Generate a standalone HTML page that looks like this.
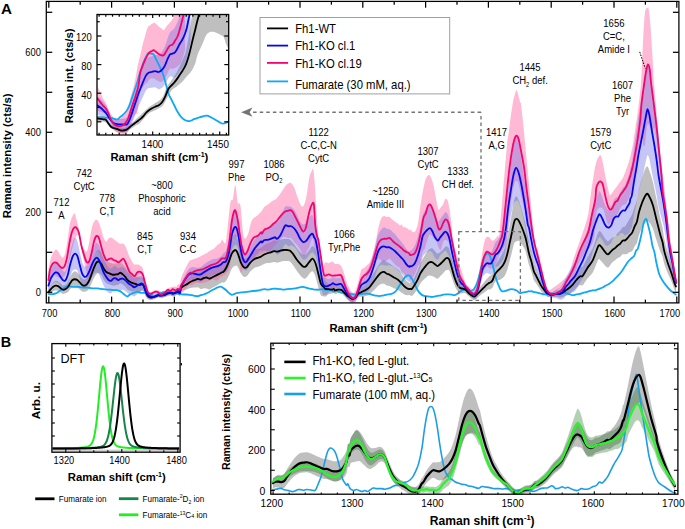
<!DOCTYPE html>
<html><head><meta charset="utf-8"><style>
html,body{margin:0;padding:0;background:#fff;}
svg{display:block;font-family:"Liberation Sans", sans-serif;}
</style></head><body>
<svg width="685" height="529" viewBox="0 0 685 529">
<rect width="685" height="529" fill="#fff"/>
<defs>
<clipPath id="cA"><rect x="46.3" y="1.4" width="632.6" height="301.5"/></clipPath>
<clipPath id="cI"><rect x="97.0" y="14.5" width="131.7" height="120.5"/></clipPath>
<clipPath id="cB"><rect x="270.8" y="343.2" width="407.09999999999997" height="151.0"/></clipPath>
<clipPath id="cD"><rect x="52.4" y="343.6" width="127.19999999999999" height="107.39999999999998"/></clipPath>
</defs>
<path d="M48.41,289.01 C48.81,288.42 50.02,286.60 50.82,285.51 C51.62,284.43 52.43,283.29 53.23,282.50 C54.03,281.71 54.84,280.96 55.64,280.77 C56.44,280.59 57.24,280.92 58.05,281.39 C58.85,281.86 59.65,282.91 60.46,283.59 C61.26,284.27 62.06,285.21 62.87,285.46 C63.67,285.71 64.47,285.65 65.28,285.11 C66.08,284.56 66.88,283.53 67.69,282.21 C68.49,280.90 69.29,278.76 70.10,277.23 C70.90,275.71 71.70,274.05 72.51,273.06 C73.31,272.07 74.11,271.38 74.92,271.29 C75.72,271.20 76.52,271.84 77.33,272.53 C78.13,273.21 78.93,274.45 79.73,275.42 C80.54,276.38 81.34,277.61 82.14,278.31 C82.95,279.00 83.75,279.79 84.55,279.59 C85.36,279.40 86.16,278.41 86.96,277.14 C87.77,275.88 88.57,274.10 89.37,271.98 C90.18,269.86 90.98,266.94 91.78,264.41 C92.59,261.89 93.39,259.10 94.19,256.84 C95.00,254.59 95.80,252.01 96.60,250.88 C97.41,249.75 98.21,249.76 99.01,250.06 C99.82,250.36 100.62,251.41 101.42,252.68 C102.22,253.96 103.03,256.32 103.83,257.71 C104.63,259.10 105.44,260.29 106.24,261.03 C107.04,261.77 107.85,261.80 108.65,262.15 C109.45,262.50 110.26,262.85 111.06,263.12 C111.86,263.38 112.67,263.68 113.47,263.76 C114.27,263.84 115.08,263.65 115.88,263.61 C116.68,263.57 117.54,263.72 118.29,263.51 C119.03,263.29 119.60,262.22 120.35,262.34 C121.10,262.45 121.97,263.42 122.78,264.19 C123.60,264.96 124.45,265.91 125.22,266.94 C125.98,267.96 126.61,269.40 127.38,270.35 C128.15,271.31 129.02,272.01 129.84,272.69 C130.66,273.37 131.48,273.94 132.30,274.41 C133.12,274.88 133.83,275.03 134.75,275.52 C135.68,276.01 136.91,276.96 137.83,277.36 C138.75,277.76 139.47,277.76 140.29,277.91 C141.11,278.07 142.03,277.48 142.75,278.28 C143.46,279.08 143.98,280.86 144.59,282.71 C145.21,284.55 145.82,287.56 146.44,289.36 C147.05,291.16 147.56,292.56 148.28,293.52 C149.00,294.47 149.92,294.88 150.74,295.10 C151.56,295.32 152.38,294.94 153.20,294.84 C154.02,294.73 154.84,294.74 155.66,294.45 C156.48,294.17 157.30,293.40 158.12,293.12 C158.94,292.85 159.76,292.81 160.58,292.78 C161.40,292.75 162.21,293.02 163.03,292.93 C163.85,292.83 164.67,292.55 165.49,292.21 C166.31,291.87 167.13,291.23 167.95,290.89 C168.77,290.55 169.59,290.21 170.41,290.17 C171.23,290.14 172.05,290.72 172.87,290.69 C173.69,290.66 174.49,290.26 175.33,289.98 C176.17,289.69 177.12,288.99 177.89,288.96 C178.67,288.93 179.51,290.47 180.00,289.79 C180.49,289.11 180.22,286.19 180.84,284.87 C181.45,283.55 182.73,282.77 183.67,281.89 C184.62,281.02 185.57,280.50 186.51,279.62 C187.46,278.75 188.40,277.52 189.35,276.64 C190.29,275.76 191.24,275.04 192.18,274.35 C193.13,273.65 194.08,273.12 195.02,272.47 C195.97,271.82 196.91,270.81 197.86,270.45 C198.80,270.08 199.75,270.68 200.70,270.27 C201.64,269.85 202.59,268.59 203.53,267.96 C204.48,267.34 205.42,266.53 206.37,266.51 C207.31,266.48 208.26,267.76 209.21,267.82 C210.15,267.88 211.10,267.23 212.04,266.86 C212.99,266.49 213.93,266.03 214.88,265.62 C215.83,265.21 216.77,264.79 217.72,264.38 C218.66,263.96 219.84,263.49 220.55,263.14 C221.27,262.78 221.53,262.60 222.00,262.23 C222.47,261.85 222.73,261.98 223.39,260.88 C224.05,259.78 225.04,257.93 225.96,255.63 C226.88,253.33 227.94,249.96 228.93,247.07 C229.92,244.18 230.91,240.47 231.90,238.30 C232.89,236.14 234.05,234.30 234.87,234.09 C235.70,233.87 236.19,235.43 236.85,237.02 C237.51,238.62 238.17,241.29 238.83,243.67 C239.49,246.05 239.99,248.97 240.81,251.31 C241.64,253.65 242.79,256.56 243.78,257.72 C244.77,258.88 245.76,258.84 246.75,258.28 C247.74,257.71 248.73,255.47 249.72,254.32 C250.71,253.16 251.70,252.17 252.69,251.35 C253.68,250.52 254.73,249.81 255.66,249.37 C256.60,248.93 257.33,249.08 258.32,248.71 C259.31,248.35 260.59,247.80 261.61,247.17 C262.62,246.55 263.42,245.62 264.43,244.98 C265.43,244.35 266.57,243.88 267.64,243.37 C268.71,242.85 269.78,242.42 270.85,241.91 C271.92,241.39 272.99,240.50 274.06,240.29 C275.14,240.08 276.21,240.73 277.28,240.63 C278.35,240.52 279.42,239.93 280.49,239.66 C281.56,239.39 282.63,239.13 283.70,239.02 C284.77,238.91 285.84,238.91 286.92,239.02 C287.99,239.13 289.06,238.96 290.13,239.66 C291.20,240.35 292.27,241.82 293.34,243.19 C294.41,244.56 295.48,246.43 296.55,247.85 C297.63,249.27 298.70,250.55 299.77,251.70 C300.84,252.86 302.04,254.21 302.98,254.76 C303.92,255.30 304.59,255.40 305.39,254.96 C306.19,254.52 307.00,253.14 307.80,252.11 C308.60,251.07 309.41,249.74 310.21,248.73 C311.01,247.72 311.82,246.04 312.62,246.04 C313.42,246.04 314.27,247.32 315.00,248.75 C315.73,250.18 316.28,251.96 317.00,254.65 C317.72,257.34 318.60,261.81 319.30,264.88 C320.00,267.95 320.40,270.82 321.20,273.07 C322.00,275.32 323.39,277.04 324.10,278.38 C324.81,279.73 324.71,280.16 325.47,281.12 C326.23,282.08 327.61,283.34 328.68,284.12 C329.75,284.90 331.05,285.63 331.90,285.78 C332.75,285.94 333.25,284.90 333.78,285.06 C334.32,285.22 334.44,286.57 335.11,286.73 C335.78,286.90 336.74,286.11 337.78,286.05 C338.82,285.99 340.28,285.80 341.35,286.35 C342.41,286.90 343.24,288.35 344.18,289.35 C345.13,290.35 346.08,291.50 347.02,292.34 C347.97,293.18 348.91,293.64 349.86,294.39 C350.80,295.14 351.75,296.70 352.70,296.83 C353.64,296.96 354.59,296.28 355.53,295.19 C356.48,294.09 357.42,291.50 358.37,290.27 C359.31,289.04 360.26,288.66 361.21,287.81 C362.15,286.96 363.10,286.02 364.04,285.16 C364.99,284.31 365.93,283.62 366.88,282.67 C367.83,281.73 368.77,280.82 369.72,279.51 C370.66,278.20 371.61,276.39 372.55,274.83 C373.50,273.27 374.44,271.71 375.39,270.15 C376.34,268.59 377.28,266.88 378.23,265.47 C379.17,264.07 380.12,262.67 381.06,261.74 C382.01,260.81 382.96,259.84 383.90,259.90 C384.85,259.96 385.79,261.52 386.74,262.10 C387.68,262.68 388.63,262.81 389.57,263.40 C390.52,263.99 391.49,264.97 392.41,265.65 C393.34,266.32 394.20,266.83 395.12,267.47 C396.05,268.11 397.01,268.59 397.96,269.48 C398.90,270.37 399.85,271.53 400.80,272.80 C401.74,274.08 402.69,275.79 403.63,277.13 C404.58,278.48 405.54,279.90 406.47,280.87 C407.39,281.85 408.58,282.71 409.17,282.99 C409.76,283.26 409.53,282.74 410.00,282.53 C410.47,282.31 411.20,282.70 412.00,281.67 C412.81,280.65 413.89,278.27 414.84,276.39 C415.78,274.51 416.73,272.63 417.67,270.40 C418.62,268.17 419.56,265.11 420.51,263.01 C421.45,260.91 422.40,259.43 423.34,257.81 C424.29,256.20 425.23,254.70 426.17,253.33 C427.12,251.95 428.06,250.41 429.01,249.55 C429.95,248.69 430.90,248.00 431.84,248.18 C432.79,248.36 433.73,249.76 434.68,250.64 C435.62,251.52 436.57,253.25 437.51,253.47 C438.46,253.69 439.40,252.69 440.35,251.97 C441.29,251.25 442.23,250.08 443.18,249.13 C444.12,248.19 445.19,246.67 446.01,246.30 C446.84,245.93 447.55,246.33 448.14,246.92 C448.73,247.51 448.97,247.96 449.56,249.82 C450.15,251.68 450.85,254.78 451.68,258.06 C452.51,261.35 453.57,266.18 454.52,269.53 C455.46,272.88 456.40,275.96 457.35,278.16 C458.29,280.36 459.25,281.72 460.18,282.71 C461.11,283.70 462.07,283.61 462.93,284.10 C463.78,284.60 464.41,284.70 465.33,285.68 C466.26,286.65 467.50,288.94 468.50,289.98 C469.50,291.01 470.39,291.35 471.34,291.87 C472.28,292.38 473.34,293.11 474.17,293.05 C475.00,292.98 475.59,292.10 476.30,291.45 C477.00,290.80 477.59,290.08 478.42,289.15 C479.25,288.22 480.31,287.00 481.26,285.85 C482.20,284.70 483.26,283.31 484.09,282.26 C484.92,281.21 485.51,280.42 486.22,279.57 C486.92,278.72 487.63,277.82 488.34,277.16 C489.05,276.50 489.76,276.31 490.47,275.60 C491.17,274.89 491.88,274.39 492.59,272.91 C493.30,271.42 494.01,268.38 494.72,266.67 C495.43,264.96 496.13,263.89 496.84,262.66 C497.55,261.42 498.26,260.39 498.97,259.26 C499.68,258.12 500.39,257.11 501.09,255.85 C501.80,254.60 502.51,253.36 503.22,251.75 C503.93,250.13 504.64,248.55 505.35,246.14 C506.05,243.74 506.76,240.73 507.47,237.32 C508.18,233.91 508.89,229.55 509.60,225.66 C510.30,221.77 511.13,217.32 511.72,214.00 C512.31,210.69 512.66,208.30 513.14,205.76 C513.62,203.22 514.04,200.31 514.60,198.75 C515.16,197.19 515.83,196.19 516.50,196.40 C517.17,196.61 517.77,197.90 518.60,200.00 C519.43,202.10 520.43,205.35 521.50,209.00 C522.57,212.65 524.15,218.49 525.00,221.87 C525.85,225.25 525.94,225.91 526.61,229.25 C527.27,232.60 528.21,238.25 529.01,241.94 C529.82,245.63 530.62,247.98 531.42,251.41 C532.22,254.83 533.03,259.64 533.83,262.49 C534.63,265.34 535.44,266.53 536.24,268.50 C537.04,270.47 537.84,272.35 538.65,274.28 C539.45,276.21 540.25,278.40 541.05,280.06 C541.86,281.72 542.66,282.85 543.46,284.23 C544.26,285.61 545.07,287.21 545.87,288.35 C546.67,289.49 547.48,290.41 548.28,291.08 C549.08,291.75 549.75,292.23 550.69,292.36 C551.62,292.49 552.83,292.18 553.90,291.85 C554.97,291.51 556.04,290.72 557.11,290.36 C558.18,289.99 559.25,290.16 560.32,289.67 C561.39,289.17 562.46,288.28 563.53,287.37 C564.60,286.47 565.67,285.28 566.74,284.22 C567.81,283.15 568.88,282.21 569.95,281.00 C571.02,279.80 572.09,278.46 573.16,276.99 C574.23,275.52 575.27,273.72 576.37,272.18 C577.48,270.63 578.74,268.68 579.79,267.71 C580.85,266.74 581.45,268.07 582.70,266.38 C583.95,264.68 585.65,260.55 587.30,257.57 C588.95,254.59 591.22,251.42 592.60,248.51 C593.98,245.60 594.60,242.88 595.60,240.08 C596.60,237.29 597.72,233.12 598.60,231.76 C599.48,230.40 600.09,231.32 600.87,231.94 C601.65,232.57 602.48,234.31 603.28,235.51 C604.08,236.70 604.88,238.19 605.69,239.13 C606.49,240.07 607.29,241.14 608.09,241.15 C608.90,241.15 609.70,239.82 610.50,239.15 C611.31,238.49 612.11,237.71 612.91,237.16 C613.71,236.61 614.52,236.55 615.32,235.85 C616.12,235.15 616.92,233.79 617.73,232.96 C618.53,232.13 619.33,231.83 620.13,230.87 C620.94,229.91 621.74,227.93 622.54,227.18 C623.35,226.43 624.15,227.09 624.95,226.38 C625.75,225.66 626.54,224.22 627.36,222.86 C628.18,221.51 629.08,219.67 629.88,218.25 C630.69,216.84 631.40,216.24 632.18,214.35 C632.95,212.47 633.74,209.34 634.54,206.95 C635.34,204.55 636.23,202.99 636.99,199.97 C637.75,196.95 638.18,192.79 639.10,188.82 C640.02,184.85 641.22,179.88 642.50,176.15 C643.78,172.41 645.58,167.12 646.80,166.43 C648.02,165.75 648.78,169.46 649.80,172.03 C650.82,174.61 651.75,177.21 652.90,181.90 C654.05,186.59 655.43,194.00 656.70,200.20 C657.97,206.40 659.53,214.55 660.50,219.10 C661.47,223.65 661.87,224.23 662.50,227.50 C663.13,230.77 663.43,234.56 664.30,238.70 C665.17,242.84 666.47,247.77 667.70,252.32 C668.93,256.87 670.57,261.92 671.70,266.02 C672.83,270.12 673.78,274.49 674.50,276.90 C675.22,279.31 675.75,279.90 676.00,280.50 L676.00,292.50 C675.75,292.00 675.22,291.25 674.50,289.50 C673.78,287.75 672.83,284.72 671.70,281.98 C670.57,279.24 668.93,276.06 667.70,273.08 C666.47,270.10 665.17,266.86 664.30,264.10 C663.43,261.34 663.13,258.50 662.50,256.50 C661.87,254.50 661.47,254.72 660.50,252.10 C659.53,249.48 657.97,244.70 656.70,240.80 C655.43,236.90 654.05,231.67 652.90,228.70 C651.75,225.73 650.82,224.19 649.80,222.97 C648.78,221.74 648.02,220.69 646.80,221.37 C645.58,222.05 643.78,224.82 642.50,227.05 C641.22,229.29 640.02,232.15 639.10,234.78 C638.18,237.42 637.75,240.93 636.99,242.87 C636.23,244.81 635.34,245.05 634.54,246.40 C633.74,247.75 632.95,250.01 632.18,250.96 C631.40,251.92 630.69,251.66 629.88,252.12 C629.08,252.57 628.18,253.32 627.36,253.69 C626.54,254.07 625.75,254.27 624.95,254.36 C624.15,254.44 623.35,253.77 622.54,254.19 C621.74,254.62 620.94,256.28 620.13,256.92 C619.33,257.57 618.53,257.54 617.73,258.05 C616.92,258.56 616.12,259.34 615.32,259.97 C614.52,260.61 613.71,261.09 612.91,261.87 C612.11,262.66 611.31,263.75 610.50,264.70 C609.70,265.64 608.90,267.24 608.09,267.52 C607.29,267.79 606.49,266.99 605.69,266.32 C604.88,265.66 604.08,264.47 603.28,263.53 C602.48,262.58 601.65,261.38 600.87,260.67 C600.09,259.96 599.48,258.37 598.60,259.24 C597.72,260.11 596.60,263.67 595.60,265.92 C594.60,268.16 593.98,270.54 592.60,272.69 C591.22,274.84 588.95,276.74 587.30,278.83 C585.65,280.92 583.95,284.18 582.70,285.23 C581.45,286.27 580.85,284.66 579.79,285.10 C578.74,285.54 577.48,286.87 576.37,287.86 C575.27,288.86 574.23,290.14 573.16,291.07 C572.09,292.01 571.02,292.81 569.95,293.48 C568.88,294.15 567.81,294.54 566.74,295.09 C565.67,295.63 564.60,296.31 563.53,296.74 C562.46,297.17 561.39,297.62 560.32,297.66 C559.25,297.70 558.18,297.07 557.11,296.97 C556.04,296.88 554.97,297.15 553.90,297.09 C552.83,297.02 551.62,296.60 550.69,296.57 C549.75,296.54 549.08,297.03 548.28,296.89 C547.48,296.76 546.67,296.34 545.87,295.77 C545.07,295.20 544.26,294.22 543.46,293.46 C542.66,292.70 541.86,292.23 541.05,291.22 C540.25,290.20 539.45,288.65 538.65,287.36 C537.84,286.08 537.04,284.76 536.24,283.51 C535.44,282.26 534.63,281.86 533.83,279.89 C533.03,277.92 532.22,274.17 531.42,271.70 C530.62,269.24 529.82,267.85 529.01,265.12 C528.21,262.39 527.27,257.87 526.61,255.33 C525.94,252.79 525.85,251.76 525.00,249.87 C524.15,247.98 522.57,245.51 521.50,244.00 C520.43,242.49 519.43,241.23 518.60,240.80 C517.77,240.37 517.17,241.12 516.50,241.40 C515.83,241.68 515.16,241.51 514.60,242.45 C514.04,243.40 513.62,245.32 513.14,247.08 C512.66,248.83 512.31,250.65 511.72,253.00 C511.13,255.35 510.30,258.46 509.60,261.18 C508.89,263.91 508.18,267.11 507.47,269.36 C506.76,271.62 506.05,273.33 505.35,274.71 C504.64,276.08 503.93,276.87 503.22,277.61 C502.51,278.35 501.80,278.77 501.09,279.17 C500.39,279.57 499.68,279.73 498.97,280.02 C498.26,280.30 497.55,280.45 496.84,280.87 C496.13,281.28 495.43,281.40 494.72,282.52 C494.01,283.65 493.30,286.51 492.59,287.62 C491.88,288.73 491.17,288.85 490.47,289.18 C489.76,289.51 489.05,289.32 488.34,289.61 C487.63,289.89 486.92,290.41 486.22,290.88 C485.51,291.35 484.92,291.83 484.09,292.44 C483.26,293.05 482.20,293.78 481.26,294.52 C480.31,295.26 479.25,296.17 478.42,296.89 C477.59,297.61 477.00,298.30 476.30,298.83 C475.59,299.37 475.00,300.14 474.17,300.07 C473.34,300.01 472.28,299.09 471.34,298.42 C470.39,297.75 469.50,296.92 468.50,296.06 C467.50,295.20 466.26,293.76 465.33,293.27 C464.41,292.79 463.78,293.13 462.93,293.15 C462.07,293.17 461.11,293.78 460.18,293.40 C459.25,293.02 458.29,292.22 457.35,290.87 C456.40,289.52 455.46,287.65 454.52,285.33 C453.57,283.01 452.51,279.34 451.68,276.96 C450.85,274.57 450.15,272.24 449.56,271.03 C448.97,269.82 448.73,269.80 448.14,269.68 C447.55,269.56 446.84,269.72 446.01,270.30 C445.19,270.88 444.12,272.19 443.18,273.13 C442.23,274.08 441.29,275.04 440.35,275.97 C439.40,276.90 438.46,278.49 437.51,278.72 C436.57,278.94 435.62,277.74 434.68,277.30 C433.73,276.86 432.79,276.36 431.84,276.07 C430.90,275.78 429.95,275.33 429.01,275.55 C428.06,275.78 427.12,276.70 426.17,277.44 C425.23,278.19 424.29,279.06 423.34,280.04 C422.40,281.03 421.45,281.90 420.51,283.35 C419.56,284.79 418.62,287.16 417.67,288.71 C416.73,290.26 415.78,291.45 414.84,292.64 C413.89,293.83 412.81,295.42 412.00,295.86 C411.20,296.29 410.47,295.38 410.00,295.25 C409.53,295.13 409.76,295.13 409.17,295.11 C408.58,295.09 407.39,295.33 406.47,295.13 C405.54,294.93 404.58,294.41 403.63,293.91 C402.69,293.40 401.74,292.75 400.80,292.09 C399.85,291.44 398.90,290.55 397.96,289.99 C397.01,289.42 396.05,289.09 395.12,288.69 C394.20,288.28 393.34,287.99 392.41,287.54 C391.49,287.10 390.52,286.36 389.57,286.01 C388.63,285.65 387.68,285.78 386.74,285.42 C385.79,285.05 384.85,284.09 383.90,283.84 C382.96,283.58 382.01,283.55 381.06,283.89 C380.12,284.22 379.17,285.02 378.23,285.83 C377.28,286.63 376.34,287.75 375.39,288.71 C374.44,289.68 373.50,290.64 372.55,291.60 C371.61,292.56 370.66,293.78 369.72,294.49 C368.77,295.20 367.83,295.54 366.88,295.86 C365.93,296.18 364.99,296.24 364.04,296.40 C363.10,296.55 362.15,296.68 361.21,296.78 C360.26,296.87 359.31,296.49 358.37,296.96 C357.42,297.44 356.48,298.81 355.53,299.61 C354.59,300.41 353.64,301.62 352.70,301.75 C351.75,301.88 350.80,300.92 349.86,300.41 C348.91,299.89 347.97,299.41 347.02,298.67 C346.08,297.94 345.13,296.89 344.18,295.99 C343.24,295.10 342.41,293.76 341.35,293.32 C340.28,292.87 338.82,293.18 337.78,293.34 C336.74,293.50 335.78,294.37 335.11,294.27 C334.44,294.17 334.32,292.83 333.78,292.72 C333.25,292.61 332.75,293.35 331.90,293.61 C331.05,293.88 329.75,293.80 328.68,294.31 C327.61,294.82 326.23,296.35 325.47,296.67 C324.71,296.99 324.81,296.37 324.10,296.22 C323.39,296.06 322.00,296.65 321.20,295.73 C320.40,294.82 320.00,292.98 319.30,290.72 C318.60,288.45 317.72,284.73 317.00,282.15 C316.28,279.57 315.73,277.05 315.00,275.25 C314.27,273.45 313.42,271.75 312.62,271.35 C311.82,270.95 311.01,272.08 310.21,272.84 C309.41,273.59 308.60,274.94 307.80,275.89 C307.00,276.83 306.19,278.13 305.39,278.50 C304.59,278.86 303.92,278.69 302.98,278.05 C302.04,277.42 300.84,275.94 299.77,274.68 C298.70,273.42 297.63,272.03 296.55,270.50 C295.48,268.98 294.41,267.00 293.34,265.52 C292.27,264.05 291.20,262.42 290.13,261.67 C289.06,260.92 287.99,261.13 286.92,261.02 C285.84,260.91 284.77,260.91 283.70,261.02 C282.63,261.13 281.56,261.39 280.49,261.66 C279.42,261.93 278.35,262.57 277.28,262.63 C276.21,262.68 275.14,262.00 274.06,262.00 C272.99,262.00 271.92,262.45 270.85,262.63 C269.78,262.81 268.71,262.92 267.64,263.10 C266.57,263.28 265.43,263.38 264.43,263.73 C263.42,264.08 262.62,264.68 261.61,265.17 C260.59,265.67 259.31,266.35 258.32,266.71 C257.33,267.08 256.60,266.93 255.66,267.37 C254.73,267.81 253.68,268.52 252.69,269.35 C251.70,270.17 250.71,271.16 249.72,272.32 C248.73,273.47 247.74,275.52 246.75,276.28 C245.76,277.03 244.77,277.32 243.78,276.83 C242.79,276.34 241.64,274.63 240.81,273.35 C239.99,272.06 239.49,270.35 238.83,269.10 C238.17,267.85 237.51,266.36 236.85,265.85 C236.19,265.33 235.70,265.57 234.87,266.01 C234.05,266.46 232.89,266.93 231.90,268.53 C230.91,270.13 229.92,273.54 228.93,275.60 C227.94,277.67 226.88,279.72 225.96,280.91 C225.04,282.10 224.05,282.52 223.39,282.74 C222.73,282.96 222.47,282.13 222.00,282.23 C221.53,282.32 221.27,282.87 220.55,283.32 C219.84,283.76 218.66,284.38 217.72,284.91 C216.77,285.45 215.83,285.98 214.88,286.51 C213.93,287.04 212.99,287.62 212.04,288.10 C211.10,288.59 210.15,289.36 209.21,289.42 C208.26,289.48 207.31,288.63 206.37,288.46 C205.42,288.29 204.48,288.34 203.53,288.42 C202.59,288.50 201.64,289.13 200.70,288.95 C199.75,288.77 198.80,287.58 197.86,287.36 C196.91,287.13 195.97,287.55 195.02,287.60 C194.08,287.66 193.13,287.60 192.18,287.71 C191.24,287.82 190.29,287.95 189.35,288.25 C188.40,288.55 187.46,289.22 186.51,289.53 C185.57,289.83 184.62,289.79 183.67,290.10 C182.73,290.40 181.45,290.42 180.84,291.37 C180.22,292.32 180.49,295.22 180.00,295.79 C179.51,296.36 178.67,294.82 177.89,294.79 C177.12,294.76 176.17,295.38 175.33,295.60 C174.49,295.82 173.69,296.15 172.87,296.12 C172.05,296.09 171.23,295.44 170.41,295.41 C169.59,295.37 168.77,295.65 167.95,295.92 C167.13,296.20 166.31,296.78 165.49,297.05 C164.67,297.33 163.85,297.54 163.03,297.57 C162.21,297.60 161.40,297.26 160.58,297.23 C159.76,297.19 158.94,297.16 158.12,297.37 C157.30,297.59 156.48,298.17 155.66,298.50 C154.84,298.83 154.02,299.05 153.20,299.35 C152.38,299.65 151.56,300.30 150.74,300.32 C149.92,300.33 149.00,299.92 148.28,299.44 C147.56,298.96 147.05,298.51 146.44,297.45 C145.82,296.38 145.21,294.26 144.59,293.03 C143.98,291.81 143.46,290.31 142.75,290.08 C142.03,289.86 141.11,291.32 140.29,291.68 C139.47,292.04 138.75,292.24 137.83,292.23 C136.91,292.22 135.68,291.74 134.75,291.62 C133.83,291.49 133.12,291.64 132.30,291.49 C131.48,291.35 130.66,291.10 129.84,290.76 C129.02,290.41 128.15,290.05 127.38,289.40 C126.61,288.75 125.98,287.65 125.22,286.85 C124.45,286.05 123.60,285.20 122.78,284.59 C121.97,283.98 121.10,283.16 120.35,283.18 C119.60,283.21 119.03,284.38 118.29,284.73 C117.54,285.07 116.68,285.09 115.88,285.27 C115.08,285.44 114.27,285.78 113.47,285.76 C112.67,285.73 111.86,285.38 111.06,285.12 C110.26,284.85 109.45,284.50 108.65,284.15 C107.85,283.80 107.04,283.73 106.24,283.03 C105.44,282.32 104.63,281.20 103.83,279.92 C103.03,278.63 102.22,276.44 101.42,275.31 C100.62,274.17 99.82,273.35 99.01,273.11 C98.21,272.88 97.41,273.16 96.60,273.90 C95.80,274.64 95.00,276.08 94.19,277.58 C93.39,279.07 92.59,281.10 91.78,282.86 C90.98,284.62 90.18,286.78 89.37,288.14 C88.57,289.50 87.77,290.40 86.96,291.01 C86.16,291.61 85.36,291.70 84.55,291.77 C83.75,291.85 82.95,291.83 82.14,291.45 C81.34,291.08 80.54,290.17 79.73,289.52 C78.93,288.88 78.13,287.98 77.33,287.60 C76.52,287.21 75.72,287.31 74.92,287.22 C74.11,287.13 73.31,286.71 72.51,287.06 C71.70,287.41 70.90,288.43 70.10,289.31 C69.29,290.20 68.49,291.69 67.69,292.36 C66.88,293.03 66.08,293.07 65.28,293.33 C64.47,293.59 63.67,294.06 62.87,293.94 C62.06,293.81 61.26,293.10 60.46,292.60 C59.65,292.10 58.85,291.27 58.05,290.94 C57.24,290.60 56.44,290.56 55.64,290.59 C54.84,290.62 54.03,290.73 53.23,291.11 C52.43,291.50 51.62,292.24 50.82,292.92 C50.02,293.60 48.81,294.83 48.41,295.21 Z" fill="#808080" fill-opacity="0.5" stroke="none" clip-path="url(#cA)"/>
<path d="M48.41,269.62 C48.81,267.74 50.02,261.18 50.82,258.37 C51.62,255.56 52.43,254.22 53.23,252.75 C54.03,251.28 54.84,249.81 55.64,249.54 C56.44,249.27 57.24,250.21 58.05,251.14 C58.85,252.08 59.65,254.09 60.46,255.16 C61.26,256.23 62.06,257.97 62.87,257.57 C63.67,257.17 64.47,255.83 65.28,252.75 C66.08,249.67 66.88,244.05 67.69,239.10 C68.49,234.14 69.03,227.32 70.10,223.03 C71.17,218.75 73.04,213.93 74.11,213.39 C75.18,212.86 75.72,217.14 76.52,219.82 C77.33,222.50 78.13,225.44 78.93,229.46 C79.73,233.47 80.40,240.57 81.34,243.92 C82.28,247.26 83.62,248.33 84.55,249.54 C85.49,250.74 86.16,252.48 86.96,251.14 C87.77,249.81 88.57,245.39 89.37,241.51 C90.18,237.62 90.98,231.20 91.78,227.85 C92.59,224.50 93.39,222.76 94.19,221.43 C95.00,220.09 95.80,219.55 96.60,219.82 C97.41,220.09 98.21,221.29 99.01,223.03 C99.82,224.77 100.62,227.72 101.42,230.26 C102.22,232.80 103.03,236.42 103.83,238.29 C104.63,240.17 105.44,241.51 106.24,241.51 C107.04,241.51 107.85,238.96 108.65,238.29 C109.45,237.62 110.26,237.36 111.06,237.49 C111.86,237.62 112.53,238.43 113.47,239.10 C114.41,239.77 115.60,240.74 116.68,241.51 C117.76,242.27 118.88,243.33 119.95,243.67 C121.02,244.01 122.11,242.99 123.09,243.55 C124.07,244.11 124.91,245.17 125.83,247.02 C126.75,248.88 127.73,252.58 128.61,254.67 C129.48,256.77 130.25,258.05 131.07,259.59 C131.89,261.13 132.71,263.07 133.53,263.89 C134.34,264.71 135.16,264.41 135.98,264.51 C136.80,264.61 137.62,264.20 138.44,264.51 C139.26,264.82 140.19,265.74 140.90,266.35 C141.62,266.97 142.23,266.66 142.75,268.20 C143.26,269.74 143.46,272.71 143.98,275.58 C144.49,278.44 145.21,282.85 145.82,285.41 C146.44,287.97 146.85,289.82 147.67,290.94 C148.48,292.07 149.61,292.28 150.74,292.17 C151.87,292.07 153.20,290.64 154.43,290.33 C155.66,290.02 156.89,290.13 158.12,290.33 C159.35,290.54 160.58,291.56 161.80,291.56 C163.03,291.56 164.26,290.94 165.49,290.33 C166.72,289.72 167.95,288.49 169.18,287.87 C170.41,287.26 171.64,286.85 172.87,286.64 C174.10,286.44 175.70,286.99 176.56,286.64 C177.41,286.30 177.43,284.98 178.00,284.57 C178.57,284.16 179.53,285.13 180.00,284.18 C180.48,283.24 180.22,280.96 180.84,278.90 C181.45,276.84 182.73,273.94 183.67,271.81 C184.62,269.68 185.57,267.91 186.51,266.13 C187.46,264.36 188.40,262.23 189.35,261.17 C190.29,260.11 191.00,260.22 192.18,259.75 C193.37,259.28 195.02,258.92 196.44,258.33 C197.86,257.74 199.28,256.91 200.70,256.21 C202.11,255.50 203.53,254.91 204.95,254.08 C206.37,253.25 208.02,251.95 209.21,251.24 C210.39,250.53 211.10,250.41 212.04,249.82 C212.99,249.23 213.93,248.52 214.88,247.70 C215.83,246.87 216.77,245.69 217.72,244.86 C218.66,244.03 219.84,243.61 220.55,242.73 C221.27,241.85 221.53,239.79 222.00,239.55 C222.47,239.32 222.71,241.14 223.39,241.31 C224.07,241.48 224.96,246.83 226.09,240.57 C227.23,234.32 229.06,210.72 230.19,203.78 C231.32,196.85 232.04,202.06 232.89,198.96 C233.74,195.87 234.46,184.55 235.28,185.21 C236.11,185.87 236.98,199.50 237.84,202.92 C238.70,206.35 239.47,200.15 240.46,205.76 C241.45,211.37 242.57,231.78 243.78,236.58 C245.00,241.39 246.42,237.24 247.74,234.60 C249.06,231.96 250.38,223.71 251.70,220.74 C253.02,217.77 254.61,217.76 255.66,216.78 C256.71,215.81 257.06,215.77 258.00,214.91 C258.94,214.04 260.31,212.86 261.31,211.60 C262.32,210.33 263.09,208.43 264.05,207.34 C265.01,206.26 266.07,205.83 267.07,205.08 C268.08,204.32 269.09,203.56 270.10,202.81 C271.11,202.05 272.11,201.17 273.12,200.54 C274.13,199.91 275.14,199.91 276.15,199.03 C277.16,198.14 278.16,196.63 279.17,195.25 C280.18,193.86 281.19,192.22 282.20,190.71 C283.20,189.20 284.21,187.38 285.22,186.17 C286.23,184.96 287.24,183.95 288.25,183.45 C289.25,182.95 290.26,182.44 291.27,183.15 C292.28,183.85 293.29,185.42 294.29,187.68 C295.30,189.95 296.31,193.99 297.32,196.76 C298.33,199.53 299.46,202.68 300.34,204.32 C301.23,205.96 301.86,206.84 302.61,206.59 C303.37,206.34 304.12,205.20 304.88,202.81 C305.64,200.41 306.39,196.51 307.15,192.22 C307.91,187.94 308.66,180.63 309.42,177.10 C310.17,173.57 311.06,172.31 311.69,171.05 C312.32,169.79 312.69,167.52 313.20,169.54 C313.70,171.55 314.21,176.85 314.71,183.15 C315.21,189.45 315.72,199.78 316.22,207.34 C316.73,214.91 316.86,218.94 317.74,228.52 C318.61,238.09 320.16,259.15 321.45,264.80 C322.74,270.44 324.27,262.66 325.47,262.39 C326.67,262.12 327.61,263.33 328.68,263.19 C329.75,263.06 331.05,261.72 331.90,261.59 C332.75,261.46 333.25,262.01 333.78,262.41 C334.32,262.81 334.44,263.77 335.11,264.00 C335.78,264.22 336.90,263.54 337.78,263.75 C338.66,263.96 339.65,264.53 340.40,265.25 C341.15,265.97 341.66,266.67 342.29,268.09 C342.92,269.50 343.40,271.24 344.18,273.76 C344.97,276.28 346.08,280.69 347.02,283.22 C347.97,285.74 348.91,287.31 349.86,288.89 C350.80,290.46 351.75,292.36 352.70,292.67 C353.64,292.99 354.59,292.67 355.53,290.78 C356.48,288.89 357.42,284.79 358.37,281.32 C359.31,277.86 360.26,272.18 361.21,269.98 C362.15,267.77 363.10,268.87 364.04,268.09 C364.99,267.30 365.93,266.19 366.88,265.25 C367.83,264.30 368.77,264.14 369.72,262.41 C370.66,260.68 371.61,258.00 372.55,254.85 C373.50,251.69 374.44,247.91 375.39,243.50 C376.34,239.09 377.28,232.47 378.23,228.37 C379.17,224.27 380.12,220.96 381.06,218.91 C382.01,216.86 382.96,216.39 383.90,216.08 C384.85,215.76 385.79,216.86 386.74,217.02 C387.68,217.18 388.63,216.55 389.57,217.02 C390.52,217.49 391.47,219.07 392.41,219.86 C393.36,220.65 394.30,221.12 395.25,221.75 C396.19,222.38 397.29,223.02 398.09,223.64 C398.88,224.26 399.37,225.32 400.00,225.48 C400.63,225.64 401.36,224.33 401.87,224.59 C402.37,224.84 402.36,226.51 403.02,226.99 C403.69,227.47 404.84,226.99 405.85,227.49 C406.86,227.99 408.38,229.71 409.07,230.01 C409.76,230.32 409.50,229.06 410.00,229.31 C410.50,229.57 411.24,231.16 412.10,231.53 C412.95,231.89 414.11,233.04 415.12,231.53 C416.13,230.01 417.26,226.74 418.14,222.45 C419.03,218.17 419.66,210.86 420.41,205.82 C421.17,200.78 421.92,196.25 422.68,192.21 C423.44,188.18 424.19,184.28 424.95,181.63 C425.70,178.99 426.46,177.40 427.21,176.34 C427.97,175.28 428.73,174.78 429.48,175.28 C430.24,175.79 430.99,177.30 431.75,179.36 C432.51,181.43 433.26,184.28 434.02,187.68 C434.77,191.08 435.53,196.12 436.29,199.77 C437.04,203.43 437.80,208.34 438.55,209.60 C439.31,210.86 440.07,208.22 440.82,207.33 C441.58,206.45 442.33,205.70 443.09,204.31 C443.85,202.92 444.60,199.65 445.36,199.02 C446.11,198.39 447.00,199.14 447.63,200.53 C448.26,201.92 448.51,203.68 449.14,207.33 C449.77,210.99 450.65,216.41 451.41,222.45 C452.16,228.50 451.77,234.93 453.67,243.62 C455.58,252.31 460.84,268.02 462.83,274.60 C464.83,281.18 464.72,280.97 465.67,283.10 C466.61,285.22 467.56,285.93 468.50,287.35 C469.45,288.77 470.39,290.89 471.34,291.60 C472.28,292.31 473.23,292.78 474.17,291.60 C475.12,290.42 476.06,288.53 477.00,284.52 C477.95,280.50 478.89,273.18 479.84,267.51 C480.78,261.84 481.85,254.99 482.67,250.51 C483.50,246.02 484.09,242.83 484.80,240.59 C485.51,238.34 486.10,237.52 486.92,237.04 C487.75,236.57 488.93,237.16 489.76,237.75 C490.58,238.34 491.17,240.23 491.88,240.59 C492.59,240.94 493.30,240.35 494.01,239.88 C494.72,239.41 495.43,238.58 496.13,237.75 C496.84,236.93 497.67,236.10 498.26,234.92 C498.85,233.74 498.30,244.82 499.68,230.67 C501.05,216.51 505.03,166.11 506.50,150.00 C507.97,133.89 507.80,139.50 508.50,134.00 C509.20,128.50 509.95,122.33 510.70,117.00 C511.45,111.67 512.28,105.83 513.00,102.00 C513.72,98.17 514.42,95.95 515.00,94.00 C515.58,92.05 516.00,90.30 516.50,90.30 C517.00,90.30 517.42,92.05 518.00,94.00 C518.58,95.95 519.25,98.17 520.00,102.00 C520.75,105.83 520.06,93.89 522.50,117.00 C524.94,140.11 532.21,219.00 534.63,240.69 C537.06,262.37 536.24,244.43 537.04,247.11 C537.84,249.78 538.65,253.26 539.45,256.74 C540.25,260.22 541.05,264.23 541.86,267.98 C542.66,271.72 543.46,276.00 544.26,279.22 C545.07,282.43 545.87,285.37 546.67,287.24 C547.48,289.12 545.59,292.36 549.08,290.45 C552.57,288.55 563.63,280.78 567.60,275.80 C571.57,270.82 571.13,265.65 572.90,260.60 C574.67,255.55 576.43,250.55 578.20,245.50 C579.97,240.45 581.87,235.35 583.50,230.30 C585.13,225.25 586.80,221.02 588.00,215.20 C589.20,209.38 589.66,202.49 590.67,195.40 C591.68,188.31 593.12,178.22 594.07,172.67 C595.01,167.12 595.58,164.73 596.33,162.09 C597.09,159.45 597.97,157.93 598.60,156.80 C599.23,155.67 599.61,155.16 600.11,155.29 C600.62,155.42 600.99,155.42 601.62,157.56 C602.25,159.70 603.14,164.36 603.89,168.14 C604.65,171.91 605.40,176.57 606.16,180.23 C606.91,183.88 607.78,187.57 608.42,190.05 C609.06,192.53 609.15,194.94 610.00,195.10 C610.85,195.26 612.37,192.42 613.50,191.00 C614.63,189.58 615.72,188.10 616.80,186.60 C617.88,185.10 619.00,183.42 620.00,182.00 C621.00,180.58 621.80,180.10 622.80,178.10 C623.80,176.10 624.95,172.83 626.00,170.00 C627.05,167.17 628.23,164.02 629.10,161.10 C629.97,158.18 630.55,155.35 631.20,152.50 C631.85,149.65 632.28,148.25 633.00,144.00 C633.72,139.75 634.65,132.67 635.50,127.00 C636.35,121.33 637.18,117.33 638.10,110.00 C639.02,102.67 640.30,91.88 641.00,83.00 C641.70,74.12 641.90,64.87 642.30,56.70 C642.70,48.53 643.07,40.12 643.40,34.00 C643.73,27.88 644.02,23.78 644.30,20.00 C644.58,16.22 644.78,13.23 645.10,11.30 C645.42,9.37 645.82,8.97 646.20,8.40 C646.58,7.83 647.00,7.90 647.40,7.90 C647.80,7.90 648.10,5.58 648.60,8.40 C649.10,11.22 649.75,16.77 650.40,24.82 C651.05,32.88 651.90,47.00 652.50,56.70 C653.10,66.40 653.37,74.15 654.00,83.00 C654.63,91.85 655.47,100.30 656.30,109.80 C657.13,119.30 658.13,130.80 659.00,140.00 C659.87,149.20 660.67,156.67 661.50,165.00 C662.33,173.33 663.08,181.67 664.00,190.00 C664.92,198.33 666.00,206.67 667.00,215.00 C668.00,223.33 669.00,232.17 670.00,240.00 C671.00,247.83 672.00,255.33 673.00,262.00 C674.00,268.67 675.50,277.00 676.00,280.00 L676.00,281.18 C675.50,278.63 674.00,270.49 673.00,265.91 C672.00,261.33 671.00,260.33 670.00,253.68 C669.00,247.03 668.00,233.05 667.00,226.00 C666.00,218.95 664.92,217.98 664.00,211.41 C663.08,204.84 662.33,194.99 661.50,186.60 C660.67,178.21 659.87,168.99 659.00,161.07 C658.13,153.14 657.13,144.53 656.30,139.06 C655.47,133.58 654.63,129.55 654.00,128.20 C653.37,126.85 653.10,131.11 652.50,130.94 C651.90,130.77 651.05,128.31 650.40,127.17 C649.75,126.04 649.10,124.52 648.60,124.13 C648.10,123.75 647.80,123.39 647.40,124.85 C647.00,126.31 646.58,129.66 646.20,132.90 C645.82,136.14 645.42,142.12 645.10,144.30 C644.78,146.48 644.58,145.84 644.30,146.00 C644.02,146.16 643.73,146.46 643.40,145.25 C643.07,144.03 642.70,139.83 642.30,138.73 C641.90,137.63 641.70,134.71 641.00,138.64 C640.30,142.57 639.02,155.94 638.10,162.31 C637.18,168.68 636.35,173.03 635.50,176.87 C634.65,180.70 633.72,182.81 633.00,185.32 C632.28,187.83 631.85,189.87 631.20,191.92 C630.55,193.96 629.97,195.62 629.10,197.60 C628.23,199.58 627.05,202.52 626.00,203.80 C624.95,205.08 623.80,204.43 622.80,205.30 C621.80,206.17 621.00,207.30 620.00,209.02 C619.00,210.73 617.88,213.72 616.80,215.58 C615.72,217.44 614.63,218.96 613.50,220.18 C612.37,221.40 610.85,222.14 610.00,222.91 C609.15,223.68 609.06,225.37 608.42,224.81 C607.78,224.24 606.91,221.91 606.16,219.52 C605.40,217.13 604.65,212.41 603.89,210.45 C603.14,208.49 602.25,208.21 601.62,207.73 C600.99,207.25 600.62,207.50 600.11,207.58 C599.61,207.65 599.23,207.20 598.60,208.18 C597.97,209.17 597.09,208.59 596.33,213.47 C595.58,218.35 595.01,231.98 594.07,237.46 C593.12,242.94 591.68,244.35 590.67,246.35 C589.66,248.35 589.20,248.06 588.00,249.45 C586.80,250.85 585.13,252.15 583.50,254.70 C581.87,257.25 579.97,260.77 578.20,264.76 C576.43,268.74 574.67,275.50 572.90,278.60 C571.13,281.70 571.57,280.57 567.60,283.35 C563.63,286.13 552.57,293.82 549.08,295.27 C545.59,296.72 547.48,293.66 546.67,292.06 C545.87,290.45 545.07,288.05 544.26,285.64 C543.46,283.23 542.66,280.29 541.86,277.61 C541.05,274.93 540.25,272.53 539.45,269.58 C538.65,266.64 537.84,263.70 537.04,259.95 C536.24,256.21 537.06,256.88 534.63,247.11 C532.21,237.34 524.94,210.86 522.50,201.32 C520.06,191.78 520.75,193.06 520.00,189.86 C519.25,186.66 518.58,183.57 518.00,182.11 C517.42,180.65 517.00,181.06 516.50,181.10 C516.00,181.14 515.58,180.95 515.00,182.35 C514.42,183.75 513.72,186.16 513.00,189.50 C512.28,192.84 511.45,197.37 510.70,202.40 C509.95,207.43 509.20,213.18 508.50,219.70 C507.80,226.21 507.97,235.74 506.50,241.51 C505.03,247.27 501.05,251.60 499.68,254.29 C498.30,256.97 498.85,256.10 498.26,257.59 C497.67,259.09 496.84,261.72 496.13,263.26 C495.43,264.80 494.72,265.95 494.01,266.80 C493.30,267.65 492.59,268.09 491.88,268.36 C491.17,268.63 490.58,268.79 489.76,268.43 C488.93,268.08 487.75,266.15 486.92,266.24 C486.10,266.32 485.51,267.77 484.80,268.93 C484.09,270.09 483.50,270.27 482.67,273.18 C481.85,276.09 480.78,282.94 479.84,286.40 C478.89,289.87 477.95,292.39 477.00,293.96 C476.06,295.54 475.12,295.87 474.17,295.85 C473.23,295.84 472.28,294.58 471.34,293.87 C470.39,293.16 469.45,292.33 468.50,291.60 C467.56,290.87 466.61,290.03 465.67,289.51 C464.72,288.99 464.83,294.29 462.83,288.48 C460.84,282.67 455.58,260.62 453.67,254.65 C451.77,248.67 452.16,254.45 451.41,252.61 C450.65,250.78 449.77,245.50 449.14,243.62 C448.51,241.74 448.26,241.98 447.63,241.35 C447.00,240.72 446.11,239.72 445.36,239.84 C444.60,239.97 443.85,240.47 443.09,242.11 C442.33,243.75 441.58,248.79 440.82,249.67 C440.07,250.55 439.31,248.79 438.55,247.40 C437.80,246.02 437.04,242.74 436.29,241.35 C435.53,239.97 434.77,240.06 434.02,239.09 C433.26,238.11 432.51,236.23 431.75,235.51 C430.99,234.78 430.24,233.94 429.48,234.75 C428.73,235.56 427.97,238.11 427.21,240.35 C426.46,242.58 425.70,246.20 424.95,248.16 C424.19,250.11 423.44,249.63 422.68,252.06 C421.92,254.49 421.17,260.42 420.41,262.74 C419.66,265.05 419.03,264.10 418.14,265.94 C417.26,267.78 416.13,271.76 415.12,273.75 C414.11,275.74 412.95,276.79 412.10,277.90 C411.24,279.00 410.50,280.60 410.00,280.38 C409.50,280.16 409.76,277.34 409.07,276.57 C408.38,275.79 406.86,276.41 405.85,275.72 C404.84,275.03 403.69,272.96 403.02,272.42 C402.36,271.89 402.37,273.22 401.87,272.51 C401.36,271.80 400.63,269.10 400.00,268.15 C399.37,267.20 398.88,267.38 398.09,266.80 C397.29,266.21 396.19,265.53 395.25,264.64 C394.30,263.75 393.36,262.47 392.41,261.47 C391.47,260.46 390.52,258.79 389.57,258.63 C388.63,258.47 387.68,260.05 386.74,260.52 C385.79,260.99 384.85,261.47 383.90,261.47 C382.96,261.47 382.01,260.99 381.06,260.52 C380.12,260.05 379.17,258.31 378.23,258.63 C377.28,258.94 376.34,260.52 375.39,262.41 C374.44,264.30 373.50,267.45 372.55,269.98 C371.61,272.50 370.66,275.49 369.72,277.54 C368.77,279.59 367.83,281.32 366.88,282.27 C365.93,283.22 364.99,282.11 364.04,283.22 C363.10,284.32 362.15,286.68 361.21,288.89 C360.26,291.10 359.31,294.25 358.37,296.45 C357.42,298.66 356.48,300.87 355.53,302.13 C354.59,303.39 353.64,304.02 352.70,304.02 C351.75,304.02 350.80,303.07 349.86,302.13 C348.91,301.18 347.97,299.92 347.02,298.35 C346.08,296.77 344.97,294.35 344.18,292.67 C343.40,290.99 342.92,289.41 342.29,288.26 C341.66,287.11 341.15,286.03 340.40,285.79 C339.65,285.54 338.66,286.57 337.78,286.78 C336.90,286.99 335.78,286.73 335.11,287.07 C334.44,287.40 334.32,288.32 333.78,288.79 C333.25,289.26 332.75,290.38 331.90,289.86 C331.05,289.34 329.75,285.94 328.68,285.68 C327.61,285.43 326.67,293.20 325.47,288.33 C324.27,283.46 322.74,263.22 321.45,256.45 C320.16,249.67 318.61,247.90 317.74,247.69 C316.86,247.47 316.73,254.75 316.22,255.15 C315.72,255.55 315.21,252.75 314.71,250.07 C314.21,247.40 313.70,240.85 313.20,239.10 C312.69,237.36 312.32,238.35 311.69,239.61 C311.06,240.87 310.17,244.82 309.42,246.66 C308.66,248.51 307.91,249.10 307.15,250.70 C306.39,252.29 305.64,255.53 304.88,256.24 C304.12,256.96 303.37,256.07 302.61,254.98 C301.86,253.89 301.23,251.33 300.34,249.69 C299.46,248.05 298.33,246.41 297.32,245.15 C296.31,243.89 295.30,243.29 294.29,242.13 C293.29,240.97 292.28,238.90 291.27,238.19 C290.26,237.49 289.25,238.09 288.25,237.89 C287.24,237.69 286.23,237.04 285.22,236.98 C284.21,236.93 283.20,236.98 282.20,237.59 C281.19,238.19 280.18,239.48 279.17,240.61 C278.16,241.75 277.16,243.26 276.15,244.40 C275.14,245.53 274.13,246.29 273.12,247.42 C272.11,248.55 271.11,250.44 270.10,251.20 C269.09,251.96 268.08,251.70 267.07,251.96 C266.07,252.21 265.01,252.41 264.05,252.71 C263.09,253.02 262.32,253.17 261.31,253.78 C260.31,254.39 258.94,255.89 258.00,256.37 C257.06,256.86 256.71,255.93 255.66,256.70 C254.61,257.48 253.02,259.41 251.70,261.01 C250.38,262.60 249.06,265.30 247.74,266.29 C246.42,267.28 245.00,266.15 243.78,266.95 C242.57,267.75 241.45,275.82 240.46,271.09 C239.47,266.36 238.70,244.13 237.84,238.56 C236.98,233.00 236.11,238.44 235.28,237.73 C234.46,237.01 233.74,229.71 232.89,234.27 C232.04,238.84 231.32,258.54 230.19,265.11 C229.06,271.69 227.23,272.01 226.09,273.72 C224.96,275.42 224.07,274.78 223.39,275.35 C222.71,275.93 222.47,276.94 222.00,277.18 C221.53,277.41 221.27,276.25 220.55,276.77 C219.84,277.30 218.66,279.73 217.72,280.32 C216.77,280.91 215.83,280.44 214.88,280.32 C213.93,280.20 212.99,279.49 212.04,279.61 C211.10,279.73 210.39,280.56 209.21,281.03 C208.02,281.50 206.37,282.09 204.95,282.45 C203.53,282.80 202.11,283.09 200.70,283.16 C199.28,283.23 197.86,282.52 196.44,282.87 C195.02,283.23 193.37,284.88 192.18,285.28 C191.00,285.69 190.29,284.93 189.35,285.28 C188.40,285.64 187.46,286.35 186.51,287.41 C185.57,288.48 184.62,290.72 183.67,291.67 C182.73,292.61 181.45,292.49 180.84,293.09 C180.22,293.68 180.48,295.19 180.00,295.25 C179.53,295.31 178.57,293.85 178.00,293.43 C177.43,293.01 177.41,293.02 176.56,292.71 C175.70,292.40 174.10,291.55 172.87,291.56 C171.64,291.57 170.41,292.38 169.18,292.79 C167.95,293.20 166.72,293.34 165.49,294.02 C164.26,294.70 163.03,296.85 161.80,296.85 C160.58,296.85 159.35,294.49 158.12,294.02 C156.89,293.55 155.66,293.79 154.43,294.02 C153.20,294.24 151.87,295.82 150.74,295.37 C149.61,294.93 148.48,292.95 147.67,291.35 C146.85,289.76 146.44,287.36 145.82,285.82 C145.21,284.28 144.49,283.02 143.98,282.13 C143.46,281.25 143.26,281.07 142.75,280.49 C142.23,279.91 141.62,278.73 140.90,278.65 C140.19,278.57 139.26,279.08 138.44,280.00 C137.62,280.92 136.80,283.08 135.98,284.18 C135.16,285.29 134.34,286.23 133.53,286.64 C132.71,287.05 131.89,286.93 131.07,286.64 C130.25,286.35 129.48,286.15 128.61,284.89 C127.73,283.63 126.75,280.81 125.83,279.07 C124.91,277.33 124.07,274.47 123.09,274.46 C122.11,274.46 121.02,277.94 119.95,279.05 C118.88,280.16 117.76,280.83 116.68,281.13 C115.60,281.43 114.41,281.18 113.47,280.86 C112.53,280.55 111.86,279.39 111.06,279.26 C110.26,279.12 109.45,280.19 108.65,280.06 C107.85,279.93 107.04,279.79 106.24,278.45 C105.44,277.12 104.63,274.44 103.83,272.03 C103.03,269.62 102.22,267.07 101.42,264.00 C100.62,260.92 99.82,255.56 99.01,253.55 C98.21,251.55 97.41,250.88 96.60,251.95 C95.80,253.02 95.00,255.96 94.19,259.98 C93.39,264.00 92.59,272.70 91.78,276.04 C90.98,279.39 90.18,280.46 89.37,280.06 C88.57,279.66 87.77,276.31 86.96,273.63 C86.16,270.96 85.49,268.41 84.55,264.00 C83.62,259.58 82.28,251.81 81.34,247.13 C80.40,242.44 79.73,237.76 78.93,235.88 C78.13,234.01 77.33,234.92 76.52,235.88 C75.72,236.85 75.18,238.10 74.11,241.67 C73.04,245.24 71.17,252.91 70.10,257.30 C69.03,261.69 68.49,265.11 67.69,268.01 C66.88,270.91 66.08,273.14 65.28,274.71 C64.47,276.27 63.67,276.78 62.87,277.38 C62.06,277.98 61.26,278.33 60.46,278.29 C59.65,278.26 58.85,277.59 58.05,277.17 C57.24,276.75 56.44,276.28 55.64,275.78 C54.84,275.28 54.03,273.95 53.23,274.17 C52.43,274.39 51.62,274.39 50.82,277.12 C50.02,279.84 48.81,288.27 48.41,290.50 Z" fill="#ff5c9e" fill-opacity="0.43" stroke="none" clip-path="url(#cA)"/>
<path d="M48.41,278.53 C48.81,277.17 50.02,272.57 50.82,270.40 C51.62,268.22 52.43,266.80 53.23,265.48 C54.03,264.16 54.84,262.83 55.64,262.48 C56.44,262.14 57.24,262.57 58.05,263.38 C58.85,264.19 59.65,266.10 60.46,267.34 C61.26,268.58 62.06,270.16 62.87,270.82 C63.67,271.49 64.47,272.43 65.28,271.35 C66.08,270.27 66.88,267.55 67.69,264.36 C68.49,261.17 69.29,255.87 70.10,252.23 C70.90,248.59 71.70,244.95 72.51,242.51 C73.31,240.08 74.11,237.81 74.92,237.61 C75.72,237.42 76.52,239.02 77.33,241.36 C78.13,243.70 78.93,248.21 79.73,251.64 C80.54,255.07 81.34,259.43 82.14,261.92 C82.95,264.41 83.75,266.08 84.55,266.58 C85.36,267.08 86.16,266.10 86.96,264.90 C87.77,263.71 88.57,261.56 89.37,259.40 C90.18,257.25 90.98,254.18 91.78,251.97 C92.59,249.76 93.39,247.69 94.19,246.15 C95.00,244.61 95.80,242.85 96.60,242.74 C97.41,242.62 98.21,243.85 99.01,245.48 C99.82,247.11 100.62,250.17 101.42,252.51 C102.22,254.85 103.03,257.63 103.83,259.54 C104.63,261.45 105.44,262.66 106.24,263.99 C107.04,265.31 107.85,266.71 108.65,267.47 C109.45,268.22 110.26,268.72 111.06,268.54 C111.86,268.36 112.67,266.71 113.47,266.39 C114.27,266.08 115.08,266.28 115.88,266.62 C116.68,266.97 117.54,268.30 118.29,268.45 C119.03,268.60 119.60,267.71 120.35,267.53 C121.10,267.35 121.92,267.03 122.78,267.35 C123.65,267.67 124.56,268.46 125.53,269.45 C126.50,270.44 127.58,272.24 128.61,273.29 C129.63,274.34 130.76,274.95 131.68,275.75 C132.60,276.55 133.32,277.82 134.14,278.08 C134.96,278.35 135.68,277.67 136.60,277.35 C137.52,277.02 138.75,276.27 139.67,276.12 C140.60,275.96 141.41,275.73 142.13,276.42 C142.85,277.11 143.36,278.57 143.98,280.23 C144.59,281.89 145.10,284.37 145.82,286.38 C146.54,288.39 147.46,291.04 148.28,292.29 C149.10,293.54 149.92,293.44 150.74,293.87 C151.56,294.29 152.38,294.84 153.20,294.84 C154.02,294.83 154.84,294.12 155.66,293.84 C156.48,293.55 157.30,293.16 158.12,293.12 C158.94,293.09 159.76,293.67 160.58,293.64 C161.40,293.61 162.21,293.27 163.03,292.93 C163.85,292.59 164.67,292.04 165.49,291.60 C166.31,291.16 167.13,290.55 167.95,290.27 C168.77,289.99 169.59,289.80 170.41,289.93 C171.23,290.06 172.05,291.05 172.87,291.06 C173.69,291.07 174.49,290.50 175.33,289.98 C176.17,289.46 177.12,288.01 177.89,287.94 C178.67,287.87 179.51,290.17 180.00,289.54 C180.49,288.91 180.22,286.14 180.84,284.16 C181.45,282.18 182.73,279.57 183.67,277.64 C184.62,275.70 185.57,274.04 186.51,272.53 C187.46,271.02 188.40,269.49 189.35,268.56 C190.29,267.63 191.24,267.16 192.18,266.95 C193.13,266.75 194.08,267.19 195.02,267.31 C195.97,267.43 196.91,267.71 197.86,267.66 C198.80,267.62 199.75,267.50 200.70,267.02 C201.64,266.55 202.59,265.55 203.53,264.83 C204.48,264.10 205.42,263.32 206.37,262.67 C207.31,262.03 208.26,261.49 209.21,260.97 C210.15,260.45 211.10,259.91 212.04,259.55 C212.99,259.20 213.93,259.08 214.88,258.84 C215.83,258.61 216.77,258.49 217.72,258.13 C218.66,257.78 219.84,257.19 220.55,256.72 C221.27,256.25 221.53,255.90 222.00,255.32 C222.47,254.74 222.73,254.01 223.39,253.24 C224.05,252.47 225.04,252.99 225.96,250.70 C226.88,248.41 227.94,244.83 228.93,239.50 C229.92,234.16 231.01,223.72 231.90,218.70 C232.79,213.69 233.55,210.77 234.28,209.40 C235.00,208.02 235.60,208.66 236.26,210.47 C236.92,212.28 237.58,216.15 238.24,220.23 C238.90,224.31 239.46,230.07 240.22,234.94 C240.98,239.81 241.87,246.32 242.79,249.47 C243.72,252.61 244.77,253.74 245.76,253.80 C246.75,253.85 247.74,251.29 248.73,249.78 C249.72,248.27 250.71,246.42 251.70,244.74 C252.69,243.06 253.65,241.20 254.67,239.69 C255.69,238.19 256.76,236.91 257.82,235.70 C258.88,234.48 260.33,232.76 261.02,232.40 C261.72,232.04 261.50,233.86 262.00,233.52 C262.50,233.19 263.20,231.20 264.05,230.37 C264.89,229.53 266.07,229.18 267.07,228.52 C268.08,227.85 269.09,227.16 270.10,226.36 C271.11,225.57 272.24,224.46 273.12,223.76 C274.01,223.05 274.76,222.25 275.39,222.14 C276.02,222.02 276.15,223.56 276.90,223.07 C277.66,222.58 279.05,220.73 279.93,219.18 C280.81,217.63 281.31,215.88 282.20,213.77 C283.08,211.67 284.21,207.80 285.22,206.56 C286.23,205.32 287.24,206.22 288.25,206.31 C289.25,206.39 290.26,206.44 291.27,207.07 C292.28,207.70 293.29,208.70 294.29,210.09 C295.30,211.48 296.31,213.39 297.32,215.38 C298.33,217.38 299.34,220.51 300.34,222.04 C301.35,223.58 302.36,224.48 303.37,224.57 C304.38,224.65 305.39,223.73 306.39,222.55 C307.40,221.37 308.54,218.79 309.42,217.51 C310.30,216.23 311.10,215.10 311.69,214.86 C312.27,214.62 312.49,215.14 312.91,216.06 C313.33,216.99 313.78,219.09 314.22,220.44 C314.67,221.78 315.05,221.67 315.60,224.15 C316.15,226.63 316.95,231.68 317.50,235.31 C318.05,238.94 318.43,242.39 318.90,245.94 C319.37,249.48 319.83,253.10 320.30,256.58 C320.77,260.06 321.23,263.87 321.70,266.82 C322.17,269.77 322.55,272.56 323.10,274.26 C323.65,275.96 324.37,276.30 325.00,277.00 C325.63,277.70 326.29,278.12 326.90,278.44 C327.51,278.76 327.85,278.97 328.68,278.89 C329.52,278.82 331.20,278.29 331.90,277.99 C332.59,277.69 332.25,277.04 332.84,277.09 C333.42,277.13 334.49,278.11 335.39,278.28 C336.29,278.44 337.26,278.17 338.26,278.07 C339.25,277.98 340.36,276.91 341.35,277.72 C342.34,278.53 343.24,281.19 344.18,282.92 C345.13,284.65 346.08,286.70 347.02,288.12 C347.97,289.54 348.91,290.38 349.86,291.43 C350.80,292.48 351.75,293.99 352.70,294.42 C353.64,294.86 354.59,295.53 355.53,294.03 C356.48,292.53 357.42,288.13 358.37,285.42 C359.31,282.71 360.26,279.69 361.21,277.76 C362.15,275.84 363.10,275.11 364.04,273.89 C364.99,272.66 365.93,271.86 366.88,270.43 C367.83,269.00 368.77,267.65 369.72,265.31 C370.66,262.97 371.61,259.68 372.55,256.40 C373.50,253.11 374.44,249.20 375.39,245.60 C376.34,242.00 377.28,237.45 378.23,234.80 C379.17,232.14 380.12,230.91 381.06,229.67 C382.01,228.44 382.96,227.53 383.90,227.38 C384.85,227.24 385.79,228.47 386.74,228.79 C387.68,229.12 388.63,228.83 389.57,229.33 C390.52,229.82 391.49,230.91 392.41,231.75 C393.34,232.59 394.20,233.35 395.12,234.34 C396.05,235.34 397.01,236.56 397.96,237.71 C398.90,238.86 399.85,240.10 400.80,241.25 C401.74,242.41 402.69,243.33 403.63,244.64 C404.58,245.95 405.54,247.91 406.47,249.09 C407.39,250.27 408.58,251.45 409.17,251.73 C409.76,252.00 409.53,251.07 410.00,250.74 C410.47,250.41 411.20,250.58 412.00,249.73 C412.81,248.87 413.89,247.69 414.84,245.61 C415.78,243.52 416.73,240.48 417.67,237.23 C418.62,233.98 419.67,229.77 420.51,226.10 C421.34,222.44 421.81,217.97 422.68,215.26 C423.55,212.54 424.82,211.21 425.70,209.81 C426.59,208.42 427.21,207.62 427.97,206.87 C428.73,206.12 429.48,204.83 430.24,205.32 C430.99,205.80 431.75,207.96 432.51,209.78 C433.26,211.59 433.89,214.25 434.77,216.20 C435.66,218.16 436.92,220.94 437.80,221.50 C438.68,222.06 439.18,220.64 440.07,219.56 C440.95,218.48 442.21,216.25 443.09,215.02 C443.97,213.79 444.60,212.37 445.36,212.19 C446.11,212.00 446.90,212.32 447.63,213.89 C448.35,215.46 449.05,218.23 449.72,221.61 C450.40,224.99 450.88,229.49 451.68,234.19 C452.48,238.88 453.57,244.82 454.52,249.78 C455.46,254.73 456.40,259.93 457.35,263.95 C458.29,267.96 459.25,271.28 460.18,273.86 C461.11,276.45 462.07,277.70 462.93,279.44 C463.78,281.18 464.41,283.11 465.33,284.28 C466.26,285.46 467.50,285.74 468.50,286.48 C469.50,287.23 470.39,288.28 471.34,288.75 C472.28,289.22 473.34,289.52 474.17,289.32 C475.00,289.11 475.59,288.90 476.30,287.52 C477.00,286.14 477.71,283.90 478.42,281.03 C479.13,278.16 479.84,273.64 480.55,270.30 C481.26,266.95 481.96,263.26 482.67,260.98 C483.38,258.70 484.09,257.83 484.80,256.62 C485.51,255.40 486.22,254.24 486.92,253.67 C487.63,253.10 488.34,253.44 489.05,253.19 C489.76,252.95 490.47,253.08 491.17,252.20 C491.88,251.33 492.59,249.60 493.30,247.95 C494.01,246.30 494.72,243.58 495.43,242.28 C496.13,240.98 496.84,241.10 497.55,240.16 C498.26,239.21 498.97,238.23 499.68,236.61 C500.39,235.00 501.21,232.42 501.80,230.45 C502.39,228.48 502.75,226.91 503.22,224.78 C503.69,222.66 504.16,220.69 504.64,217.70 C505.11,214.71 505.43,212.63 506.08,206.85 C506.72,201.07 507.61,190.80 508.50,183.01 C509.39,175.23 510.53,166.60 511.40,160.13 C512.27,153.65 512.92,148.36 513.70,144.16 C514.48,139.96 515.27,135.01 516.10,134.94 C516.93,134.86 517.75,139.24 518.70,143.71 C519.65,148.19 520.75,154.90 521.80,161.77 C522.85,168.65 524.00,177.35 525.00,184.95 C526.00,192.55 527.13,202.82 527.80,207.35 C528.47,211.88 528.41,208.67 529.01,212.11 C529.62,215.55 530.62,223.16 531.42,227.96 C532.22,232.76 533.03,237.20 533.83,240.91 C534.63,244.62 535.44,247.39 536.24,250.23 C537.04,253.07 537.84,254.84 538.65,257.95 C539.45,261.06 540.25,265.50 541.05,268.88 C541.86,272.26 542.66,275.37 543.46,278.20 C544.26,281.04 545.07,283.87 545.87,285.89 C546.67,287.91 547.48,289.10 548.28,290.30 C549.08,291.51 549.75,292.97 550.69,293.11 C551.62,293.26 552.83,291.87 553.90,291.18 C554.97,290.49 556.04,289.57 557.11,288.95 C558.18,288.33 559.25,288.58 560.32,287.47 C561.39,286.37 562.59,284.10 563.53,282.34 C564.47,280.57 565.13,278.43 565.94,276.88 C566.74,275.33 567.54,274.44 568.35,273.02 C569.15,271.61 569.61,270.42 570.75,268.37 C571.90,266.32 573.84,263.48 575.20,260.73 C576.56,257.99 577.65,254.85 578.90,251.90 C580.15,248.95 581.55,245.95 582.70,243.03 C583.85,240.12 584.78,237.26 585.80,234.40 C586.82,231.54 587.92,228.71 588.80,225.90 C589.68,223.09 590.40,220.32 591.10,217.57 C591.80,214.82 592.25,212.16 593.00,209.40 C593.75,206.64 594.67,203.82 595.60,201.02 C596.53,198.22 597.85,194.17 598.60,192.62 C599.35,191.07 599.48,190.99 600.11,191.75 C600.74,192.51 601.62,195.17 602.38,197.19 C603.14,199.20 603.89,202.00 604.65,203.84 C605.40,205.68 606.16,207.21 606.91,208.22 C607.67,209.23 608.42,210.03 609.18,209.88 C609.94,209.74 610.69,208.91 611.45,207.37 C612.20,205.83 612.96,202.26 613.71,200.65 C614.47,199.04 615.23,198.31 615.98,197.70 C616.74,197.10 617.49,197.94 618.25,197.02 C619.00,196.10 619.76,193.76 620.51,192.20 C621.27,190.64 622.03,188.80 622.78,187.67 C623.54,186.54 624.29,186.79 625.05,185.40 C625.80,184.02 626.56,181.37 627.32,179.36 C628.07,177.34 629.07,175.14 629.58,173.31 C630.10,171.49 630.02,170.04 630.40,168.40 C630.78,166.76 631.22,167.14 631.85,163.49 C632.48,159.83 633.40,151.76 634.16,146.47 C634.91,141.18 635.70,136.56 636.38,131.75 C637.07,126.95 637.62,122.06 638.27,117.64 C638.93,113.23 639.46,110.25 640.30,105.26 C641.14,100.27 642.33,93.51 643.30,87.69 C644.27,81.88 645.38,74.48 646.10,70.38 C646.82,66.29 647.05,62.97 647.60,63.10 C648.15,63.23 648.70,66.86 649.40,71.15 C650.10,75.44 650.97,82.89 651.80,88.84 C652.63,94.79 653.58,100.71 654.40,106.85 C655.22,112.99 656.02,119.59 656.70,125.66 C657.38,131.73 657.75,137.02 658.50,143.30 C659.25,149.58 660.30,156.69 661.20,163.36 C662.10,170.03 663.08,176.91 663.90,183.32 C664.72,189.73 665.43,195.86 666.10,201.82 C666.77,207.78 667.25,213.15 667.90,219.08 C668.55,225.01 669.27,232.00 670.00,237.40 C670.73,242.80 671.58,246.83 672.30,251.46 C673.02,256.09 673.68,261.20 674.30,265.16 C674.92,269.12 675.72,273.53 676.00,275.20 L676.00,291.20 C675.72,289.81 674.92,285.72 674.30,282.84 C673.68,279.96 673.02,276.85 672.30,273.94 C671.58,271.03 670.73,269.04 670.00,265.40 C669.27,261.76 668.55,256.49 667.90,252.12 C667.25,247.75 666.77,243.32 666.10,239.18 C665.43,235.04 664.72,230.97 663.90,227.28 C663.08,223.59 662.10,220.47 661.20,217.04 C660.30,213.61 659.25,210.28 658.50,206.70 C657.75,203.12 657.38,199.30 656.70,195.54 C656.02,191.78 655.22,188.11 654.40,184.15 C653.58,180.19 652.63,175.91 651.80,171.76 C650.97,167.61 650.10,162.03 649.40,159.25 C648.70,156.48 648.15,154.97 647.60,155.10 C647.05,155.23 646.82,157.05 646.10,160.02 C645.38,162.98 644.27,168.62 643.30,172.91 C642.33,177.19 641.14,182.19 640.30,185.74 C639.46,189.28 638.93,191.06 638.27,194.19 C637.62,197.32 637.07,201.09 636.38,204.52 C635.70,207.95 634.91,211.00 634.16,214.78 C633.40,218.56 632.48,224.78 631.85,227.19 C631.22,229.59 630.78,228.32 630.40,229.20 C630.02,230.08 630.10,231.68 629.58,232.48 C629.07,233.27 628.07,233.48 627.32,233.99 C626.56,234.49 625.80,235.62 625.05,235.50 C624.29,235.37 623.54,233.61 622.78,233.23 C622.03,232.85 621.27,232.78 620.51,233.23 C619.76,233.69 619.00,235.63 618.25,235.97 C617.49,236.31 616.74,235.14 615.98,235.29 C615.23,235.44 614.47,235.72 613.71,236.88 C612.96,238.04 612.20,240.91 611.45,242.24 C610.69,243.57 609.94,244.25 609.18,244.87 C608.42,245.48 607.67,246.03 606.91,245.93 C606.16,245.83 605.40,245.20 604.65,244.26 C603.89,243.33 603.14,241.44 602.38,240.33 C601.62,239.23 600.74,238.04 600.11,237.61 C599.48,237.19 599.35,236.65 598.60,237.78 C597.85,238.91 596.53,242.14 595.60,244.38 C594.67,246.62 593.75,248.89 593.00,251.20 C592.25,253.51 591.80,255.91 591.10,258.23 C590.40,260.55 589.68,262.87 588.80,265.10 C587.92,267.33 586.82,269.42 585.80,271.60 C584.78,273.78 583.85,276.02 582.70,278.17 C581.55,280.32 580.15,282.38 578.90,284.50 C577.65,286.62 576.56,289.40 575.20,290.87 C573.84,292.33 571.90,292.58 570.75,293.27 C569.61,293.97 569.15,294.58 568.35,295.04 C567.54,295.49 566.74,295.41 565.94,296.00 C565.13,296.59 564.47,297.93 563.53,298.57 C562.59,299.21 561.39,299.89 560.32,299.86 C559.25,299.82 558.18,298.73 557.11,298.38 C556.04,298.03 554.97,297.91 553.90,297.75 C552.83,297.60 551.62,297.55 550.69,297.43 C549.75,297.30 549.08,297.43 548.28,297.03 C547.48,296.62 546.67,296.21 545.87,295.02 C545.07,293.82 544.26,291.84 543.46,289.86 C542.66,287.88 541.86,285.64 541.05,283.13 C540.25,280.62 539.45,277.04 538.65,274.79 C537.84,272.55 537.04,271.65 536.24,269.67 C535.44,267.69 534.63,265.65 533.83,262.94 C533.03,260.23 532.22,256.64 531.42,253.41 C530.62,250.18 529.62,245.50 529.01,243.58 C528.41,241.65 528.47,244.70 527.80,241.85 C527.13,239.00 526.00,231.45 525.00,226.45 C524.00,221.45 522.85,215.85 521.80,211.83 C520.75,207.80 519.65,204.15 518.70,202.29 C517.75,200.43 516.93,200.40 516.10,200.66 C515.27,200.92 514.48,201.70 513.70,203.84 C512.92,205.97 512.27,209.38 511.40,213.47 C510.53,217.57 509.39,222.80 508.50,228.39 C507.61,233.98 506.72,242.57 506.08,247.00 C505.43,251.43 505.11,252.94 504.64,254.97 C504.16,257.01 503.69,258.04 503.22,259.22 C502.75,260.40 502.39,261.20 501.80,262.06 C501.21,262.92 500.39,263.65 499.68,264.40 C498.97,265.14 498.26,266.05 497.55,266.52 C496.84,267.00 496.13,266.41 495.43,267.23 C494.72,268.06 494.01,270.30 493.30,271.48 C492.59,272.66 491.88,273.92 491.17,274.32 C490.47,274.72 489.76,274.14 489.05,273.89 C488.34,273.65 487.63,272.80 486.92,272.85 C486.22,272.89 485.51,273.48 484.80,274.15 C484.09,274.83 483.38,275.14 482.67,276.88 C481.96,278.61 481.26,281.77 480.55,284.56 C479.84,287.36 479.13,291.34 478.42,293.67 C477.71,295.99 477.00,297.63 476.30,298.52 C475.59,299.40 475.00,299.19 474.17,298.99 C473.34,298.78 472.28,298.14 471.34,297.28 C470.39,296.43 469.50,295.03 468.50,293.88 C467.50,292.74 466.26,291.13 465.33,290.42 C464.41,289.70 463.78,289.74 462.93,289.59 C462.07,289.44 461.11,290.22 460.18,289.50 C459.25,288.77 458.29,287.37 457.35,285.25 C456.40,283.12 455.46,279.81 454.52,276.74 C453.57,273.67 452.48,269.92 451.68,266.83 C450.88,263.73 450.40,260.35 449.72,258.16 C449.05,255.97 448.35,254.92 447.63,253.70 C446.90,252.48 446.11,251.05 445.36,250.87 C444.60,250.68 443.97,251.78 443.09,252.57 C442.21,253.35 440.95,254.40 440.07,255.59 C439.18,256.78 438.68,259.39 437.80,259.70 C436.92,260.00 435.66,258.50 434.77,257.43 C433.89,256.36 433.26,254.33 432.51,253.27 C431.75,252.21 430.99,251.35 430.24,251.08 C429.48,250.81 428.73,251.29 427.97,251.65 C427.21,252.01 426.59,252.37 425.70,253.24 C424.82,254.11 423.55,254.67 422.68,256.87 C421.81,259.06 421.34,263.37 420.51,266.41 C419.67,269.45 418.62,272.70 417.67,275.12 C416.73,277.53 415.78,279.69 414.84,280.91 C413.89,282.14 412.81,282.34 412.00,282.46 C411.20,282.58 410.47,281.75 410.00,281.65 C409.53,281.55 409.76,282.21 409.17,281.88 C408.58,281.55 407.39,280.66 406.47,279.65 C405.54,278.64 404.58,276.93 403.63,275.83 C402.69,274.74 401.74,273.97 400.80,273.08 C399.85,272.18 398.90,271.29 397.96,270.48 C397.01,269.66 396.05,268.82 395.12,268.17 C394.20,267.53 393.34,267.08 392.41,266.60 C391.49,266.11 390.52,265.37 389.57,265.24 C388.63,265.10 387.68,265.76 386.74,265.77 C385.79,265.78 384.85,265.43 383.90,265.29 C382.96,265.14 382.01,264.55 381.06,264.89 C380.12,265.23 379.17,265.57 378.23,267.33 C377.28,269.09 376.34,272.74 375.39,275.44 C374.44,278.15 373.50,281.17 372.55,283.55 C371.61,285.94 370.66,288.33 369.72,289.78 C368.77,291.22 367.83,291.75 366.88,292.21 C365.93,292.68 364.99,292.51 364.04,292.54 C363.10,292.58 362.15,291.85 361.21,292.45 C360.26,293.05 359.31,294.75 358.37,296.14 C357.42,297.53 356.48,299.75 355.53,300.77 C354.59,301.79 353.64,302.15 352.70,302.27 C351.75,302.38 350.80,302.00 349.86,301.48 C348.91,300.95 347.97,300.22 347.02,299.11 C346.08,298.01 345.13,296.28 344.18,294.86 C343.24,293.44 342.34,291.28 341.35,290.60 C340.36,289.93 339.25,290.80 338.26,290.82 C337.26,290.85 336.29,291.01 335.39,290.77 C334.49,290.52 333.42,289.44 332.84,289.34 C332.25,289.24 332.59,289.64 331.90,290.16 C331.20,290.68 329.52,291.81 328.68,292.47 C327.85,293.14 327.51,293.74 326.90,294.16 C326.29,294.58 325.63,294.94 325.00,295.00 C324.37,295.06 323.65,295.58 323.10,294.54 C322.55,293.50 322.17,291.17 321.70,288.78 C321.23,286.39 320.77,283.04 320.30,280.22 C319.83,277.40 319.37,274.62 318.90,271.86 C318.43,269.11 318.05,266.36 317.50,263.69 C316.95,261.02 316.15,257.37 315.60,255.85 C315.05,254.33 314.67,255.11 314.22,254.54 C313.78,253.98 313.33,252.77 312.91,252.48 C312.49,252.18 312.27,252.39 311.69,252.76 C311.10,253.12 310.30,253.66 309.42,254.65 C308.54,255.63 307.40,257.84 306.39,258.68 C305.39,259.52 304.38,260.11 303.37,259.69 C302.36,259.27 301.35,257.65 300.34,256.16 C299.34,254.67 298.33,252.26 297.32,250.72 C296.31,249.19 295.30,247.82 294.29,246.94 C293.29,246.06 292.28,245.56 291.27,245.43 C290.26,245.30 289.25,246.35 288.25,246.19 C287.24,246.02 286.23,243.90 285.22,244.42 C284.21,244.94 283.08,247.88 282.20,249.31 C281.31,250.73 280.81,252.10 279.93,252.97 C279.05,253.84 277.66,254.62 276.90,254.53 C276.15,254.44 276.02,252.86 275.39,252.44 C274.76,252.02 274.01,252.13 273.12,252.03 C272.24,251.93 271.11,251.98 270.10,251.84 C269.09,251.70 268.08,251.46 267.07,251.20 C266.07,250.94 264.89,250.20 264.05,250.26 C263.20,250.31 262.50,251.51 262.00,251.52 C261.50,251.54 261.72,250.02 261.02,250.34 C260.33,250.66 258.88,252.29 257.82,253.44 C256.76,254.59 255.69,255.79 254.67,257.24 C253.65,258.68 252.69,260.47 251.70,262.09 C250.71,263.71 249.72,265.49 248.73,266.95 C247.74,268.41 246.75,270.80 245.76,270.86 C244.77,270.91 243.72,269.40 242.79,267.27 C241.87,265.13 240.98,261.08 240.22,258.03 C239.46,254.98 238.90,251.17 238.24,248.98 C237.58,246.79 236.92,245.38 236.26,244.88 C235.60,244.37 235.00,245.01 234.28,245.95 C233.55,246.89 232.79,247.27 231.90,250.50 C231.01,253.74 229.92,261.78 228.93,265.36 C227.94,268.94 226.88,271.02 225.96,271.98 C225.04,272.93 224.05,271.20 223.39,271.09 C222.73,270.98 222.47,271.05 222.00,271.32 C221.53,271.59 221.27,272.25 220.55,272.72 C219.84,273.19 218.66,273.78 217.72,274.13 C216.77,274.49 215.83,274.61 214.88,274.84 C213.93,275.08 212.99,275.20 212.04,275.55 C211.10,275.91 210.15,276.45 209.21,276.97 C208.26,277.49 207.31,278.13 206.37,278.67 C205.42,279.21 204.48,279.71 203.53,280.21 C202.59,280.71 201.64,281.46 200.70,281.70 C199.75,281.93 198.80,281.82 197.86,281.63 C196.91,281.44 195.97,280.92 195.02,280.56 C194.08,280.21 193.13,279.57 192.18,279.50 C191.24,279.43 190.29,279.68 189.35,280.17 C188.40,280.66 187.46,281.49 186.51,282.44 C185.57,283.38 184.62,284.47 183.67,285.84 C182.73,287.21 181.45,289.05 180.84,290.66 C180.22,292.28 180.49,295.03 180.00,295.54 C179.51,296.06 178.67,293.76 177.89,293.77 C177.12,293.78 176.17,295.15 175.33,295.60 C174.49,296.05 173.69,296.56 172.87,296.49 C172.05,296.41 171.23,295.36 170.41,295.16 C169.59,294.96 168.77,295.09 167.95,295.31 C167.13,295.52 166.31,296.06 165.49,296.44 C164.67,296.82 163.85,297.30 163.03,297.57 C162.21,297.84 161.40,298.12 160.58,298.09 C159.76,298.05 158.94,297.41 158.12,297.37 C157.30,297.34 156.48,297.56 155.66,297.89 C154.84,298.22 154.02,299.15 153.20,299.35 C152.38,299.55 151.56,299.28 150.74,299.09 C149.92,298.90 149.10,298.60 148.28,298.21 C147.46,297.82 146.54,297.60 145.82,296.74 C145.10,295.88 144.59,294.05 143.98,293.05 C143.36,292.05 142.85,290.85 142.13,290.71 C141.41,290.58 140.60,291.58 139.67,292.25 C138.75,292.91 137.52,294.01 136.60,294.71 C135.68,295.40 134.96,296.37 134.14,296.43 C133.32,296.49 132.60,295.51 131.68,295.08 C130.76,294.65 129.63,294.49 128.61,293.85 C127.58,293.21 126.50,291.92 125.53,291.24 C124.56,290.56 123.65,289.90 122.78,289.75 C121.92,289.61 121.10,290.06 120.35,290.38 C119.60,290.70 119.03,291.69 118.29,291.67 C117.54,291.65 116.68,290.48 115.88,290.28 C115.08,290.09 114.27,290.03 113.47,290.51 C112.67,291.00 111.86,292.83 111.06,293.19 C110.26,293.55 109.45,293.23 108.65,292.65 C107.85,292.07 107.04,290.80 106.24,289.71 C105.44,288.62 104.63,287.69 103.83,286.12 C103.03,284.56 102.22,282.24 101.42,280.30 C100.62,278.36 99.82,275.79 99.01,274.48 C98.21,273.16 97.41,272.52 96.60,272.40 C95.80,272.29 95.00,272.94 94.19,273.81 C93.39,274.68 92.59,276.09 91.78,277.63 C90.98,279.16 90.18,281.56 89.37,283.05 C88.57,284.53 87.77,285.86 86.96,286.54 C86.16,287.22 85.36,287.31 84.55,287.11 C83.75,286.92 82.95,286.87 82.14,285.35 C81.34,283.82 80.54,280.42 79.73,277.96 C78.93,275.50 78.13,271.98 77.33,270.57 C76.52,269.16 75.72,269.42 74.92,269.50 C74.11,269.57 73.31,269.71 72.51,271.02 C71.70,272.33 70.90,274.85 70.10,277.37 C69.29,279.88 68.49,284.06 67.69,286.12 C66.88,288.18 66.08,289.21 65.28,289.74 C64.47,290.27 63.67,289.86 62.87,289.30 C62.06,288.73 61.26,287.41 60.46,286.35 C59.65,285.29 58.85,283.61 58.05,282.93 C57.24,282.24 56.44,282.13 55.64,282.21 C54.84,282.29 54.03,282.68 53.23,283.40 C52.43,284.11 51.62,284.94 50.82,286.51 C50.02,288.08 48.81,291.78 48.41,292.84 Z" fill="#6464e6" fill-opacity="0.37" stroke="none" clip-path="url(#cA)"/>
<path d="M48.41,293.71 C48.81,293.80 50.02,294.14 50.82,294.20 C51.62,294.25 52.43,294.17 53.23,294.04 C54.03,293.90 54.84,293.71 55.64,293.39 C56.44,293.07 57.24,292.59 58.05,292.11 C58.85,291.63 59.65,290.98 60.46,290.50 C61.26,290.02 62.06,289.75 62.87,289.22 C63.67,288.68 64.47,287.80 65.28,287.29 C66.08,286.78 66.88,286.30 67.69,286.16 C68.49,286.03 69.29,286.38 70.10,286.49 C70.90,286.59 71.70,286.73 72.51,286.81 C73.31,286.89 73.98,286.94 74.92,286.97 C75.85,286.99 77.06,286.91 78.13,286.97 C79.20,287.02 80.27,287.18 81.34,287.29 C82.41,287.40 83.48,287.56 84.55,287.61 C85.63,287.66 86.70,287.53 87.77,287.61 C88.84,287.69 89.91,287.96 90.98,288.09 C92.05,288.23 93.12,288.36 94.19,288.41 C95.26,288.47 96.33,288.33 97.41,288.41 C98.48,288.49 99.55,288.76 100.62,288.90 C101.69,289.03 102.76,289.08 103.83,289.22 C104.90,289.35 105.97,289.62 107.04,289.70 C108.12,289.78 109.19,289.62 110.26,289.70 C111.33,289.78 112.40,290.10 113.47,290.18 C114.54,290.26 115.60,290.02 116.68,290.18 C117.76,290.34 119.00,290.68 119.95,291.13 C120.90,291.57 121.57,292.22 122.38,292.85 C123.19,293.48 123.98,294.28 124.82,294.88 C125.65,295.49 126.54,296.52 127.38,296.48 C128.21,296.44 129.02,295.15 129.84,294.63 C130.66,294.12 131.48,293.75 132.30,293.40 C133.12,293.06 133.93,292.81 134.75,292.54 C135.57,292.28 136.39,291.81 137.21,291.81 C138.03,291.81 138.85,292.38 139.67,292.54 C140.49,292.71 141.31,292.75 142.13,292.79 C142.95,292.83 143.77,292.75 144.59,292.79 C145.41,292.83 146.23,292.87 147.05,293.04 C147.87,293.20 148.69,293.45 149.51,293.77 C150.33,294.10 151.15,294.65 151.97,295.00 C152.79,295.35 153.61,295.82 154.43,295.86 C155.25,295.90 156.07,295.60 156.89,295.25 C157.71,294.90 158.53,294.18 159.35,293.77 C160.17,293.36 160.99,293.06 161.80,292.79 C162.62,292.52 163.44,292.34 164.26,292.17 C165.08,292.01 165.90,291.87 166.72,291.81 C167.54,291.74 168.36,291.74 169.18,291.81 C170.00,291.87 170.82,292.05 171.64,292.17 C172.46,292.30 173.28,292.40 174.10,292.54 C174.92,292.69 175.91,292.83 176.56,293.04 C177.21,293.24 177.43,293.73 178.00,293.79 C178.57,293.86 179.53,293.33 180.00,293.40 C180.48,293.47 180.22,294.04 180.84,294.22 C181.45,294.40 182.73,294.46 183.67,294.50 C184.62,294.55 185.57,294.46 186.51,294.50 C187.46,294.55 188.40,294.67 189.35,294.79 C190.29,294.91 191.24,295.02 192.18,295.21 C193.13,295.40 194.08,295.76 195.02,295.92 C195.97,296.09 196.91,296.32 197.86,296.21 C198.80,296.09 199.75,295.50 200.70,295.21 C201.64,294.93 202.59,294.81 203.53,294.50 C204.48,294.20 205.42,293.79 206.37,293.37 C207.31,292.94 208.26,292.47 209.21,291.95 C210.15,291.43 211.10,290.77 212.04,290.25 C212.99,289.73 213.93,289.30 214.88,288.83 C215.83,288.36 216.77,287.77 217.72,287.41 C218.66,287.06 219.61,286.58 220.55,286.70 C221.50,286.82 222.44,287.53 223.39,288.12 C224.34,288.71 225.28,289.42 226.23,290.25 C227.17,291.08 228.12,292.33 229.06,293.09 C230.01,293.84 230.96,294.67 231.90,294.79 C232.85,294.91 233.72,294.13 234.74,293.79 C235.75,293.46 234.12,293.35 238.00,292.80 C241.88,292.25 254.13,291.02 258.00,290.50 C261.87,289.98 260.14,289.91 261.21,289.70 C262.28,289.48 263.35,289.22 264.43,289.22 C265.50,289.22 266.57,289.70 267.64,289.70 C268.71,289.70 269.78,289.40 270.85,289.22 C271.92,289.03 272.99,288.63 274.06,288.57 C275.14,288.52 276.21,288.79 277.28,288.90 C278.35,289.00 279.42,289.08 280.49,289.22 C281.56,289.35 282.63,289.70 283.70,289.70 C284.77,289.70 285.84,289.35 286.92,289.22 C287.99,289.08 289.06,289.00 290.13,288.90 C291.20,288.79 292.27,288.71 293.34,288.57 C294.41,288.44 295.48,288.31 296.55,288.09 C297.63,287.88 298.70,287.50 299.77,287.29 C300.84,287.07 301.91,286.75 302.98,286.81 C304.05,286.86 305.12,287.32 306.19,287.61 C307.26,287.90 308.33,288.31 309.41,288.57 C310.48,288.84 311.55,289.03 312.62,289.22 C313.69,289.40 314.76,289.62 315.83,289.70 C316.90,289.78 317.97,289.78 319.04,289.70 C320.12,289.62 321.19,289.22 322.26,289.22 C323.33,289.22 324.40,289.54 325.47,289.70 C326.54,289.86 327.61,290.05 328.68,290.18 C329.75,290.31 331.05,290.24 331.90,290.50 C332.75,290.76 333.25,291.78 333.78,291.73 C334.32,291.67 334.44,290.24 335.11,290.18 C335.78,290.13 336.74,290.98 337.78,291.40 C338.82,291.81 340.12,292.40 341.35,292.67 C342.57,292.95 343.87,292.89 345.13,293.05 C346.39,293.21 347.65,293.43 348.91,293.62 C350.17,293.81 351.43,294.03 352.70,294.18 C353.96,294.34 355.22,294.56 356.48,294.56 C357.74,294.56 359.00,294.34 360.26,294.18 C361.52,294.03 362.78,293.71 364.04,293.62 C365.30,293.52 366.56,293.46 367.83,293.62 C369.09,293.77 370.35,294.25 371.61,294.56 C372.87,294.88 374.13,295.26 375.39,295.51 C376.65,295.76 377.91,296.08 379.17,296.08 C380.43,296.08 381.69,295.76 382.96,295.51 C384.22,295.26 385.48,294.78 386.74,294.56 C388.00,294.34 389.20,294.59 390.52,294.18 C391.84,293.78 393.55,292.91 394.65,292.14 C395.75,291.36 396.31,290.68 397.13,289.54 C397.96,288.39 398.73,286.74 399.61,285.28 C400.50,283.83 401.50,282.19 402.45,280.79 C403.39,279.39 404.42,277.78 405.28,276.89 C406.15,276.01 406.88,275.65 407.65,275.50 C408.41,275.35 409.15,275.46 409.88,276.01 C410.61,276.57 411.18,277.43 412.00,278.85 C412.83,280.26 413.89,282.63 414.84,284.52 C415.78,286.40 416.73,288.65 417.67,290.18 C418.62,291.72 419.56,292.83 420.51,293.73 C421.45,294.62 422.40,295.17 423.34,295.57 C424.29,295.97 425.23,295.97 426.17,296.14 C427.12,296.30 428.06,296.42 429.01,296.56 C429.95,296.70 430.90,296.99 431.84,296.99 C432.79,296.99 433.73,296.75 434.68,296.56 C435.62,296.37 436.57,296.02 437.51,295.85 C438.46,295.69 439.40,295.76 440.35,295.57 C441.29,295.38 442.23,294.91 443.18,294.72 C444.12,294.53 445.07,294.48 446.01,294.43 C446.96,294.39 447.90,294.39 448.85,294.43 C449.79,294.48 450.74,294.60 451.68,294.72 C452.63,294.84 453.57,295.31 454.52,295.14 C455.46,294.98 456.40,294.32 457.35,293.73 C458.29,293.14 459.25,292.19 460.18,291.60 C461.11,291.01 462.07,290.50 462.93,290.18 C463.78,289.86 464.41,289.64 465.33,289.69 C466.26,289.73 467.50,290.27 468.50,290.47 C469.50,290.67 470.39,291.18 471.34,290.89 C472.28,290.61 473.23,290.07 474.17,288.77 C475.12,287.47 476.06,285.70 477.00,283.10 C477.95,280.50 479.01,276.25 479.84,273.18 C480.67,270.11 481.26,267.27 481.96,264.68 C482.67,262.08 483.38,259.36 484.09,257.59 C484.80,255.82 485.58,254.76 486.22,254.05 C486.85,253.34 487.33,253.10 487.92,253.34 C488.51,253.58 489.10,254.05 489.76,255.47 C490.42,256.88 491.17,259.36 491.88,261.84 C492.59,264.32 493.30,267.51 494.01,270.35 C494.72,273.18 495.43,276.49 496.13,278.85 C496.84,281.21 497.55,282.74 498.26,284.52 C498.97,286.29 499.68,288.34 500.39,289.47 C501.09,290.61 501.68,291.08 502.51,291.32 C503.34,291.55 504.40,291.13 505.35,290.89 C506.29,290.66 507.23,290.21 508.18,289.90 C509.12,289.59 510.07,289.12 511.01,289.05 C511.96,288.98 512.90,289.24 513.85,289.47 C514.79,289.71 515.74,289.88 516.68,290.47 C517.63,291.06 518.57,292.64 519.52,293.02 C520.46,293.40 521.42,292.87 522.35,292.73 C523.28,292.60 524.13,292.47 525.09,292.23 C526.05,291.99 527.30,291.47 528.11,291.31 C528.93,291.16 529.45,291.33 530.00,291.32 C530.55,291.31 530.65,291.13 531.42,291.26 C532.19,291.38 533.56,291.79 534.63,292.06 C535.70,292.33 536.77,292.59 537.84,292.86 C538.91,293.13 539.98,293.40 541.05,293.66 C542.12,293.93 543.19,294.41 544.26,294.47 C545.33,294.52 546.41,294.17 547.48,293.99 C548.55,293.80 549.62,293.40 550.69,293.34 C551.76,293.29 552.83,293.48 553.90,293.66 C554.97,293.85 556.04,294.41 557.11,294.47 C558.18,294.52 559.25,294.25 560.32,293.99 C561.39,293.72 562.46,292.97 563.53,292.86 C564.60,292.75 565.67,293.08 566.74,293.34 C567.81,293.61 568.88,294.15 569.95,294.47 C571.02,294.79 572.09,295.27 573.16,295.27 C574.23,295.27 575.27,294.69 576.37,294.47 C577.48,294.24 578.69,294.17 579.79,293.91 C580.90,293.64 581.93,293.17 583.00,292.86 C584.07,292.55 585.14,292.35 586.21,292.06 C587.28,291.76 588.35,291.39 589.42,291.10 C590.49,290.80 591.71,290.40 592.63,290.29 C593.56,290.19 594.43,290.48 595.00,290.45 C595.57,290.43 595.34,290.40 596.05,290.13 C596.77,289.86 598.19,289.28 599.26,288.85 C600.33,288.42 601.41,288.10 602.48,287.56 C603.55,287.03 604.62,286.23 605.69,285.64 C606.76,285.05 607.83,284.70 608.90,284.03 C609.97,283.36 611.04,282.56 612.11,281.62 C613.18,280.69 614.25,279.48 615.32,278.41 C616.39,277.34 617.46,276.41 618.53,275.20 C619.60,274.00 620.67,272.66 621.74,271.19 C622.81,269.72 623.88,267.98 624.95,266.37 C626.02,264.77 627.09,262.89 628.16,261.56 C629.23,260.22 630.38,259.29 631.37,258.35 C632.37,257.40 633.34,257.21 634.14,255.87 C634.94,254.53 635.55,251.60 636.19,250.32 C636.83,249.04 637.13,250.84 638.00,248.20 C638.87,245.56 640.47,238.67 641.40,234.50 C642.33,230.33 642.82,225.80 643.60,223.20 C644.38,220.60 645.33,218.52 646.10,218.90 C646.87,219.28 647.45,222.72 648.20,225.50 C648.95,228.28 649.88,232.18 650.60,235.60 C651.32,239.02 651.87,243.27 652.50,246.00 C653.13,248.73 653.75,249.22 654.40,252.00 C655.05,254.78 655.60,259.03 656.40,262.70 C657.20,266.37 658.27,271.17 659.20,274.00 C660.13,276.83 660.87,277.80 662.00,279.70 C663.13,281.60 664.67,283.68 666.00,285.40 C667.33,287.12 668.38,288.48 670.00,290.00 C671.62,291.52 674.75,293.75 675.70,294.50" fill="none" stroke="#0ea8f6" stroke-width="1.8" stroke-linejoin="round" stroke-linecap="round" clip-path="url(#cA)"/>
<path d="M48.41,292.11 C48.81,291.63 50.02,290.10 50.82,289.22 C51.62,288.33 52.43,287.40 53.23,286.81 C54.03,286.22 54.84,285.79 55.64,285.68 C56.44,285.58 57.24,285.76 58.05,286.16 C58.85,286.57 59.65,287.50 60.46,288.09 C61.26,288.68 62.06,289.51 62.87,289.70 C63.67,289.89 64.47,289.62 65.28,289.22 C66.08,288.82 66.88,288.28 67.69,287.29 C68.49,286.30 69.29,284.48 70.10,283.27 C70.90,282.07 71.70,280.73 72.51,280.06 C73.31,279.39 74.11,279.26 74.92,279.26 C75.72,279.26 76.52,279.52 77.33,280.06 C78.13,280.60 78.93,281.67 79.73,282.47 C80.54,283.27 81.34,284.34 82.14,284.88 C82.95,285.41 83.75,285.82 84.55,285.68 C85.36,285.55 86.16,285.01 86.96,284.08 C87.77,283.14 88.57,281.80 89.37,280.06 C90.18,278.32 90.98,275.78 91.78,273.63 C92.59,271.49 93.39,269.08 94.19,267.21 C95.00,265.33 95.80,263.33 96.60,262.39 C97.41,261.45 98.21,261.32 99.01,261.59 C99.82,261.85 100.62,262.79 101.42,264.00 C102.22,265.20 103.03,267.48 103.83,268.82 C104.63,270.15 105.44,271.31 106.24,272.03 C107.04,272.75 107.85,272.80 108.65,273.15 C109.45,273.50 110.26,273.85 111.06,274.12 C111.86,274.38 112.67,274.71 113.47,274.76 C114.27,274.81 115.08,274.54 115.88,274.44 C116.68,274.33 117.54,274.40 118.29,274.12 C119.03,273.84 119.60,272.71 120.35,272.76 C121.10,272.81 121.97,273.70 122.78,274.39 C123.60,275.08 124.45,275.98 125.22,276.89 C125.98,277.81 126.61,279.07 127.38,279.88 C128.15,280.68 129.02,281.21 129.84,281.72 C130.66,282.24 131.48,282.65 132.30,282.95 C133.12,283.26 133.83,283.26 134.75,283.57 C135.68,283.87 136.91,284.59 137.83,284.80 C138.75,285.00 139.47,284.90 140.29,284.80 C141.11,284.69 142.03,283.67 142.75,284.18 C143.46,284.69 143.98,286.33 144.59,287.87 C145.21,289.41 145.82,291.97 146.44,293.40 C147.05,294.84 147.56,295.76 148.28,296.48 C149.00,297.20 149.92,297.61 150.74,297.71 C151.56,297.81 152.38,297.30 153.20,297.09 C154.02,296.89 154.84,296.79 155.66,296.48 C156.48,296.17 157.30,295.49 158.12,295.25 C158.94,295.00 159.76,295.00 160.58,295.00 C161.40,295.00 162.21,295.31 163.03,295.25 C163.85,295.19 164.67,294.94 165.49,294.63 C166.31,294.33 167.13,293.71 167.95,293.40 C168.77,293.10 169.59,292.79 170.41,292.79 C171.23,292.79 172.05,293.40 172.87,293.40 C173.69,293.40 174.49,293.04 175.33,292.79 C176.17,292.53 177.12,291.87 177.89,291.87 C178.67,291.87 179.51,293.41 180.00,292.79 C180.49,292.16 180.22,289.25 180.84,288.12 C181.45,286.99 182.73,286.58 183.67,285.99 C184.62,285.40 185.57,285.17 186.51,284.57 C187.46,283.98 188.40,283.04 189.35,282.45 C190.29,281.86 191.24,281.43 192.18,281.03 C193.13,280.63 194.08,280.39 195.02,280.04 C195.97,279.68 196.91,278.97 197.86,278.90 C198.80,278.83 199.75,279.73 200.70,279.61 C201.64,279.49 202.59,278.55 203.53,278.19 C204.48,277.84 205.42,277.41 206.37,277.48 C207.31,277.55 208.26,278.62 209.21,278.62 C210.15,278.62 211.10,277.91 212.04,277.48 C212.99,277.06 213.93,276.54 214.88,276.06 C215.83,275.59 216.77,275.12 217.72,274.65 C218.66,274.17 219.84,273.63 220.55,273.23 C221.27,272.82 221.53,272.46 222.00,272.23 C222.47,271.99 222.73,272.47 223.39,271.81 C224.05,271.15 225.04,270.01 225.96,268.27 C226.88,266.52 227.94,263.81 228.93,261.34 C229.92,258.86 230.91,255.30 231.90,253.42 C232.89,251.53 234.05,250.38 234.87,250.05 C235.70,249.72 236.19,250.38 236.85,251.44 C237.51,252.49 238.17,254.57 238.83,256.39 C239.49,258.20 239.99,260.51 240.81,262.33 C241.64,264.14 242.79,266.45 243.78,267.28 C244.77,268.10 245.76,267.94 246.75,267.28 C247.74,266.62 248.73,264.47 249.72,263.32 C250.71,262.16 251.70,261.17 252.69,260.35 C253.68,259.52 254.73,258.81 255.66,258.37 C256.60,257.93 257.33,258.08 258.32,257.71 C259.31,257.35 260.59,256.73 261.61,256.17 C262.62,255.62 263.42,254.85 264.43,254.36 C265.43,253.87 266.57,253.58 267.64,253.23 C268.71,252.88 269.78,252.62 270.85,252.27 C271.92,251.92 272.99,251.25 274.06,251.14 C275.14,251.04 276.21,251.71 277.28,251.63 C278.35,251.55 279.42,250.93 280.49,250.66 C281.56,250.39 282.63,250.13 283.70,250.02 C284.77,249.91 285.84,249.91 286.92,250.02 C287.99,250.13 289.06,249.94 290.13,250.66 C291.20,251.39 292.27,252.94 293.34,254.36 C294.41,255.78 295.48,257.70 296.55,259.18 C297.63,260.65 298.70,261.99 299.77,263.19 C300.84,264.40 302.04,265.82 302.98,266.41 C303.92,266.99 304.59,267.13 305.39,266.73 C306.19,266.33 307.00,264.99 307.80,264.00 C308.60,263.01 309.41,261.67 310.21,260.78 C311.01,259.90 311.82,258.49 312.62,258.69 C313.42,258.90 314.27,260.38 315.00,262.00 C315.73,263.62 316.28,265.77 317.00,268.40 C317.72,271.03 318.60,275.13 319.30,277.80 C320.00,280.47 320.40,282.82 321.20,284.40 C322.00,285.98 323.39,286.55 324.10,287.30 C324.81,288.05 324.71,288.58 325.47,288.90 C326.23,289.22 327.61,289.08 328.68,289.22 C329.75,289.35 331.05,289.75 331.90,289.70 C332.75,289.64 333.25,288.76 333.78,288.89 C334.32,289.02 334.44,290.37 335.11,290.50 C335.78,290.64 336.74,289.81 337.78,289.70 C338.82,289.58 340.28,289.34 341.35,289.83 C342.41,290.33 343.24,291.73 344.18,292.67 C345.13,293.62 346.08,294.72 347.02,295.51 C347.97,296.30 348.91,296.77 349.86,297.40 C350.80,298.03 351.75,299.29 352.70,299.29 C353.64,299.29 354.59,298.35 355.53,297.40 C356.48,296.45 357.42,294.47 358.37,293.62 C359.31,292.77 360.26,292.77 361.21,292.29 C362.15,291.82 363.10,291.28 364.04,290.78 C364.99,290.28 365.93,289.90 366.88,289.27 C367.83,288.64 368.77,288.01 369.72,287.00 C370.66,285.99 371.61,284.48 372.55,283.22 C373.50,281.95 374.44,280.69 375.39,279.43 C376.34,278.17 377.28,276.75 378.23,275.65 C379.17,274.55 380.12,273.44 381.06,272.81 C382.01,272.18 382.96,271.71 383.90,271.87 C384.85,272.03 385.79,273.29 386.74,273.76 C387.68,274.23 388.63,274.23 389.57,274.70 C390.52,275.18 391.49,276.03 392.41,276.60 C393.34,277.16 394.20,277.55 395.12,278.08 C396.05,278.60 397.01,279.00 397.96,279.73 C398.90,280.46 399.85,281.48 400.80,282.45 C401.74,283.41 402.69,284.59 403.63,285.52 C404.58,286.44 405.54,287.41 406.47,288.00 C407.39,288.59 408.58,288.90 409.17,289.05 C409.76,289.20 409.53,288.94 410.00,288.89 C410.47,288.84 411.20,289.50 412.00,288.77 C412.81,288.04 413.89,286.05 414.84,284.52 C415.78,282.98 416.73,281.45 417.67,279.56 C418.62,277.67 419.56,274.95 420.51,273.18 C421.45,271.41 422.40,270.23 423.34,268.93 C424.29,267.63 425.23,266.45 426.17,265.39 C427.12,264.32 428.06,263.09 429.01,262.55 C429.95,262.01 430.90,261.89 431.84,262.13 C432.79,262.36 433.73,263.31 434.68,263.97 C435.62,264.63 436.57,266.09 437.51,266.09 C438.46,266.09 439.40,264.80 440.35,263.97 C441.29,263.14 442.23,262.08 443.18,261.13 C444.12,260.19 445.19,258.77 446.01,258.30 C446.84,257.83 447.55,257.95 448.14,258.30 C448.73,258.65 448.97,258.89 449.56,260.43 C450.15,261.96 450.85,264.68 451.68,267.51 C452.51,270.35 453.57,274.60 454.52,277.43 C455.46,280.26 456.40,282.74 457.35,284.52 C458.29,286.29 459.25,287.37 460.18,288.06 C461.11,288.74 462.07,288.39 462.93,288.62 C463.78,288.86 464.41,288.74 465.33,289.47 C466.26,290.21 467.50,292.07 468.50,293.02 C469.50,293.96 470.39,294.55 471.34,295.14 C472.28,295.73 473.34,296.56 474.17,296.56 C475.00,296.56 475.59,295.73 476.30,295.14 C477.00,294.55 477.59,293.84 478.42,293.02 C479.25,292.19 480.31,291.13 481.26,290.18 C482.20,289.24 483.26,288.18 484.09,287.35 C484.92,286.52 485.51,285.89 486.22,285.22 C486.92,284.56 487.63,283.85 488.34,283.38 C489.05,282.91 489.76,282.91 490.47,282.39 C491.17,281.87 491.88,281.56 492.59,280.26 C493.30,278.97 494.01,276.01 494.72,274.60 C495.43,273.18 496.13,272.59 496.84,271.76 C497.55,270.94 498.26,270.35 498.97,269.64 C499.68,268.93 500.39,268.34 501.09,267.51 C501.80,266.68 502.51,265.86 503.22,264.68 C503.93,263.50 504.64,262.32 505.35,260.43 C506.05,258.54 506.76,256.17 507.47,253.34 C508.18,250.51 508.89,246.73 509.60,243.42 C510.30,240.12 511.13,236.34 511.72,233.50 C512.31,230.67 512.66,228.57 513.14,226.42 C513.62,224.27 514.04,221.85 514.60,220.60 C515.16,219.35 515.83,218.93 516.50,218.90 C517.17,218.87 517.77,219.13 518.60,220.40 C519.43,221.67 520.43,223.92 521.50,226.50 C522.57,229.08 524.15,233.24 525.00,235.87 C525.85,238.50 525.94,239.35 526.61,242.29 C527.27,245.23 528.21,250.32 529.01,253.53 C529.82,256.74 530.62,258.61 531.42,261.56 C532.22,264.50 533.03,268.78 533.83,271.19 C534.63,273.60 535.44,274.40 536.24,276.00 C537.04,277.61 537.84,279.22 538.65,280.82 C539.45,282.43 540.25,284.30 541.05,285.64 C541.86,286.98 542.66,287.78 543.46,288.85 C544.26,289.92 545.07,291.20 545.87,292.06 C546.67,292.92 547.48,293.58 548.28,293.99 C549.08,294.39 549.75,294.39 550.69,294.47 C551.62,294.55 552.83,294.60 553.90,294.47 C554.97,294.33 556.04,293.80 557.11,293.66 C558.18,293.53 559.25,293.93 560.32,293.66 C561.39,293.40 562.46,292.73 563.53,292.06 C564.60,291.39 565.67,290.45 566.74,289.65 C567.81,288.85 568.88,288.18 569.95,287.24 C571.02,286.31 572.09,285.24 573.16,284.03 C574.23,282.83 575.27,281.29 576.37,280.02 C577.48,278.75 578.74,277.11 579.79,276.41 C580.85,275.70 581.45,277.17 582.70,275.80 C583.95,274.43 585.65,270.73 587.30,268.20 C588.95,265.67 591.22,263.13 592.60,260.60 C593.98,258.07 594.60,255.52 595.60,253.00 C596.60,250.48 597.72,246.62 598.60,245.50 C599.48,244.38 600.09,245.64 600.87,246.31 C601.65,246.97 602.48,248.45 603.28,249.52 C604.08,250.59 604.88,251.92 605.69,252.73 C606.49,253.53 607.29,254.47 608.09,254.33 C608.90,254.20 609.70,252.73 610.50,251.92 C611.31,251.12 612.11,250.18 612.91,249.52 C613.71,248.85 614.52,248.58 615.32,247.91 C616.12,247.24 616.92,246.17 617.73,245.50 C618.53,244.83 619.33,244.70 620.13,243.90 C620.94,243.09 621.74,241.27 622.54,240.69 C623.35,240.10 624.15,240.77 624.95,240.37 C625.75,239.96 626.54,239.14 627.36,238.28 C628.18,237.41 629.08,236.12 629.88,235.19 C630.69,234.25 631.40,234.08 632.18,232.66 C632.95,231.24 633.74,228.54 634.54,226.67 C635.34,224.80 636.23,223.90 636.99,221.42 C637.75,218.94 638.18,215.10 639.10,211.80 C640.02,208.50 641.22,204.58 642.50,201.60 C643.78,198.62 645.58,194.58 646.80,193.90 C648.02,193.22 648.78,195.60 649.80,197.50 C650.82,199.40 651.75,201.47 652.90,205.30 C654.05,209.13 655.43,215.45 656.70,220.50 C657.97,225.55 659.53,232.02 660.50,235.60 C661.47,239.18 661.87,239.37 662.50,242.00 C663.13,244.63 663.43,247.95 664.30,251.40 C665.17,254.85 666.47,258.93 667.70,262.70 C668.93,266.47 670.57,270.58 671.70,274.00 C672.83,277.42 673.78,281.12 674.50,283.20 C675.22,285.28 675.75,285.95 676.00,286.50" fill="none" stroke="#000" stroke-width="1.8" stroke-linejoin="round" stroke-linecap="round" clip-path="url(#cA)"/>
<path d="M48.41,285.68 C48.81,284.48 50.02,280.33 50.82,278.45 C51.62,276.58 52.43,275.46 53.23,274.44 C54.03,273.42 54.84,272.56 55.64,272.35 C56.44,272.14 57.24,272.40 58.05,273.15 C58.85,273.90 59.65,275.70 60.46,276.85 C61.26,278.00 62.06,279.44 62.87,280.06 C63.67,280.68 64.47,281.35 65.28,280.54 C66.08,279.74 66.88,277.86 67.69,275.24 C68.49,272.62 69.29,267.88 70.10,264.80 C70.90,261.72 71.70,258.64 72.51,256.77 C73.31,254.89 74.11,253.69 74.92,253.55 C75.72,253.42 76.52,254.09 77.33,255.96 C78.13,257.84 78.93,261.85 79.73,264.80 C80.54,267.74 81.34,271.63 82.14,273.63 C82.95,275.64 83.75,276.50 84.55,276.85 C85.36,277.20 86.16,276.66 86.96,275.72 C87.77,274.79 88.57,273.05 89.37,271.22 C90.18,269.40 90.98,266.67 91.78,264.80 C92.59,262.93 93.39,261.18 94.19,259.98 C95.00,258.78 95.80,257.57 96.60,257.57 C97.41,257.57 98.21,258.51 99.01,259.98 C99.82,261.45 100.62,264.26 101.42,266.41 C102.22,268.55 103.03,271.09 103.83,272.83 C104.63,274.57 105.44,275.64 106.24,276.85 C107.04,278.05 107.85,279.39 108.65,280.06 C109.45,280.73 110.26,281.13 111.06,280.86 C111.86,280.60 112.67,278.86 113.47,278.45 C114.27,278.05 115.08,278.19 115.88,278.45 C116.68,278.72 117.54,279.98 118.29,280.06 C119.03,280.14 119.60,279.20 120.35,278.95 C121.10,278.70 121.92,278.32 122.78,278.55 C123.65,278.78 124.56,279.51 125.53,280.34 C126.50,281.18 127.58,282.72 128.61,283.57 C129.63,284.41 130.76,284.80 131.68,285.41 C132.60,286.03 133.32,287.15 134.14,287.26 C134.96,287.36 135.68,286.54 136.60,286.03 C137.52,285.51 138.75,284.59 139.67,284.18 C140.60,283.77 141.41,283.16 142.13,283.57 C142.85,283.98 143.36,285.31 143.98,286.64 C144.59,287.97 145.10,290.13 145.82,291.56 C146.54,292.99 147.46,294.43 148.28,295.25 C149.10,296.07 149.92,296.17 150.74,296.48 C151.56,296.79 152.38,297.20 153.20,297.09 C154.02,296.99 154.84,296.17 155.66,295.86 C156.48,295.56 157.30,295.25 158.12,295.25 C158.94,295.25 159.76,295.86 160.58,295.86 C161.40,295.86 162.21,295.56 163.03,295.25 C163.85,294.94 164.67,294.43 165.49,294.02 C166.31,293.61 167.13,293.04 167.95,292.79 C168.77,292.54 169.59,292.38 170.41,292.54 C171.23,292.71 172.05,293.73 172.87,293.77 C173.69,293.81 174.49,293.28 175.33,292.79 C176.17,292.30 177.12,290.90 177.89,290.86 C178.67,290.82 179.51,293.12 180.00,292.54 C180.49,291.97 180.22,289.21 180.84,287.41 C181.45,285.61 182.73,283.39 183.67,281.74 C184.62,280.08 185.57,278.71 186.51,277.48 C187.46,276.25 188.40,275.07 189.35,274.36 C190.29,273.65 191.24,273.30 192.18,273.23 C193.13,273.16 194.08,273.70 195.02,273.94 C195.97,274.17 196.91,274.57 197.86,274.65 C198.80,274.72 199.75,274.72 200.70,274.36 C201.64,274.01 202.59,273.13 203.53,272.52 C204.48,271.90 205.42,271.26 206.37,270.67 C207.31,270.08 208.26,269.49 209.21,268.97 C210.15,268.45 211.10,267.91 212.04,267.55 C212.99,267.20 213.93,267.08 214.88,266.84 C215.83,266.61 216.77,266.49 217.72,266.13 C218.66,265.78 219.84,265.19 220.55,264.72 C221.27,264.25 221.53,263.74 222.00,263.32 C222.47,262.89 222.73,262.49 223.39,262.16 C224.05,261.83 225.04,262.96 225.96,261.34 C226.88,259.71 227.94,256.88 228.93,252.43 C229.92,247.97 231.01,238.73 231.90,234.60 C232.79,230.48 233.55,228.83 234.28,227.67 C235.00,226.52 235.60,226.52 236.26,227.67 C236.92,228.83 237.58,231.47 238.24,234.60 C238.90,237.74 239.46,242.52 240.22,246.49 C240.98,250.45 241.87,255.73 242.79,258.37 C243.72,261.01 244.77,262.33 245.76,262.33 C246.75,262.33 247.74,259.85 248.73,258.37 C249.72,256.88 250.71,255.07 251.70,253.42 C252.69,251.77 253.65,249.94 254.67,248.47 C255.69,246.99 256.76,245.75 257.82,244.57 C258.88,243.38 260.33,241.71 261.02,241.37 C261.72,241.03 261.50,242.70 262.00,242.52 C262.50,242.35 263.20,240.76 264.05,240.31 C264.89,239.87 266.07,240.06 267.07,239.86 C268.08,239.66 269.09,239.43 270.10,239.10 C271.11,238.77 272.24,238.19 273.12,237.89 C274.01,237.59 274.76,237.14 275.39,237.29 C276.02,237.44 276.15,239.00 276.90,238.80 C277.66,238.60 279.05,237.29 279.93,236.08 C280.81,234.87 281.31,233.30 282.20,231.54 C283.08,229.78 284.21,226.37 285.22,225.49 C286.23,224.61 287.24,226.12 288.25,226.25 C289.25,226.37 290.26,225.87 291.27,226.25 C292.28,226.63 293.29,227.38 294.29,228.52 C295.30,229.65 296.31,231.29 297.32,233.05 C298.33,234.82 299.34,237.59 300.34,239.10 C301.35,240.61 302.36,241.87 303.37,242.13 C304.38,242.38 305.39,241.62 306.39,240.61 C307.40,239.61 308.54,237.21 309.42,236.08 C310.30,234.94 311.10,234.11 311.69,233.81 C312.27,233.51 312.49,233.66 312.91,234.27 C313.33,234.88 313.78,236.53 314.22,237.49 C314.67,238.44 315.05,238.00 315.60,240.00 C316.15,242.00 316.95,246.35 317.50,249.50 C318.05,252.65 318.43,255.75 318.90,258.90 C319.37,262.05 319.83,265.25 320.30,268.40 C320.77,271.55 321.23,275.13 321.70,277.80 C322.17,280.47 322.55,283.03 323.10,284.40 C323.65,285.77 324.37,285.68 325.00,286.00 C325.63,286.32 326.29,286.35 326.90,286.30 C327.51,286.25 327.85,286.05 328.68,285.68 C329.52,285.31 331.20,284.49 331.90,284.08 C332.59,283.67 332.25,283.14 332.84,283.22 C333.42,283.29 334.49,284.31 335.39,284.52 C336.29,284.73 337.26,284.51 338.26,284.45 C339.25,284.39 340.36,283.42 341.35,284.16 C342.34,284.90 343.24,287.31 344.18,288.89 C345.13,290.46 346.08,292.36 347.02,293.62 C347.97,294.88 348.91,295.67 349.86,296.45 C350.80,297.24 351.75,298.19 352.70,298.35 C353.64,298.50 354.59,298.66 355.53,297.40 C356.48,296.14 357.42,292.83 358.37,290.78 C359.31,288.73 360.26,286.37 361.21,285.11 C362.15,283.85 363.10,283.85 364.04,283.22 C364.99,282.58 365.93,282.27 366.88,281.32 C367.83,280.38 368.77,279.43 369.72,277.54 C370.66,275.65 371.61,272.81 372.55,269.98 C373.50,267.14 374.44,263.67 375.39,260.52 C376.34,257.37 377.28,253.27 378.23,251.06 C379.17,248.86 380.12,248.07 381.06,247.28 C382.01,246.49 382.96,246.34 383.90,246.34 C384.85,246.34 385.79,247.12 386.74,247.28 C387.68,247.44 388.63,246.97 389.57,247.28 C390.52,247.60 391.49,248.51 392.41,249.17 C393.34,249.84 394.20,250.44 395.12,251.26 C396.05,252.08 397.01,253.11 397.96,254.09 C398.90,255.08 399.85,256.14 400.80,257.16 C401.74,258.19 402.69,259.03 403.63,260.24 C404.58,261.44 405.54,263.28 406.47,264.37 C407.39,265.47 408.58,266.50 409.17,266.80 C409.76,267.11 409.53,266.31 410.00,266.19 C410.47,266.08 411.20,266.58 412.00,266.09 C412.81,265.60 413.89,264.91 414.84,263.26 C415.78,261.61 416.73,259.01 417.67,256.17 C418.62,253.34 419.67,249.61 420.51,246.26 C421.34,242.90 421.81,238.52 422.68,236.06 C423.55,233.61 424.82,232.66 425.70,231.53 C426.59,230.39 427.21,229.81 427.97,229.26 C428.73,228.70 429.48,227.82 430.24,228.20 C430.99,228.58 431.75,230.09 432.51,231.53 C433.26,232.96 433.89,235.31 434.77,236.82 C435.66,238.33 436.92,240.47 437.80,240.60 C438.68,240.72 439.18,238.71 440.07,237.57 C440.95,236.44 442.21,234.80 443.09,233.79 C443.97,232.79 444.60,231.53 445.36,231.53 C446.11,231.53 446.90,232.40 447.63,233.79 C448.35,235.19 449.05,237.10 449.72,239.88 C450.40,242.67 450.88,246.61 451.68,250.51 C452.48,254.40 453.57,259.24 454.52,263.26 C455.46,267.27 456.40,271.53 457.35,274.60 C458.29,277.67 459.25,280.03 460.18,281.68 C461.11,283.33 462.07,283.57 462.93,284.52 C463.78,285.46 464.41,286.40 465.33,287.35 C466.26,288.29 467.50,289.24 468.50,290.18 C469.50,291.13 470.39,292.36 471.34,293.02 C472.28,293.68 473.34,294.15 474.17,294.15 C475.00,294.15 475.59,294.15 476.30,293.02 C477.00,291.88 477.71,289.95 478.42,287.35 C479.13,284.75 479.84,280.50 480.55,277.43 C481.26,274.36 481.96,270.94 482.67,268.93 C483.38,266.92 484.09,266.33 484.80,265.39 C485.51,264.44 486.22,263.57 486.92,263.26 C487.63,262.95 488.34,263.54 489.05,263.54 C489.76,263.54 490.47,263.90 491.17,263.26 C491.88,262.62 492.59,261.13 493.30,259.72 C494.01,258.30 494.72,255.82 495.43,254.76 C496.13,253.69 496.84,254.05 497.55,253.34 C498.26,252.63 498.97,251.69 499.68,250.51 C500.39,249.33 501.21,247.67 501.80,246.26 C502.39,244.84 502.75,243.66 503.22,242.00 C503.69,240.35 504.16,238.85 504.64,236.34 C505.11,233.82 505.43,232.03 506.08,226.93 C506.72,221.82 507.61,212.39 508.50,205.70 C509.39,199.01 510.53,192.08 511.40,186.80 C512.27,181.52 512.92,177.17 513.70,174.00 C514.48,170.83 515.27,167.97 516.10,167.80 C516.93,167.63 517.75,169.83 518.70,173.00 C519.65,176.17 520.75,181.35 521.80,186.80 C522.85,192.25 524.00,199.40 525.00,205.70 C526.00,212.00 527.13,220.91 527.80,224.60 C528.47,228.29 528.41,225.16 529.01,227.84 C529.62,230.52 530.62,236.67 531.42,240.69 C532.22,244.70 533.03,248.71 533.83,251.92 C534.63,255.13 535.44,257.54 536.24,259.95 C537.04,262.36 537.84,263.70 538.65,266.37 C539.45,269.05 540.25,273.06 541.05,276.00 C541.86,278.95 542.66,281.62 543.46,284.03 C544.26,286.44 545.07,288.85 545.87,290.45 C546.67,292.06 547.48,292.86 548.28,293.66 C549.08,294.47 549.75,295.14 550.69,295.27 C551.62,295.40 552.83,294.73 553.90,294.47 C554.97,294.20 556.04,293.80 557.11,293.66 C558.18,293.53 559.25,294.20 560.32,293.66 C561.39,293.13 562.59,291.66 563.53,290.45 C564.47,289.25 565.13,287.51 565.94,286.44 C566.74,285.37 567.54,284.97 568.35,284.03 C569.15,283.10 569.61,282.19 570.75,280.82 C571.90,279.45 573.84,277.90 575.20,275.80 C576.56,273.70 577.65,270.73 578.90,268.20 C580.15,265.67 581.55,263.13 582.70,260.60 C583.85,258.07 584.78,255.52 585.80,253.00 C586.82,250.48 587.92,248.02 588.80,245.50 C589.68,242.98 590.40,240.43 591.10,237.90 C591.80,235.37 592.25,232.83 593.00,230.30 C593.75,227.77 594.67,225.22 595.60,222.70 C596.53,220.18 597.85,216.54 598.60,215.20 C599.35,213.86 599.48,214.09 600.11,214.68 C600.74,215.28 601.62,217.20 602.38,218.76 C603.14,220.32 603.89,222.67 604.65,224.05 C605.40,225.44 606.16,226.52 606.91,227.07 C607.67,227.63 608.42,227.75 609.18,227.38 C609.94,227.00 610.69,226.24 611.45,224.81 C612.20,223.37 612.96,220.15 613.71,218.76 C614.47,217.38 615.23,216.87 615.98,216.50 C616.74,216.12 617.49,217.13 618.25,216.50 C619.00,215.87 619.76,213.72 620.51,212.72 C621.27,211.71 622.03,210.83 622.78,210.45 C623.54,210.07 624.29,211.08 625.05,210.45 C625.80,209.82 626.56,207.93 627.32,206.67 C628.07,205.41 629.07,204.21 629.58,202.89 C630.10,201.58 630.02,200.06 630.40,198.80 C630.78,197.54 631.22,198.37 631.85,195.34 C632.48,192.31 633.40,185.16 634.16,180.62 C634.91,176.09 635.70,172.25 636.38,168.14 C637.07,164.02 637.62,159.69 638.27,155.92 C638.93,152.14 639.46,149.77 640.30,145.50 C641.14,141.23 642.33,135.35 643.30,130.30 C644.27,125.25 645.38,118.73 646.10,115.20 C646.82,111.67 647.05,109.10 647.60,109.10 C648.15,109.10 648.70,111.67 649.40,115.20 C650.10,118.73 650.97,125.25 651.80,130.30 C652.63,135.35 653.58,140.45 654.40,145.50 C655.22,150.55 656.02,155.68 656.70,160.60 C657.38,165.52 657.75,170.07 658.50,175.00 C659.25,179.93 660.30,185.15 661.20,190.20 C662.10,195.25 663.08,200.25 663.90,205.30 C664.72,210.35 665.43,215.45 666.10,220.50 C666.77,225.55 667.25,230.45 667.90,235.60 C668.55,240.75 669.27,246.88 670.00,251.40 C670.73,255.92 671.58,258.93 672.30,262.70 C673.02,266.47 673.68,270.58 674.30,274.00 C674.92,277.42 675.72,281.67 676.00,283.20" fill="none" stroke="#0606ee" stroke-width="1.8" stroke-linejoin="round" stroke-linecap="round" clip-path="url(#cA)"/>
<path d="M48.41,280.06 C48.68,278.32 49.35,272.30 50.02,269.62 C50.69,266.94 51.62,265.20 52.43,264.00 C53.23,262.79 54.03,262.52 54.84,262.39 C55.64,262.26 56.44,262.58 57.24,263.19 C58.05,263.81 58.85,265.28 59.65,266.08 C60.46,266.89 61.26,267.96 62.06,268.01 C62.87,268.07 63.67,268.01 64.47,266.41 C65.28,264.80 66.08,262.12 66.88,258.37 C67.69,254.63 68.49,248.20 69.29,243.92 C70.10,239.63 70.90,235.40 71.70,232.67 C72.51,229.94 73.31,228.33 74.11,227.53 C74.92,226.73 75.72,226.99 76.52,227.85 C77.33,228.71 78.13,229.73 78.93,232.67 C79.73,235.62 80.40,241.51 81.34,245.52 C82.28,249.54 83.62,253.96 84.55,256.77 C85.49,259.58 86.16,261.72 86.96,262.39 C87.77,263.06 88.57,262.52 89.37,260.78 C90.18,259.04 90.98,255.29 91.78,251.95 C92.59,248.60 93.39,243.38 94.19,240.70 C95.00,238.03 95.80,236.29 96.60,235.88 C97.41,235.48 98.21,236.42 99.01,238.29 C99.82,240.17 100.62,244.32 101.42,247.13 C102.22,249.94 103.03,253.02 103.83,255.16 C104.63,257.30 105.44,259.31 106.24,259.98 C107.04,260.65 107.85,259.44 108.65,259.18 C109.45,258.91 110.26,258.24 111.06,258.37 C111.86,258.51 112.67,259.58 113.47,259.98 C114.27,260.38 115.08,260.38 115.88,260.78 C116.68,261.18 117.54,262.34 118.29,262.39 C119.03,262.44 119.50,261.71 120.35,261.11 C121.20,260.51 122.48,258.45 123.40,258.77 C124.31,259.09 124.86,260.96 125.83,263.05 C126.80,265.13 128.14,269.39 129.22,271.27 C130.30,273.15 131.37,273.53 132.30,274.35 C133.22,275.17 133.93,276.50 134.75,276.19 C135.57,275.88 136.29,273.22 137.21,272.50 C138.14,271.78 139.37,271.58 140.29,271.89 C141.21,272.19 142.03,272.81 142.75,274.35 C143.46,275.88 143.98,278.85 144.59,281.11 C145.21,283.36 145.82,285.92 146.44,287.87 C147.05,289.82 147.56,291.81 148.28,292.79 C149.00,293.77 149.92,293.77 150.74,293.77 C151.56,293.77 152.38,293.16 153.20,292.79 C154.02,292.42 154.84,291.66 155.66,291.56 C156.48,291.46 157.30,291.66 158.12,292.17 C158.94,292.69 159.76,294.37 160.58,294.63 C161.40,294.90 162.21,294.18 163.03,293.77 C163.85,293.36 164.67,292.85 165.49,292.17 C166.31,291.50 167.13,289.92 167.95,289.72 C168.77,289.51 169.59,291.05 170.41,290.94 C171.23,290.84 172.05,289.20 172.87,289.10 C173.69,289.00 174.49,290.35 175.33,290.33 C176.17,290.31 177.12,289.07 177.89,288.97 C178.67,288.86 179.51,290.21 180.00,289.72 C180.49,289.22 180.22,287.32 180.84,285.99 C181.45,284.66 182.73,283.27 183.67,281.74 C184.62,280.20 185.57,278.19 186.51,276.77 C187.46,275.35 188.40,273.94 189.35,273.23 C190.29,272.52 191.24,272.87 192.18,272.52 C193.13,272.16 194.08,271.50 195.02,271.10 C195.97,270.70 196.91,270.34 197.86,270.11 C198.80,269.87 199.75,269.87 200.70,269.68 C201.64,269.49 202.59,269.33 203.53,268.97 C204.48,268.62 205.42,268.03 206.37,267.55 C207.31,267.08 208.26,266.61 209.21,266.13 C210.15,265.66 211.10,265.07 212.04,264.72 C212.99,264.36 213.93,264.36 214.88,264.01 C215.83,263.65 216.77,263.30 217.72,262.59 C218.66,261.88 219.84,260.46 220.55,259.75 C221.27,259.05 221.53,258.60 222.00,258.37 C222.47,258.13 222.71,258.54 223.39,258.33 C224.07,258.13 225.17,259.45 226.09,257.15 C227.02,254.84 227.96,250.57 228.93,244.50 C229.90,238.44 231.01,226.35 231.90,220.74 C232.79,215.13 233.62,212.33 234.28,210.84 C234.94,209.36 235.27,210.18 235.86,211.83 C236.46,213.48 237.18,216.95 237.84,220.74 C238.50,224.54 239.16,230.31 239.82,234.60 C240.48,238.89 240.98,243.18 241.80,246.49 C242.63,249.79 243.78,253.75 244.77,254.41 C245.76,255.07 246.75,252.43 247.74,250.45 C248.73,248.47 249.72,244.67 250.71,242.52 C251.70,240.38 252.50,238.69 253.68,237.57 C254.87,236.46 256.60,236.72 257.82,235.84 C259.05,234.96 260.33,232.67 261.02,232.30 C261.72,231.93 261.50,233.99 262.00,233.61 C262.50,233.24 263.20,230.88 264.05,230.03 C264.89,229.18 266.07,229.02 267.07,228.52 C268.08,228.01 269.09,227.76 270.10,227.00 C271.11,226.25 272.11,224.86 273.12,223.98 C274.13,223.10 275.14,222.72 276.15,221.71 C277.16,220.70 278.16,219.19 279.17,217.93 C280.18,216.67 281.19,215.21 282.20,214.15 C283.20,213.09 284.21,212.16 285.22,211.58 C286.23,211.00 287.36,210.92 288.25,210.67 C289.13,210.42 289.76,209.86 290.51,210.07 C291.27,210.27 291.90,210.57 292.78,211.88 C293.66,213.19 294.80,215.91 295.81,217.93 C296.82,219.95 297.82,221.96 298.83,223.98 C299.84,226.00 301.10,228.77 301.86,230.03 C302.61,231.29 302.74,231.79 303.37,231.54 C304.00,231.29 304.88,230.78 305.64,228.52 C306.39,226.25 307.15,221.21 307.91,217.93 C308.66,214.65 309.42,211.25 310.17,208.86 C310.93,206.46 311.81,204.19 312.44,203.56 C313.07,202.93 313.48,201.40 313.95,205.08 C314.43,208.75 314.79,220.45 315.30,225.60 C315.81,230.75 316.48,233.60 317.00,236.00 C317.52,238.40 317.93,237.75 318.40,240.00 C318.87,242.25 319.33,246.35 319.80,249.50 C320.27,252.65 320.73,255.75 321.20,258.90 C321.67,262.05 322.12,265.72 322.60,268.40 C323.08,271.08 323.53,273.82 324.10,275.00 C324.67,276.18 325.24,275.59 326.00,275.50 C326.76,275.41 327.70,274.40 328.68,274.44 C329.67,274.47 331.20,275.52 331.90,275.72 C332.59,275.92 332.25,275.68 332.84,275.65 C333.42,275.62 334.49,275.59 335.39,275.52 C336.29,275.44 337.26,275.19 338.26,275.21 C339.25,275.24 340.36,274.32 341.35,275.65 C342.34,276.98 343.24,280.69 344.18,283.22 C345.13,285.74 346.08,288.73 347.02,290.78 C347.97,292.83 348.91,294.25 349.86,295.51 C350.80,296.77 351.75,298.19 352.70,298.35 C353.64,298.50 354.59,298.03 355.53,296.45 C356.48,294.88 357.42,291.73 358.37,288.89 C359.31,286.05 360.26,281.64 361.21,279.43 C362.15,277.23 363.10,276.60 364.04,275.65 C364.99,274.70 365.93,274.70 366.88,273.76 C367.83,272.81 368.77,271.87 369.72,269.98 C370.66,268.09 371.61,265.25 372.55,262.41 C373.50,259.57 374.44,256.11 375.39,252.96 C376.34,249.80 377.28,245.71 378.23,243.50 C379.17,241.29 380.12,240.50 381.06,239.72 C382.01,238.93 382.96,238.93 383.90,238.77 C384.85,238.61 385.79,238.93 386.74,238.77 C387.68,238.61 388.63,237.51 389.57,237.83 C390.52,238.14 391.49,239.78 392.41,240.66 C393.34,241.54 394.20,242.36 395.12,243.11 C396.05,243.85 397.01,244.39 397.96,245.11 C398.90,245.84 399.85,246.61 400.80,247.48 C401.74,248.34 402.69,249.56 403.63,250.31 C404.58,251.06 405.54,251.46 406.47,251.97 C407.39,252.47 408.58,252.86 409.17,253.34 C409.76,253.82 409.53,254.61 410.00,254.85 C410.47,255.08 411.20,255.01 412.00,254.76 C412.81,254.51 413.89,254.76 414.84,253.34 C415.78,251.92 416.67,249.74 417.67,246.26 C418.67,242.77 419.88,237.14 420.84,232.42 C421.80,227.70 422.62,221.09 423.44,217.92 C424.25,214.75 424.95,215.40 425.70,213.38 C426.46,211.37 427.21,207.28 427.97,205.82 C428.73,204.36 429.48,204.11 430.24,204.61 C430.99,205.12 431.62,206.63 432.51,208.85 C433.39,211.06 434.52,214.64 435.53,217.92 C436.54,221.19 437.67,226.74 438.55,228.50 C439.44,230.27 440.07,229.38 440.82,228.50 C441.58,227.62 442.33,224.72 443.09,223.21 C443.85,221.70 444.60,219.81 445.36,219.43 C446.11,219.05 447.00,219.93 447.63,220.94 C448.26,221.95 448.63,223.46 449.14,225.48 C449.64,227.49 450.23,230.76 450.65,233.04 C451.07,235.32 451.04,235.79 451.68,239.17 C452.33,242.55 453.57,248.62 454.52,253.34 C455.46,258.06 456.40,263.50 457.35,267.51 C458.29,271.53 459.25,275.07 460.18,277.43 C461.11,279.79 462.07,280.26 462.93,281.68 C463.78,283.10 464.41,284.63 465.33,285.93 C466.26,287.23 467.50,288.34 468.50,289.47 C469.50,290.61 470.39,292.03 471.34,292.73 C472.28,293.44 473.34,293.92 474.17,293.73 C475.00,293.54 475.59,293.14 476.30,291.60 C477.00,290.07 477.71,287.59 478.42,284.52 C479.13,281.45 479.84,276.96 480.55,273.18 C481.26,269.40 481.96,264.91 482.67,261.84 C483.38,258.77 484.09,256.46 484.80,254.76 C485.51,253.06 486.22,251.99 486.92,251.64 C487.63,251.29 488.22,252.16 489.05,252.63 C489.88,253.10 491.06,254.36 491.88,254.47 C492.71,254.59 493.30,254.00 494.01,253.34 C494.72,252.68 495.43,251.69 496.13,250.51 C496.84,249.33 497.55,247.91 498.26,246.26 C498.97,244.60 499.68,242.71 500.39,240.59 C501.09,238.46 501.66,239.32 502.51,233.50 C503.36,227.69 504.69,213.48 505.50,205.70 C506.31,197.92 506.73,193.12 507.40,186.80 C508.07,180.48 508.68,174.12 509.50,167.80 C510.32,161.48 511.47,153.70 512.30,148.90 C513.13,144.10 513.80,141.20 514.50,139.00 C515.20,136.80 515.82,135.70 516.50,135.70 C517.18,135.70 517.92,136.80 518.60,139.00 C519.28,141.20 519.68,144.10 520.60,148.90 C521.52,153.70 523.15,161.48 524.10,167.80 C525.05,174.12 525.52,180.48 526.30,186.80 C527.08,193.12 527.81,198.32 528.80,205.70 C529.79,213.08 531.25,224.69 532.22,231.05 C533.20,237.42 533.83,240.15 534.63,243.90 C535.44,247.64 536.24,250.32 537.04,253.53 C537.84,256.74 538.65,259.95 539.45,263.16 C540.25,266.37 541.05,269.58 541.86,272.79 C542.66,276.00 543.46,279.62 544.26,282.43 C545.07,285.24 545.87,287.91 546.67,289.65 C547.48,291.39 548.28,292.06 549.08,292.86 C549.88,293.66 550.69,294.20 551.49,294.47 C552.29,294.73 553.09,294.65 553.90,294.47 C554.70,294.28 555.50,293.74 556.31,293.34 C557.11,292.94 557.91,292.54 558.71,292.06 C559.52,291.58 560.32,291.26 561.12,290.45 C561.92,289.65 562.73,288.58 563.53,287.24 C564.33,285.90 564.89,284.33 565.94,282.43 C566.98,280.52 568.52,278.17 569.80,275.80 C571.08,273.43 572.50,270.73 573.60,268.20 C574.70,265.67 575.52,263.13 576.40,260.60 C577.28,258.07 577.97,255.52 578.90,253.00 C579.83,250.48 580.85,248.02 582.00,245.50 C583.15,242.98 584.67,240.43 585.80,237.90 C586.93,235.37 587.80,234.08 588.80,230.30 C589.80,226.52 590.73,220.25 591.80,215.20 C592.87,210.15 594.44,204.57 595.20,200.00 C595.96,195.43 595.77,190.70 596.33,187.78 C596.90,184.86 597.97,183.55 598.60,182.49 C599.23,181.43 599.48,181.31 600.11,181.43 C600.74,181.56 601.75,181.94 602.38,183.25 C603.01,184.56 603.26,186.52 603.89,189.29 C604.52,192.06 605.40,196.85 606.16,199.87 C606.91,202.89 607.67,205.79 608.42,207.43 C609.18,209.07 609.94,209.82 610.69,209.69 C611.45,209.57 612.20,207.93 612.96,206.67 C613.71,205.41 614.47,203.15 615.23,202.14 C615.98,201.13 616.66,201.80 617.49,200.63 C618.32,199.45 619.32,196.59 620.20,195.10 C621.08,193.61 621.80,193.12 622.80,191.70 C623.80,190.28 625.07,188.87 626.20,186.60 C627.33,184.33 628.67,180.87 629.60,178.10 C630.53,175.33 631.10,172.83 631.80,170.00 C632.50,167.17 633.20,164.02 633.80,161.10 C634.40,158.18 634.88,155.35 635.40,152.50 C635.92,149.65 636.43,146.83 636.90,144.00 C637.37,141.17 637.80,138.33 638.20,135.50 C638.60,132.67 638.93,129.83 639.30,127.00 C639.67,124.17 640.01,122.58 640.40,118.50 C640.79,114.42 641.00,108.42 641.65,102.50 C642.30,96.58 643.52,88.42 644.30,83.00 C645.07,77.58 645.68,73.10 646.30,70.00 C646.92,66.90 647.42,64.40 648.00,64.40 C648.58,64.40 649.28,66.90 649.80,70.00 C650.32,73.10 650.52,78.00 651.10,83.00 C651.68,88.00 652.62,94.63 653.30,100.00 C653.98,105.37 654.58,110.15 655.20,115.20 C655.82,120.25 656.45,125.25 657.00,130.30 C657.55,135.35 658.00,140.45 658.50,145.50 C659.00,150.55 659.50,155.55 660.00,160.60 C660.50,165.65 661.10,170.87 661.50,175.80 C661.90,180.73 661.87,185.28 662.40,190.20 C662.93,195.12 663.93,200.25 664.70,205.30 C665.47,210.35 666.32,214.72 667.00,220.50 C667.68,226.28 668.17,234.85 668.80,240.00 C669.43,245.15 670.13,247.62 670.80,251.40 C671.47,255.18 672.17,258.93 672.80,262.70 C673.43,266.47 674.02,270.78 674.60,274.00 C675.18,277.22 676.02,280.67 676.30,282.00" fill="none" stroke="#f4046c" stroke-width="1.8" stroke-linejoin="round" stroke-linecap="round" clip-path="url(#cA)"/>
<rect x="46.3" y="1.4" width="632.6" height="301.5" fill="none" stroke="#000" stroke-width="1.25"/>
<line x1="48.80" y1="302.90" x2="48.80" y2="296.60" stroke="#000" stroke-width="1.25" />
<line x1="48.80" y1="1.40" x2="48.80" y2="7.70" stroke="#000" stroke-width="1.25" />
<line x1="80.20" y1="302.90" x2="80.20" y2="299.60" stroke="#000" stroke-width="1.25" />
<line x1="80.20" y1="1.40" x2="80.20" y2="4.70" stroke="#000" stroke-width="1.25" />
<line x1="111.60" y1="302.90" x2="111.60" y2="296.60" stroke="#000" stroke-width="1.25" />
<line x1="111.60" y1="1.40" x2="111.60" y2="7.70" stroke="#000" stroke-width="1.25" />
<line x1="143.00" y1="302.90" x2="143.00" y2="299.60" stroke="#000" stroke-width="1.25" />
<line x1="143.00" y1="1.40" x2="143.00" y2="4.70" stroke="#000" stroke-width="1.25" />
<line x1="174.40" y1="302.90" x2="174.40" y2="296.60" stroke="#000" stroke-width="1.25" />
<line x1="174.40" y1="1.40" x2="174.40" y2="7.70" stroke="#000" stroke-width="1.25" />
<line x1="205.80" y1="302.90" x2="205.80" y2="299.60" stroke="#000" stroke-width="1.25" />
<line x1="205.80" y1="1.40" x2="205.80" y2="4.70" stroke="#000" stroke-width="1.25" />
<line x1="237.20" y1="302.90" x2="237.20" y2="296.60" stroke="#000" stroke-width="1.25" />
<line x1="237.20" y1="1.40" x2="237.20" y2="7.70" stroke="#000" stroke-width="1.25" />
<line x1="268.60" y1="302.90" x2="268.60" y2="299.60" stroke="#000" stroke-width="1.25" />
<line x1="268.60" y1="1.40" x2="268.60" y2="4.70" stroke="#000" stroke-width="1.25" />
<line x1="300.00" y1="302.90" x2="300.00" y2="296.60" stroke="#000" stroke-width="1.25" />
<line x1="300.00" y1="1.40" x2="300.00" y2="7.70" stroke="#000" stroke-width="1.25" />
<line x1="331.40" y1="302.90" x2="331.40" y2="299.60" stroke="#000" stroke-width="1.25" />
<line x1="331.40" y1="1.40" x2="331.40" y2="4.70" stroke="#000" stroke-width="1.25" />
<line x1="362.80" y1="302.90" x2="362.80" y2="296.60" stroke="#000" stroke-width="1.25" />
<line x1="362.80" y1="1.40" x2="362.80" y2="7.70" stroke="#000" stroke-width="1.25" />
<line x1="394.20" y1="302.90" x2="394.20" y2="299.60" stroke="#000" stroke-width="1.25" />
<line x1="394.20" y1="1.40" x2="394.20" y2="4.70" stroke="#000" stroke-width="1.25" />
<line x1="425.60" y1="302.90" x2="425.60" y2="296.60" stroke="#000" stroke-width="1.25" />
<line x1="425.60" y1="1.40" x2="425.60" y2="7.70" stroke="#000" stroke-width="1.25" />
<line x1="457.00" y1="302.90" x2="457.00" y2="299.60" stroke="#000" stroke-width="1.25" />
<line x1="457.00" y1="1.40" x2="457.00" y2="4.70" stroke="#000" stroke-width="1.25" />
<line x1="488.40" y1="302.90" x2="488.40" y2="296.60" stroke="#000" stroke-width="1.25" />
<line x1="488.40" y1="1.40" x2="488.40" y2="7.70" stroke="#000" stroke-width="1.25" />
<line x1="519.80" y1="302.90" x2="519.80" y2="299.60" stroke="#000" stroke-width="1.25" />
<line x1="519.80" y1="1.40" x2="519.80" y2="4.70" stroke="#000" stroke-width="1.25" />
<line x1="551.20" y1="302.90" x2="551.20" y2="296.60" stroke="#000" stroke-width="1.25" />
<line x1="551.20" y1="1.40" x2="551.20" y2="7.70" stroke="#000" stroke-width="1.25" />
<line x1="582.60" y1="302.90" x2="582.60" y2="299.60" stroke="#000" stroke-width="1.25" />
<line x1="582.60" y1="1.40" x2="582.60" y2="4.70" stroke="#000" stroke-width="1.25" />
<line x1="614.00" y1="302.90" x2="614.00" y2="296.60" stroke="#000" stroke-width="1.25" />
<line x1="614.00" y1="1.40" x2="614.00" y2="7.70" stroke="#000" stroke-width="1.25" />
<line x1="645.40" y1="302.90" x2="645.40" y2="299.60" stroke="#000" stroke-width="1.25" />
<line x1="645.40" y1="1.40" x2="645.40" y2="4.70" stroke="#000" stroke-width="1.25" />
<line x1="676.80" y1="302.90" x2="676.80" y2="296.60" stroke="#000" stroke-width="1.25" />
<line x1="676.80" y1="1.40" x2="676.80" y2="7.70" stroke="#000" stroke-width="1.25" />
<line x1="46.30" y1="292.30" x2="52.30" y2="292.30" stroke="#000" stroke-width="1.25" />
<line x1="678.90" y1="292.30" x2="672.90" y2="292.30" stroke="#000" stroke-width="1.25" />
<line x1="46.30" y1="252.30" x2="52.30" y2="252.30" stroke="#000" stroke-width="1.25" />
<line x1="678.90" y1="252.30" x2="672.90" y2="252.30" stroke="#000" stroke-width="1.25" />
<line x1="46.30" y1="212.30" x2="52.30" y2="212.30" stroke="#000" stroke-width="1.25" />
<line x1="678.90" y1="212.30" x2="672.90" y2="212.30" stroke="#000" stroke-width="1.25" />
<line x1="46.30" y1="172.30" x2="52.30" y2="172.30" stroke="#000" stroke-width="1.25" />
<line x1="678.90" y1="172.30" x2="672.90" y2="172.30" stroke="#000" stroke-width="1.25" />
<line x1="46.30" y1="132.30" x2="52.30" y2="132.30" stroke="#000" stroke-width="1.25" />
<line x1="678.90" y1="132.30" x2="672.90" y2="132.30" stroke="#000" stroke-width="1.25" />
<line x1="46.30" y1="92.30" x2="52.30" y2="92.30" stroke="#000" stroke-width="1.25" />
<line x1="678.90" y1="92.30" x2="672.90" y2="92.30" stroke="#000" stroke-width="1.25" />
<line x1="46.30" y1="52.30" x2="52.30" y2="52.30" stroke="#000" stroke-width="1.25" />
<line x1="678.90" y1="52.30" x2="672.90" y2="52.30" stroke="#000" stroke-width="1.25" />
<line x1="46.30" y1="12.30" x2="52.30" y2="12.30" stroke="#000" stroke-width="1.25" />
<line x1="678.90" y1="12.30" x2="672.90" y2="12.30" stroke="#000" stroke-width="1.25" />
<text transform="translate(49.60,316.60) scale(1,1.1)" font-size="9.3" text-anchor="middle" font-weight="normal" fill="#000" >700</text>
<text transform="translate(112.40,316.60) scale(1,1.1)" font-size="9.3" text-anchor="middle" font-weight="normal" fill="#000" >800</text>
<text transform="translate(175.20,316.60) scale(1,1.1)" font-size="9.3" text-anchor="middle" font-weight="normal" fill="#000" >900</text>
<text transform="translate(238.00,316.60) scale(1,1.1)" font-size="9.3" text-anchor="middle" font-weight="normal" fill="#000" >1000</text>
<text transform="translate(300.80,316.60) scale(1,1.1)" font-size="9.3" text-anchor="middle" font-weight="normal" fill="#000" >1100</text>
<text transform="translate(363.60,316.60) scale(1,1.1)" font-size="9.3" text-anchor="middle" font-weight="normal" fill="#000" >1200</text>
<text transform="translate(426.40,316.60) scale(1,1.1)" font-size="9.3" text-anchor="middle" font-weight="normal" fill="#000" >1300</text>
<text transform="translate(489.20,316.60) scale(1,1.1)" font-size="9.3" text-anchor="middle" font-weight="normal" fill="#000" >1400</text>
<text transform="translate(552.00,316.60) scale(1,1.1)" font-size="9.3" text-anchor="middle" font-weight="normal" fill="#000" >1500</text>
<text transform="translate(614.80,316.60) scale(1,1.1)" font-size="9.3" text-anchor="middle" font-weight="normal" fill="#000" >1600</text>
<text transform="translate(669.80,316.60) scale(1,1.1)" font-size="9.3" text-anchor="middle" font-weight="normal" fill="#000" >1700</text>
<text transform="translate(40.80,295.60) scale(1,1.1)" font-size="9.3" text-anchor="end" font-weight="normal" fill="#000" >0</text>
<text transform="translate(40.80,215.60) scale(1,1.1)" font-size="9.3" text-anchor="end" font-weight="normal" fill="#000" >200</text>
<text transform="translate(40.80,135.60) scale(1,1.1)" font-size="9.3" text-anchor="end" font-weight="normal" fill="#000" >400</text>
<text transform="translate(40.80,55.60) scale(1,1.1)" font-size="9.3" text-anchor="end" font-weight="normal" fill="#000" >600</text>
<text x="378.40" y="331.50" font-size="11.3" text-anchor="middle" font-weight="bold" fill="#000" >Raman shift (cm<tspan font-size="7" dy="-4">-1</tspan><tspan dy="4">)</tspan></text>
<text x="0.00" y="0.00" font-size="11.4" text-anchor="middle" font-weight="bold" fill="#000" transform="translate(11.3,155.8) rotate(-90)">Raman intensity (cts/s)</text>
<text x="1.00" y="13.70" font-size="15.2" text-anchor="start" font-weight="bold" fill="#000" >A</text>
<text transform="translate(61.50,205.60) scale(1,1.1)" font-size="9.5" text-anchor="middle" font-weight="normal" fill="#000" >712</text>
<text transform="translate(61.50,218.60) scale(1,1.1)" font-size="9.5" text-anchor="middle" font-weight="normal" fill="#000" >A</text>
<text transform="translate(84.10,177.40) scale(1,1.1)" font-size="9.5" text-anchor="middle" font-weight="normal" fill="#000" >742</text>
<text transform="translate(84.10,190.40) scale(1,1.1)" font-size="9.5" text-anchor="middle" font-weight="normal" fill="#000" >CytC</text>
<text transform="translate(107.20,202.40) scale(1,1.1)" font-size="9.5" text-anchor="middle" font-weight="normal" fill="#000" >778</text>
<text transform="translate(107.20,215.40) scale(1,1.1)" font-size="9.5" text-anchor="middle" font-weight="normal" fill="#000" >C,T</text>
<text transform="translate(162.00,189.30) scale(1,1.1)" font-size="9.5" text-anchor="middle" font-weight="normal" fill="#000" >~800</text>
<text transform="translate(162.00,202.30) scale(1,1.1)" font-size="9.5" text-anchor="middle" font-weight="normal" fill="#000" >Phosphoric</text>
<text transform="translate(162.00,215.30) scale(1,1.1)" font-size="9.5" text-anchor="middle" font-weight="normal" fill="#000" >acid</text>
<text transform="translate(145.00,239.80) scale(1,1.1)" font-size="9.5" text-anchor="middle" font-weight="normal" fill="#000" >845</text>
<text transform="translate(145.00,252.80) scale(1,1.1)" font-size="9.5" text-anchor="middle" font-weight="normal" fill="#000" >C,T</text>
<text transform="translate(188.00,239.80) scale(1,1.1)" font-size="9.5" text-anchor="middle" font-weight="normal" fill="#000" >934</text>
<text transform="translate(188.00,252.80) scale(1,1.1)" font-size="9.5" text-anchor="middle" font-weight="normal" fill="#000" >C-C</text>
<text transform="translate(236.50,167.50) scale(1,1.1)" font-size="9.5" text-anchor="middle" font-weight="normal" fill="#000" >997</text>
<text transform="translate(236.50,180.50) scale(1,1.1)" font-size="9.5" text-anchor="middle" font-weight="normal" fill="#000" >Phe</text>
<text transform="translate(318.60,135.50) scale(1,1.1)" font-size="9.5" text-anchor="middle" font-weight="normal" fill="#000" >1122</text>
<text transform="translate(318.60,148.50) scale(1,1.1)" font-size="9.5" text-anchor="middle" font-weight="normal" fill="#000" >C-C,C-N</text>
<text transform="translate(318.60,161.50) scale(1,1.1)" font-size="9.5" text-anchor="middle" font-weight="normal" fill="#000" >CytC</text>
<text transform="translate(344.20,237.60) scale(1,1.1)" font-size="9.5" text-anchor="middle" font-weight="normal" fill="#000" >1066</text>
<text transform="translate(344.20,250.60) scale(1,1.1)" font-size="9.5" text-anchor="middle" font-weight="normal" fill="#000" >Tyr,Phe</text>
<text transform="translate(385.50,195.30) scale(1,1.1)" font-size="9.5" text-anchor="middle" font-weight="normal" fill="#000" >~1250</text>
<text transform="translate(385.50,208.30) scale(1,1.1)" font-size="9.5" text-anchor="middle" font-weight="normal" fill="#000" >Amide III</text>
<text transform="translate(428.10,155.30) scale(1,1.1)" font-size="9.5" text-anchor="middle" font-weight="normal" fill="#000" >1307</text>
<text transform="translate(428.10,168.30) scale(1,1.1)" font-size="9.5" text-anchor="middle" font-weight="normal" fill="#000" >CytC</text>
<text transform="translate(457.90,174.80) scale(1,1.1)" font-size="9.5" text-anchor="middle" font-weight="normal" fill="#000" >1333</text>
<text transform="translate(457.90,187.80) scale(1,1.1)" font-size="9.5" text-anchor="middle" font-weight="normal" fill="#000" >CH def.</text>
<text transform="translate(496.60,135.80) scale(1,1.1)" font-size="9.5" text-anchor="middle" font-weight="normal" fill="#000" >1417</text>
<text transform="translate(496.60,148.80) scale(1,1.1)" font-size="9.5" text-anchor="middle" font-weight="normal" fill="#000" >A,G</text>
<text transform="translate(600.80,136.40) scale(1,1.1)" font-size="9.5" text-anchor="middle" font-weight="normal" fill="#000" >1579</text>
<text transform="translate(600.80,149.40) scale(1,1.1)" font-size="9.5" text-anchor="middle" font-weight="normal" fill="#000" >CytC</text>
<text transform="translate(622.50,89.30) scale(1,1.1)" font-size="9.5" text-anchor="middle" font-weight="normal" fill="#000" >1607</text>
<text transform="translate(622.50,102.30) scale(1,1.1)" font-size="9.5" text-anchor="middle" font-weight="normal" fill="#000" >Phe</text>
<text transform="translate(622.50,115.30) scale(1,1.1)" font-size="9.5" text-anchor="middle" font-weight="normal" fill="#000" >Tyr</text>
<text transform="translate(613.90,26.60) scale(1,1.1)" font-size="9.5" text-anchor="middle" font-weight="normal" fill="#000" >1656</text>
<text transform="translate(613.90,39.60) scale(1,1.1)" font-size="9.5" text-anchor="middle" font-weight="normal" fill="#000" >C=C,</text>
<text transform="translate(613.90,52.60) scale(1,1.1)" font-size="9.5" text-anchor="middle" font-weight="normal" fill="#000" >Amide I</text>
<text transform="translate(274.10,167.50) scale(1,1.1)" font-size="9.5" text-anchor="middle" font-weight="normal" fill="#000" >1086</text>
<text transform="translate(273.90,180.50) scale(1,1.1)" font-size="9.5" text-anchor="middle" font-weight="normal" fill="#000" >PO<tspan font-size="5.8" dy="2.6">2</tspan></text>
<text transform="translate(530.10,71.40) scale(1,1.1)" font-size="9.5" text-anchor="middle" font-weight="normal" fill="#000" >1445</text>
<text transform="translate(530.10,84.40) scale(1,1.1)" font-size="9.5" text-anchor="middle" font-weight="normal" fill="#000" >CH<tspan font-size="5.8" dy="2.6">2</tspan><tspan dy="-2.6"> def.</tspan></text>
<line x1="639.70" y1="51.90" x2="645.30" y2="68.50" stroke="#000" stroke-width="1.0" stroke-dasharray="1.6,1.2"/>
<rect x="458.8" y="231.6" width="61.6" height="68.7" fill="none" stroke="#747474" stroke-width="1.35" stroke-dasharray="3.5,3.1"/>
<line x1="481.00" y1="231.60" x2="481.00" y2="112.20" stroke="#747474" stroke-width="1.35" stroke-dasharray="3.5,3.1"/>
<line x1="481.00" y1="112.20" x2="250.00" y2="112.20" stroke="#747474" stroke-width="1.35" stroke-dasharray="3.5,3.1"/>
<path d="M241.1,112.2 L252.5,107.6 L249.6,112.2 L252.5,116.8 Z" fill="#747474"/>
<rect x="260" y="17.5" width="189.7" height="76.4" fill="#fff" stroke="#a0a0a0" stroke-width="1"/>
<line x1="267.00" y1="28.40" x2="288.10" y2="28.40" stroke="#000" stroke-width="1.8" />
<text transform="translate(295.20,33.10) scale(1,1.1)" font-size="11.3" text-anchor="start" font-weight="normal" fill="#000" >Fh1-WT</text>
<line x1="267.00" y1="45.60" x2="288.10" y2="45.60" stroke="#0606ee" stroke-width="1.8" />
<text transform="translate(295.20,49.90) scale(1,1.1)" font-size="11.3" text-anchor="start" font-weight="normal" fill="#000" >Fh1-KO cl.1</text>
<line x1="267.00" y1="62.90" x2="288.10" y2="62.90" stroke="#f4046c" stroke-width="1.8" />
<text transform="translate(295.20,67.50) scale(1,1.1)" font-size="11.3" text-anchor="start" font-weight="normal" fill="#000" >Fh1-KO cl.19</text>
<line x1="267.00" y1="81.40" x2="288.10" y2="81.40" stroke="#0ea8f6" stroke-width="1.8" />
<text transform="translate(295.20,88.60) scale(1,1.1)" font-size="11.3" text-anchor="start" font-weight="normal" fill="#000" >Fumarate (30 mM, aq.)</text>
<rect x="97.0" y="14.5" width="131.7" height="120.5" fill="#fff" stroke="none"/>
<path d="M97.00,116.00 C98.33,116.22 102.83,115.98 105.00,117.32 C107.17,118.66 108.33,122.64 110.00,124.04 C111.67,125.44 113.33,125.18 115.00,125.72 C116.67,126.26 118.33,126.94 120.00,127.28 C121.67,127.62 123.33,128.22 125.00,127.73 C126.67,127.24 128.33,125.62 130.00,124.36 C131.67,123.10 133.33,121.63 135.00,120.17 C136.67,118.70 137.83,117.58 140.00,115.57 C142.17,113.56 145.47,110.18 148.00,108.10 C150.53,106.02 152.80,104.88 155.20,103.10 C157.60,101.32 160.48,100.07 162.40,97.40 C164.32,94.73 165.27,89.81 166.70,87.06 C168.13,84.31 169.33,83.38 171.00,80.90 C172.67,78.42 174.78,75.68 176.70,72.20 C178.62,68.72 180.92,63.69 182.50,60.00 C184.08,56.31 184.77,56.50 186.20,50.06 C187.63,43.61 189.57,30.52 191.10,21.32 C192.63,12.13 194.35,0.71 195.40,-5.11 C196.45,-10.93 196.23,-10.81 197.40,-13.62 C198.57,-16.44 200.93,-22.07 202.40,-22.00 C203.87,-21.93 204.95,-15.18 206.20,-13.20 C207.45,-11.22 208.77,-10.68 209.90,-10.10 C211.03,-9.52 211.95,-9.60 213.00,-9.70 C214.05,-9.80 215.05,-10.22 216.20,-10.70 C217.35,-11.18 218.67,-11.87 219.90,-12.60 C221.13,-13.33 222.57,-13.53 223.60,-15.10 C224.63,-16.67 225.20,-19.85 226.10,-22.00 C227.00,-24.15 228.52,-27.00 229.00,-28.00 L229.00,50.00 C228.52,49.00 227.00,46.15 226.10,44.00 C225.20,41.85 224.63,38.67 223.60,37.10 C222.57,35.53 221.13,35.33 219.90,34.60 C218.67,33.87 217.35,33.18 216.20,32.70 C215.05,32.22 214.05,31.80 213.00,31.70 C211.95,31.60 211.03,31.52 209.90,32.10 C208.77,32.68 207.45,33.22 206.20,35.20 C204.95,37.18 203.87,40.67 202.40,44.00 C200.93,47.33 198.57,52.05 197.40,55.20 C196.23,58.35 196.45,60.18 195.40,62.90 C194.35,65.62 192.63,69.15 191.10,71.50 C189.57,73.85 187.63,75.32 186.20,77.00 C184.77,78.68 184.08,80.00 182.50,81.60 C180.92,83.20 178.62,85.05 176.70,86.60 C174.78,88.15 172.67,88.87 171.00,90.90 C169.33,92.93 168.13,96.28 166.70,98.80 C165.27,101.32 164.32,104.08 162.40,106.00 C160.48,107.92 157.60,108.98 155.20,110.30 C152.80,111.62 150.53,111.78 148.00,113.90 C145.47,116.02 142.17,120.98 140.00,123.00 C137.83,125.02 136.67,124.92 135.00,126.00 C133.33,127.08 131.67,128.42 130.00,129.50 C128.33,130.58 126.67,131.92 125.00,132.50 C123.33,133.08 121.67,133.25 120.00,133.00 C118.33,132.75 116.67,132.00 115.00,131.00 C113.33,130.00 111.67,128.50 110.00,127.00 C108.33,125.50 107.17,123.00 105.00,122.00 C102.83,121.00 98.33,121.17 97.00,121.00 Z" fill="#808080" fill-opacity="0.5" stroke="none" clip-path="url(#cI)"/>
<path d="M97.50,86.00 C98.08,87.38 100.00,92.08 101.00,94.30 C102.00,96.52 102.67,97.83 103.50,99.30 C104.33,100.77 105.17,101.33 106.00,103.10 C106.83,104.87 107.67,107.62 108.50,109.90 C109.33,112.18 110.17,115.23 111.00,116.80 C111.83,118.37 112.67,118.78 113.50,119.30 C114.33,119.82 115.17,119.90 116.00,119.90 C116.83,119.90 117.67,119.62 118.50,119.30 C119.33,118.98 120.18,118.63 121.00,118.00 C121.82,117.37 122.58,116.63 123.40,115.50 C124.22,114.37 125.07,112.97 125.90,111.20 C126.73,109.43 127.57,107.40 128.40,104.90 C129.23,102.40 130.07,99.10 130.90,96.20 C131.73,93.30 132.57,90.83 133.40,87.50 C134.23,84.17 135.22,79.72 135.90,76.20 C136.58,72.68 136.82,69.70 137.50,66.40 C138.18,63.10 139.17,59.93 140.00,56.40 C140.83,52.87 141.67,48.52 142.50,45.20 C143.33,41.88 144.17,39.42 145.00,36.50 C145.83,33.58 146.67,29.58 147.50,27.70 C148.33,25.82 149.17,25.92 150.00,25.20 C150.83,24.48 151.78,23.82 152.50,23.40 C153.22,22.98 153.68,22.60 154.30,22.70 C154.92,22.80 155.47,23.37 156.20,24.00 C156.93,24.63 157.87,25.78 158.70,26.50 C159.53,27.22 160.37,27.68 161.20,28.30 C162.03,28.92 162.98,30.30 163.70,30.20 C164.42,30.10 164.88,28.53 165.50,27.70 C166.12,26.87 166.67,26.03 167.40,25.20 C168.13,24.37 168.85,24.07 169.90,22.70 C170.95,21.33 172.43,19.68 173.70,17.00 C174.97,14.32 176.25,11.77 177.50,6.60 C178.75,1.43 179.95,-7.90 181.20,-14.00 C182.45,-20.10 184.37,-27.33 185.00,-30.00 L185.00,50.00 C184.37,52.00 182.45,59.27 181.20,62.00 C179.95,64.73 178.75,65.31 177.50,66.40 C176.25,67.49 174.97,68.14 173.70,68.55 C172.43,68.96 170.95,68.02 169.90,68.85 C168.85,69.68 168.13,72.15 167.40,73.55 C166.67,74.95 166.12,76.12 165.50,77.23 C164.88,78.34 164.42,79.39 163.70,80.20 C162.98,81.01 162.03,81.92 161.20,82.10 C160.37,82.28 159.53,81.65 158.70,81.30 C157.87,80.95 156.93,80.46 156.20,80.00 C155.47,79.54 154.92,78.85 154.30,78.56 C153.68,78.27 153.22,78.22 152.50,78.26 C151.78,78.30 150.83,78.09 150.00,78.80 C149.17,79.51 148.33,81.65 147.50,82.50 C146.67,83.35 145.83,83.05 145.00,83.90 C144.17,84.75 143.33,86.35 142.50,87.60 C141.67,88.85 140.83,87.29 140.00,91.40 C139.17,95.51 138.18,108.56 137.50,112.26 C136.82,115.96 136.58,112.76 135.90,113.60 C135.22,114.44 134.23,115.63 133.40,117.30 C132.57,118.97 131.73,121.30 130.90,123.60 C130.07,125.90 129.23,129.43 128.40,131.10 C127.57,132.77 126.73,133.07 125.90,133.60 C125.07,134.13 124.22,134.27 123.40,134.30 C122.58,134.33 121.82,134.03 121.00,133.80 C120.18,133.57 119.33,133.35 118.50,132.90 C117.67,132.45 116.83,131.93 116.00,131.10 C115.17,130.27 114.33,129.25 113.50,127.90 C112.67,126.55 111.83,124.73 111.00,123.00 C110.17,121.27 109.33,118.95 108.50,117.50 C107.67,116.05 106.83,115.03 106.00,114.30 C105.17,113.57 104.33,113.50 103.50,113.10 C102.67,112.70 102.00,112.25 101.00,111.90 C100.00,111.55 98.08,111.15 97.50,111.00 Z" fill="#ff5c9e" fill-opacity="0.43" stroke="none" clip-path="url(#cI)"/>
<path d="M97.50,96.56 C98.08,97.05 100.00,98.54 101.00,99.50 C102.00,100.46 102.67,101.35 103.50,102.31 C104.33,103.28 105.17,104.04 106.00,105.30 C106.83,106.56 107.67,108.35 108.50,109.85 C109.33,111.35 110.17,113.02 111.00,114.30 C111.83,115.58 112.67,116.80 113.50,117.55 C114.33,118.30 115.17,118.57 116.00,118.80 C116.83,119.03 117.67,118.95 118.50,118.95 C119.33,118.95 120.18,118.87 121.00,118.80 C121.82,118.74 122.47,118.75 123.40,118.56 C124.33,118.37 125.77,118.34 126.60,117.64 C127.43,116.94 127.68,116.19 128.40,114.36 C129.12,112.53 130.07,109.44 130.90,106.66 C131.73,103.88 132.57,100.61 133.40,97.66 C134.23,94.70 135.07,91.76 135.90,88.93 C136.73,86.10 137.57,83.21 138.40,80.68 C139.23,78.15 140.07,76.06 140.90,73.73 C141.73,71.40 142.57,68.88 143.40,66.68 C144.23,64.48 145.10,62.01 145.90,60.51 C146.70,59.01 147.25,58.38 148.20,57.68 C149.15,56.98 150.43,56.76 151.60,56.34 C152.77,55.92 154.00,55.39 155.20,55.14 C156.40,54.89 157.60,55.52 158.80,54.86 C160.00,54.20 161.37,52.61 162.40,51.18 C163.43,49.75 164.17,48.32 165.00,46.30 C165.83,44.28 166.58,41.35 167.40,39.06 C168.22,36.77 169.07,34.03 169.90,32.56 C170.73,31.09 171.57,31.11 172.40,30.26 C173.23,29.41 174.07,28.79 174.90,27.46 C175.73,26.13 176.57,24.20 177.40,22.30 C178.23,20.40 179.07,17.97 179.90,16.05 C180.73,14.13 181.57,12.80 182.40,10.80 C183.23,8.80 184.17,6.30 184.90,4.05 C185.63,1.80 186.28,-0.51 186.80,-2.72 C187.32,-4.93 187.58,-7.02 188.00,-9.20 C188.42,-11.38 188.88,-13.65 189.30,-15.82 C189.72,-17.99 190.30,-21.14 190.50,-22.20 L190.50,42.20 C190.30,43.10 189.72,45.79 189.30,47.62 C188.88,49.45 188.42,51.35 188.00,53.20 C187.58,55.05 187.32,56.93 186.80,58.72 C186.28,60.51 185.63,62.37 184.90,63.95 C184.17,65.53 183.23,67.03 182.40,68.20 C181.57,69.37 180.73,69.87 179.90,70.95 C179.07,72.03 178.23,73.64 177.40,74.70 C176.57,75.77 175.73,76.93 174.90,77.34 C174.07,77.75 173.23,77.29 172.40,77.14 C171.57,76.99 170.73,75.97 169.90,76.44 C169.07,76.91 168.22,78.63 167.40,79.94 C166.58,81.25 165.83,83.02 165.00,84.30 C164.17,85.58 163.43,86.81 162.40,87.62 C161.37,88.43 160.00,89.20 158.80,89.14 C157.60,89.08 156.40,87.51 155.20,87.26 C154.00,87.01 152.77,87.48 151.60,87.66 C150.43,87.84 149.15,87.81 148.20,88.32 C147.25,88.82 146.70,89.46 145.90,90.69 C145.10,91.92 144.23,93.96 143.40,95.72 C142.57,97.48 141.73,99.44 140.90,101.27 C140.07,103.10 139.23,104.69 138.40,106.72 C137.57,108.75 136.73,111.30 135.90,113.47 C135.07,115.64 134.23,117.70 133.40,119.74 C132.57,121.79 131.73,123.96 130.90,125.74 C130.07,127.52 129.12,129.47 128.40,130.44 C127.68,131.41 127.43,131.59 126.60,131.56 C125.77,131.53 124.33,130.50 123.40,130.24 C122.47,129.98 121.82,130.10 121.00,130.00 C120.18,129.90 119.33,129.82 118.50,129.65 C117.67,129.48 116.83,129.20 116.00,129.00 C115.17,128.80 114.33,128.83 113.50,128.45 C112.67,128.07 111.83,127.48 111.00,126.70 C110.17,125.92 109.33,124.75 108.50,123.75 C107.67,122.75 106.83,121.54 106.00,120.70 C105.17,119.86 104.33,119.39 103.50,118.69 C102.67,117.99 102.00,117.21 101.00,116.50 C100.00,115.79 98.08,114.78 97.50,114.44 Z" fill="#6464e6" fill-opacity="0.37" stroke="none" clip-path="url(#cI)"/>
<path d="M97.50,117.40 C98.08,117.40 100.00,117.40 101.00,117.40 C102.00,117.40 102.67,117.37 103.50,117.40 C104.33,117.43 105.17,117.53 106.00,117.60 C106.83,117.67 107.67,117.73 108.50,117.80 C109.33,117.87 110.17,117.87 111.00,118.00 C111.83,118.13 112.67,118.38 113.50,118.60 C114.33,118.82 115.28,119.18 116.00,119.30 C116.72,119.42 117.18,119.62 117.80,119.30 C118.42,118.98 118.97,118.03 119.70,117.40 C120.43,116.77 121.37,116.23 122.20,115.50 C123.03,114.77 123.87,113.93 124.70,113.00 C125.53,112.07 126.37,111.25 127.20,109.90 C128.03,108.55 128.87,106.98 129.70,104.90 C130.53,102.82 131.37,99.88 132.20,97.40 C133.03,94.92 133.87,92.48 134.70,90.00 C135.53,87.52 136.32,85.40 137.20,82.50 C138.08,79.60 139.12,75.52 140.00,72.60 C140.88,69.68 141.67,67.28 142.50,65.00 C143.33,62.72 144.17,60.75 145.00,58.90 C145.83,57.05 146.88,54.83 147.50,53.90 C148.12,52.97 148.08,53.33 148.70,53.30 C149.32,53.27 150.37,53.50 151.20,53.70 C152.03,53.90 152.83,53.48 153.70,54.50 C154.57,55.52 155.50,57.98 156.40,59.80 C157.30,61.62 158.17,63.45 159.10,65.40 C160.03,67.35 161.10,69.28 162.00,71.50 C162.90,73.72 163.72,76.07 164.50,78.70 C165.28,81.33 165.98,84.67 166.70,87.30 C167.42,89.93 167.97,92.35 168.80,94.50 C169.63,96.65 170.73,98.28 171.70,100.20 C172.67,102.12 173.63,104.08 174.60,106.00 C175.57,107.92 176.43,109.90 177.50,111.70 C178.57,113.50 179.68,115.37 181.00,116.80 C182.32,118.23 183.95,119.58 185.40,120.30 C186.85,121.02 188.27,121.28 189.70,121.10 C191.13,120.92 192.62,119.75 194.00,119.20 C195.38,118.65 196.58,118.25 198.00,117.80 C199.42,117.35 200.98,116.85 202.50,116.50 C204.02,116.15 205.10,115.23 207.10,115.70 C209.10,116.17 212.03,118.00 214.50,119.30 C216.97,120.60 219.85,122.97 221.90,123.50 C223.95,124.03 225.62,122.83 226.80,122.50 C227.98,122.17 228.63,121.67 229.00,121.50" fill="none" stroke="#0ea8f6" stroke-width="1.8" stroke-linejoin="round" stroke-linecap="round" clip-path="url(#cI)"/>
<path d="M97.50,118.50 C98.08,118.57 100.00,118.77 101.00,118.90 C102.00,119.03 102.67,119.13 103.50,119.30 C104.33,119.47 105.17,119.18 106.00,119.90 C106.83,120.62 107.67,122.45 108.50,123.60 C109.33,124.75 110.17,126.07 111.00,126.80 C111.83,127.53 112.67,127.70 113.50,128.00 C114.33,128.30 115.17,128.33 116.00,128.60 C116.83,128.87 117.67,129.28 118.50,129.60 C119.33,129.92 120.18,130.35 121.00,130.50 C121.82,130.65 122.58,130.60 123.40,130.50 C124.22,130.40 125.07,130.25 125.90,129.90 C126.73,129.55 127.57,129.03 128.40,128.40 C129.23,127.77 130.07,126.78 130.90,126.10 C131.73,125.42 132.57,124.92 133.40,124.30 C134.23,123.68 135.07,123.03 135.90,122.40 C136.73,121.77 137.57,121.13 138.40,120.50 C139.23,119.87 140.07,119.32 140.90,118.60 C141.73,117.88 142.57,117.13 143.40,116.20 C144.23,115.27 145.13,113.87 145.90,113.00 C146.67,112.13 147.05,111.73 148.00,111.00 C148.95,110.27 150.40,109.32 151.60,108.60 C152.80,107.88 154.00,107.25 155.20,106.70 C156.40,106.15 157.60,106.13 158.80,105.30 C160.00,104.47 161.33,103.15 162.40,101.70 C163.47,100.25 164.25,98.63 165.20,96.60 C166.15,94.57 167.13,91.28 168.10,89.50 C169.07,87.72 170.03,86.98 171.00,85.90 C171.97,84.82 172.95,84.08 173.90,83.00 C174.85,81.92 175.75,80.72 176.70,79.40 C177.65,78.08 178.63,76.53 179.60,75.10 C180.57,73.67 181.53,72.37 182.50,70.80 C183.47,69.23 184.57,67.50 185.40,65.70 C186.23,63.90 186.82,62.12 187.50,60.00 C188.18,57.88 188.88,55.33 189.50,53.00 C190.12,50.67 190.60,48.50 191.20,46.00 C191.80,43.50 192.48,40.50 193.10,38.00 C193.72,35.50 194.28,33.50 194.90,31.00 C195.52,28.50 196.17,25.50 196.80,23.00 C197.43,20.50 198.17,18.00 198.70,16.00 C199.23,14.00 199.78,11.83 200.00,11.00" fill="none" stroke="#000" stroke-width="1.8" stroke-linejoin="round" stroke-linecap="round" clip-path="url(#cI)"/>
<path d="M97.50,105.50 C98.08,105.92 100.00,107.17 101.00,108.00 C102.00,108.83 102.67,109.67 103.50,110.50 C104.33,111.33 105.17,111.95 106.00,113.00 C106.83,114.05 107.67,115.55 108.50,116.80 C109.33,118.05 110.17,119.47 111.00,120.50 C111.83,121.53 112.67,122.43 113.50,123.00 C114.33,123.57 115.17,123.68 116.00,123.90 C116.83,124.12 117.67,124.22 118.50,124.30 C119.33,124.38 120.18,124.38 121.00,124.40 C121.82,124.42 122.47,124.37 123.40,124.40 C124.33,124.43 125.77,124.93 126.60,124.60 C127.43,124.27 127.68,123.80 128.40,122.40 C129.12,121.00 130.07,118.48 130.90,116.20 C131.73,113.92 132.57,111.20 133.40,108.70 C134.23,106.20 135.07,103.70 135.90,101.20 C136.73,98.70 137.57,95.98 138.40,93.70 C139.23,91.42 140.07,89.58 140.90,87.50 C141.73,85.42 142.57,83.18 143.40,81.20 C144.23,79.22 145.10,76.97 145.90,75.60 C146.70,74.23 147.25,73.60 148.20,73.00 C149.15,72.40 150.43,72.30 151.60,72.00 C152.77,71.70 154.00,71.20 155.20,71.20 C156.40,71.20 157.60,72.30 158.80,72.00 C160.00,71.70 161.37,70.52 162.40,69.40 C163.43,68.28 164.17,66.95 165.00,65.30 C165.83,63.65 166.58,61.30 167.40,59.50 C168.22,57.70 169.07,55.47 169.90,54.50 C170.73,53.53 171.57,54.05 172.40,53.70 C173.23,53.35 174.07,53.27 174.90,52.40 C175.73,51.53 176.57,49.98 177.40,48.50 C178.23,47.02 179.07,45.00 179.90,43.50 C180.73,42.00 181.57,41.08 182.40,39.50 C183.23,37.92 184.17,35.92 184.90,34.00 C185.63,32.08 186.28,30.00 186.80,28.00 C187.32,26.00 187.58,24.02 188.00,22.00 C188.42,19.98 188.88,17.90 189.30,15.90 C189.72,13.90 190.30,10.98 190.50,10.00" fill="none" stroke="#0606ee" stroke-width="1.8" stroke-linejoin="round" stroke-linecap="round" clip-path="url(#cI)"/>
<path d="M97.50,98.50 C98.08,99.27 100.00,101.82 101.00,103.10 C102.00,104.38 102.67,105.27 103.50,106.20 C104.33,107.13 105.17,107.45 106.00,108.70 C106.83,109.95 107.67,111.83 108.50,113.70 C109.33,115.57 110.17,118.25 111.00,119.90 C111.83,121.55 112.67,122.67 113.50,123.60 C114.33,124.53 115.17,125.08 116.00,125.50 C116.83,125.92 117.67,126.03 118.50,126.10 C119.33,126.17 120.18,126.10 121.00,125.90 C121.82,125.70 122.58,125.48 123.40,124.90 C124.22,124.32 125.07,123.55 125.90,122.40 C126.73,121.25 127.57,120.08 128.40,118.00 C129.23,115.92 130.07,112.50 130.90,109.90 C131.73,107.30 132.57,104.90 133.40,102.40 C134.23,99.90 135.07,97.60 135.90,94.90 C136.73,92.20 137.72,89.70 138.40,86.20 C139.08,82.70 139.32,77.20 140.00,73.90 C140.68,70.60 141.67,68.68 142.50,66.40 C143.33,64.12 144.17,62.08 145.00,60.20 C145.83,58.32 146.67,56.47 147.50,55.10 C148.33,53.73 149.28,52.65 150.00,52.00 C150.72,51.35 151.18,51.50 151.80,51.20 C152.42,50.90 152.97,50.07 153.70,50.20 C154.43,50.33 155.37,51.38 156.20,52.00 C157.03,52.62 157.87,53.37 158.70,53.90 C159.53,54.43 160.37,54.98 161.20,55.20 C162.03,55.42 162.87,55.83 163.70,55.20 C164.53,54.57 165.25,52.93 166.20,51.40 C167.15,49.87 168.35,47.13 169.40,46.00 C170.45,44.87 171.57,45.47 172.50,44.60 C173.43,43.73 174.17,42.15 175.00,40.80 C175.83,39.45 176.77,38.17 177.50,36.50 C178.23,34.83 178.78,32.88 179.40,30.80 C180.02,28.72 180.58,26.38 181.20,24.00 C181.82,21.62 182.55,18.83 183.10,16.50 C183.65,14.17 184.27,11.08 184.50,10.00" fill="none" stroke="#f4046c" stroke-width="1.8" stroke-linejoin="round" stroke-linecap="round" clip-path="url(#cI)"/>
<rect x="97.0" y="14.5" width="131.7" height="120.5" fill="none" stroke="#000" stroke-width="1.3"/>
<line x1="99.10" y1="135.00" x2="99.10" y2="132.80" stroke="#000" stroke-width="1.2" />
<line x1="99.10" y1="14.50" x2="99.10" y2="16.70" stroke="#000" stroke-width="1.2" />
<line x1="105.80" y1="135.00" x2="105.80" y2="132.80" stroke="#000" stroke-width="1.2" />
<line x1="105.80" y1="14.50" x2="105.80" y2="16.70" stroke="#000" stroke-width="1.2" />
<line x1="112.50" y1="135.00" x2="112.50" y2="132.80" stroke="#000" stroke-width="1.2" />
<line x1="112.50" y1="14.50" x2="112.50" y2="16.70" stroke="#000" stroke-width="1.2" />
<line x1="119.20" y1="135.00" x2="119.20" y2="132.80" stroke="#000" stroke-width="1.2" />
<line x1="119.20" y1="14.50" x2="119.20" y2="16.70" stroke="#000" stroke-width="1.2" />
<line x1="125.90" y1="135.00" x2="125.90" y2="132.80" stroke="#000" stroke-width="1.2" />
<line x1="125.90" y1="14.50" x2="125.90" y2="16.70" stroke="#000" stroke-width="1.2" />
<line x1="132.60" y1="135.00" x2="132.60" y2="132.80" stroke="#000" stroke-width="1.2" />
<line x1="132.60" y1="14.50" x2="132.60" y2="16.70" stroke="#000" stroke-width="1.2" />
<line x1="139.30" y1="135.00" x2="139.30" y2="132.80" stroke="#000" stroke-width="1.2" />
<line x1="139.30" y1="14.50" x2="139.30" y2="16.70" stroke="#000" stroke-width="1.2" />
<line x1="146.00" y1="135.00" x2="146.00" y2="132.80" stroke="#000" stroke-width="1.2" />
<line x1="146.00" y1="14.50" x2="146.00" y2="16.70" stroke="#000" stroke-width="1.2" />
<line x1="152.70" y1="135.00" x2="152.70" y2="131.50" stroke="#000" stroke-width="1.2" />
<line x1="152.70" y1="14.50" x2="152.70" y2="18.00" stroke="#000" stroke-width="1.2" />
<line x1="159.40" y1="135.00" x2="159.40" y2="132.80" stroke="#000" stroke-width="1.2" />
<line x1="159.40" y1="14.50" x2="159.40" y2="16.70" stroke="#000" stroke-width="1.2" />
<line x1="166.10" y1="135.00" x2="166.10" y2="132.80" stroke="#000" stroke-width="1.2" />
<line x1="166.10" y1="14.50" x2="166.10" y2="16.70" stroke="#000" stroke-width="1.2" />
<line x1="172.80" y1="135.00" x2="172.80" y2="132.80" stroke="#000" stroke-width="1.2" />
<line x1="172.80" y1="14.50" x2="172.80" y2="16.70" stroke="#000" stroke-width="1.2" />
<line x1="179.50" y1="135.00" x2="179.50" y2="132.80" stroke="#000" stroke-width="1.2" />
<line x1="179.50" y1="14.50" x2="179.50" y2="16.70" stroke="#000" stroke-width="1.2" />
<line x1="186.20" y1="135.00" x2="186.20" y2="132.80" stroke="#000" stroke-width="1.2" />
<line x1="186.20" y1="14.50" x2="186.20" y2="16.70" stroke="#000" stroke-width="1.2" />
<line x1="192.90" y1="135.00" x2="192.90" y2="132.80" stroke="#000" stroke-width="1.2" />
<line x1="192.90" y1="14.50" x2="192.90" y2="16.70" stroke="#000" stroke-width="1.2" />
<line x1="199.60" y1="135.00" x2="199.60" y2="132.80" stroke="#000" stroke-width="1.2" />
<line x1="199.60" y1="14.50" x2="199.60" y2="16.70" stroke="#000" stroke-width="1.2" />
<line x1="206.30" y1="135.00" x2="206.30" y2="132.80" stroke="#000" stroke-width="1.2" />
<line x1="206.30" y1="14.50" x2="206.30" y2="16.70" stroke="#000" stroke-width="1.2" />
<line x1="213.00" y1="135.00" x2="213.00" y2="132.80" stroke="#000" stroke-width="1.2" />
<line x1="213.00" y1="14.50" x2="213.00" y2="16.70" stroke="#000" stroke-width="1.2" />
<line x1="219.70" y1="135.00" x2="219.70" y2="131.50" stroke="#000" stroke-width="1.2" />
<line x1="219.70" y1="14.50" x2="219.70" y2="18.00" stroke="#000" stroke-width="1.2" />
<line x1="226.40" y1="135.00" x2="226.40" y2="132.80" stroke="#000" stroke-width="1.2" />
<line x1="226.40" y1="14.50" x2="226.40" y2="16.70" stroke="#000" stroke-width="1.2" />
<line x1="97.00" y1="121.80" x2="101.40" y2="121.80" stroke="#000" stroke-width="1.2" />
<line x1="228.70" y1="121.80" x2="224.30" y2="121.80" stroke="#000" stroke-width="1.2" />
<line x1="97.00" y1="107.50" x2="99.70" y2="107.50" stroke="#000" stroke-width="1.2" />
<line x1="228.70" y1="107.50" x2="226.00" y2="107.50" stroke="#000" stroke-width="1.2" />
<line x1="97.00" y1="93.20" x2="101.40" y2="93.20" stroke="#000" stroke-width="1.2" />
<line x1="228.70" y1="93.20" x2="224.30" y2="93.20" stroke="#000" stroke-width="1.2" />
<line x1="97.00" y1="78.90" x2="99.70" y2="78.90" stroke="#000" stroke-width="1.2" />
<line x1="228.70" y1="78.90" x2="226.00" y2="78.90" stroke="#000" stroke-width="1.2" />
<line x1="97.00" y1="64.60" x2="101.40" y2="64.60" stroke="#000" stroke-width="1.2" />
<line x1="228.70" y1="64.60" x2="224.30" y2="64.60" stroke="#000" stroke-width="1.2" />
<line x1="97.00" y1="50.30" x2="99.70" y2="50.30" stroke="#000" stroke-width="1.2" />
<line x1="228.70" y1="50.30" x2="226.00" y2="50.30" stroke="#000" stroke-width="1.2" />
<line x1="97.00" y1="36.00" x2="101.40" y2="36.00" stroke="#000" stroke-width="1.2" />
<line x1="228.70" y1="36.00" x2="224.30" y2="36.00" stroke="#000" stroke-width="1.2" />
<line x1="97.00" y1="21.70" x2="99.70" y2="21.70" stroke="#000" stroke-width="1.2" />
<line x1="228.70" y1="21.70" x2="226.00" y2="21.70" stroke="#000" stroke-width="1.2" />
<text transform="translate(91.90,127.20) scale(1,1.1)" font-size="9.5" text-anchor="end" font-weight="normal" fill="#000" >0</text>
<text transform="translate(91.90,98.60) scale(1,1.1)" font-size="9.5" text-anchor="end" font-weight="normal" fill="#000" >40</text>
<text transform="translate(91.90,70.00) scale(1,1.1)" font-size="9.5" text-anchor="end" font-weight="normal" fill="#000" >80</text>
<text transform="translate(91.90,41.40) scale(1,1.1)" font-size="9.5" text-anchor="end" font-weight="normal" fill="#000" >120</text>
<text transform="translate(152.40,147.80) scale(1,1.1)" font-size="9.8" text-anchor="middle" font-weight="normal" fill="#000" >1400</text>
<text transform="translate(218.00,147.80) scale(1,1.1)" font-size="9.8" text-anchor="middle" font-weight="normal" fill="#000" >1450</text>
<text x="159.40" y="161.40" font-size="11.3" text-anchor="middle" font-weight="bold" fill="#000" >Raman shift (cm<tspan font-size="7" dy="-4">-1</tspan><tspan dy="4">)</tspan></text>
<text x="0.00" y="0.00" font-size="11.4" text-anchor="middle" font-weight="bold" fill="#000" transform="translate(72.9,75.9) rotate(-90)">Raman int. (cts/s)</text>
<rect x="51.9" y="449.59999999999997" width="128.2" height="1.9" fill="#d0d0d0"/>
<path d="M52.20,448.50 C52.28,448.50 52.53,448.50 52.70,448.49 C52.87,448.49 53.03,448.49 53.20,448.49 C53.37,448.49 53.53,448.49 53.70,448.49 C53.87,448.48 54.03,448.48 54.20,448.48 C54.37,448.48 54.53,448.48 54.70,448.48 C54.87,448.48 55.03,448.47 55.20,448.47 C55.37,448.47 55.53,448.47 55.70,448.47 C55.87,448.47 56.03,448.46 56.20,448.46 C56.37,448.46 56.53,448.46 56.70,448.46 C56.87,448.46 57.03,448.45 57.20,448.45 C57.37,448.45 57.53,448.45 57.70,448.45 C57.87,448.45 58.03,448.44 58.20,448.44 C58.37,448.44 58.53,448.44 58.70,448.44 C58.87,448.43 59.03,448.43 59.20,448.43 C59.37,448.43 59.53,448.43 59.70,448.42 C59.87,448.42 60.03,448.42 60.20,448.42 C60.37,448.42 60.53,448.41 60.70,448.41 C60.87,448.41 61.03,448.41 61.20,448.40 C61.37,448.40 61.53,448.40 61.70,448.40 C61.87,448.39 62.03,448.39 62.20,448.39 C62.37,448.39 62.53,448.38 62.70,448.38 C62.87,448.38 63.03,448.38 63.20,448.37 C63.37,448.37 63.53,448.37 63.70,448.37 C63.87,448.36 64.03,448.36 64.20,448.36 C64.37,448.35 64.53,448.35 64.70,448.35 C64.87,448.35 65.03,448.34 65.20,448.34 C65.37,448.34 65.53,448.33 65.70,448.33 C65.87,448.33 66.03,448.32 66.20,448.32 C66.37,448.32 66.53,448.31 66.70,448.31 C66.87,448.31 67.03,448.30 67.20,448.30 C67.37,448.30 67.53,448.29 67.70,448.29 C67.87,448.28 68.03,448.28 68.20,448.28 C68.37,448.27 68.53,448.27 68.70,448.26 C68.87,448.26 69.03,448.26 69.20,448.25 C69.37,448.25 69.53,448.24 69.70,448.24 C69.87,448.23 70.03,448.23 70.20,448.22 C70.37,448.22 70.53,448.21 70.70,448.21 C70.87,448.20 71.03,448.20 71.20,448.19 C71.37,448.19 71.53,448.18 71.70,448.18 C71.87,448.17 72.03,448.17 72.20,448.16 C72.37,448.16 72.53,448.15 72.70,448.14 C72.87,448.14 73.03,448.13 73.20,448.13 C73.37,448.12 73.53,448.11 73.70,448.11 C73.87,448.10 74.03,448.09 74.20,448.09 C74.37,448.08 74.53,448.07 74.70,448.07 C74.87,448.06 75.03,448.05 75.20,448.04 C75.37,448.04 75.53,448.03 75.70,448.02 C75.87,448.01 76.03,448.00 76.20,448.00 C76.37,447.99 76.53,447.98 76.70,447.97 C76.87,447.96 77.03,447.95 77.20,447.94 C77.37,447.93 77.53,447.92 77.70,447.91 C77.87,447.90 78.03,447.89 78.20,447.88 C78.37,447.87 78.53,447.86 78.70,447.85 C78.87,447.84 79.03,447.83 79.20,447.82 C79.37,447.80 79.53,447.79 79.70,447.78 C79.87,447.77 80.03,447.75 80.20,447.74 C80.37,447.73 80.53,447.71 80.70,447.70 C80.87,447.69 81.03,447.67 81.20,447.66 C81.37,447.64 81.53,447.63 81.70,447.61 C81.87,447.59 82.03,447.58 82.20,447.56 C82.37,447.54 82.53,447.52 82.70,447.51 C82.87,447.49 83.03,447.47 83.20,447.45 C83.37,447.43 83.53,447.41 83.70,447.39 C83.87,447.36 84.03,447.34 84.20,447.32 C84.37,447.29 84.53,447.27 84.70,447.25 C84.87,447.22 85.03,447.19 85.20,447.17 C85.37,447.14 85.53,447.11 85.70,447.08 C85.87,447.05 86.03,447.01 86.20,446.98 C86.37,446.94 86.53,446.91 86.70,446.87 C86.87,446.83 87.03,446.79 87.20,446.74 C87.37,446.69 87.53,446.65 87.70,446.59 C87.87,446.54 88.03,446.48 88.20,446.42 C88.37,446.35 88.53,446.29 88.70,446.21 C88.87,446.13 89.03,446.05 89.20,445.96 C89.37,445.86 89.53,445.76 89.70,445.65 C89.87,445.53 90.03,445.41 90.20,445.27 C90.37,445.12 90.53,444.97 90.70,444.79 C90.87,444.62 91.03,444.42 91.20,444.20 C91.37,443.98 91.53,443.75 91.70,443.47 C91.87,443.20 92.03,442.90 92.20,442.56 C92.37,442.23 92.53,441.86 92.70,441.44 C92.87,441.03 93.03,440.58 93.20,440.07 C93.37,439.57 93.53,439.02 93.70,438.41 C93.87,437.80 94.03,437.14 94.20,436.42 C94.37,435.69 94.53,434.91 94.70,434.06 C94.87,433.20 95.03,432.28 95.20,431.29 C95.37,430.30 95.53,429.23 95.70,428.10 C95.87,426.96 96.03,425.75 96.20,424.46 C96.37,423.18 96.53,421.81 96.70,420.39 C96.87,418.96 97.03,417.45 97.20,415.89 C97.37,414.33 97.53,412.69 97.70,411.02 C97.87,409.34 98.03,407.59 98.20,405.83 C98.37,404.06 98.53,402.23 98.70,400.41 C98.87,398.58 99.03,396.71 99.20,394.87 C99.37,393.03 99.53,391.17 99.70,389.36 C99.87,387.56 100.03,385.75 100.20,384.04 C100.37,382.32 100.53,380.64 100.70,379.08 C100.87,377.52 101.03,376.02 101.20,374.68 C101.37,373.34 101.53,372.10 101.70,371.05 C101.87,370.00 102.03,369.08 102.20,368.37 C102.37,367.66 102.53,367.12 102.70,366.79 C102.87,366.47 103.03,366.34 103.20,366.42 C103.37,366.51 103.53,366.80 103.70,367.28 C103.87,367.76 104.03,368.46 104.20,369.31 C104.37,370.17 104.53,371.22 104.70,372.40 C104.87,373.57 105.03,374.92 105.20,376.36 C105.37,377.79 105.53,379.37 105.70,381.00 C105.87,382.63 106.03,384.38 106.20,386.13 C106.37,387.89 106.53,389.73 106.70,391.55 C106.87,393.38 107.03,395.25 107.20,397.09 C107.37,398.93 107.53,400.79 107.70,402.60 C107.87,404.40 108.03,406.20 108.20,407.93 C108.37,409.67 108.53,411.37 108.70,413.01 C108.87,414.64 109.03,416.23 109.20,417.74 C109.37,419.25 109.53,420.70 109.70,422.07 C109.87,423.44 110.03,424.74 110.20,425.97 C110.37,427.19 110.53,428.35 110.70,429.43 C110.87,430.51 111.03,431.51 111.20,432.45 C111.37,433.38 111.53,434.25 111.70,435.05 C111.87,435.85 112.03,436.58 112.20,437.26 C112.37,437.94 112.53,438.55 112.70,439.11 C112.87,439.68 113.03,440.19 113.20,440.65 C113.37,441.12 113.53,441.54 113.70,441.92 C113.87,442.30 114.03,442.64 114.20,442.95 C114.37,443.26 114.53,443.53 114.70,443.78 C114.87,444.03 115.03,444.25 115.20,444.46 C115.37,444.66 115.53,444.83 115.70,445.00 C115.87,445.16 116.03,445.30 116.20,445.43 C116.37,445.56 116.53,445.67 116.70,445.78 C116.87,445.89 117.03,445.98 117.20,446.06 C117.37,446.15 117.53,446.23 117.70,446.30 C117.87,446.37 118.03,446.43 118.20,446.49 C118.37,446.55 118.53,446.60 118.70,446.65 C118.87,446.70 119.03,446.75 119.20,446.79 C119.37,446.84 119.53,446.88 119.70,446.91 C119.87,446.95 120.03,446.99 120.20,447.02 C120.37,447.05 120.53,447.08 120.70,447.11 C120.87,447.14 121.03,447.17 121.20,447.20 C121.37,447.23 121.53,447.25 121.70,447.28 C121.87,447.30 122.03,447.32 122.20,447.35 C122.37,447.37 122.53,447.39 122.70,447.41 C122.87,447.43 123.03,447.45 123.20,447.47 C123.37,447.49 123.53,447.51 123.70,447.53 C123.87,447.55 124.03,447.56 124.20,447.58 C124.37,447.60 124.53,447.61 124.70,447.63 C124.87,447.64 125.03,447.66 125.20,447.67 C125.37,447.69 125.53,447.70 125.70,447.72 C125.87,447.73 126.03,447.74 126.20,447.76 C126.37,447.77 126.53,447.78 126.70,447.79 C126.87,447.81 127.03,447.82 127.20,447.83 C127.37,447.84 127.53,447.85 127.70,447.86 C127.87,447.87 128.03,447.89 128.20,447.90 C128.37,447.91 128.53,447.92 128.70,447.93 C128.87,447.94 129.03,447.94 129.20,447.95 C129.37,447.96 129.53,447.97 129.70,447.98 C129.87,447.99 130.03,448.00 130.20,448.01 C130.37,448.01 130.53,448.02 130.70,448.03 C130.87,448.04 131.03,448.05 131.20,448.05 C131.37,448.06 131.53,448.07 131.70,448.07 C131.87,448.08 132.03,448.09 132.20,448.10 C132.37,448.10 132.53,448.11 132.70,448.12 C132.87,448.12 133.03,448.13 133.20,448.13 C133.37,448.14 133.53,448.15 133.70,448.15 C133.87,448.16 134.03,448.16 134.20,448.17 C134.37,448.17 134.53,448.18 134.70,448.18 C134.87,448.19 135.03,448.20 135.20,448.20 C135.37,448.21 135.53,448.21 135.70,448.22 C135.87,448.22 136.03,448.22 136.20,448.23 C136.37,448.23 136.53,448.24 136.70,448.24 C136.87,448.25 137.03,448.25 137.20,448.26 C137.37,448.26 137.53,448.26 137.70,448.27 C137.87,448.27 138.03,448.28 138.20,448.28 C138.37,448.28 138.53,448.29 138.70,448.29 C138.87,448.30 139.03,448.30 139.20,448.30 C139.37,448.31 139.53,448.31 139.70,448.31 C139.87,448.32 140.03,448.32 140.20,448.32 C140.37,448.33 140.53,448.33 140.70,448.33 C140.87,448.34 141.03,448.34 141.20,448.34 C141.37,448.35 141.53,448.35 141.70,448.35 C141.87,448.35 142.03,448.36 142.20,448.36 C142.37,448.36 142.53,448.37 142.70,448.37 C142.87,448.37 143.03,448.37 143.20,448.38 C143.37,448.38 143.53,448.38 143.70,448.38 C143.87,448.39 144.03,448.39 144.20,448.39 C144.37,448.39 144.53,448.40 144.70,448.40 C144.87,448.40 145.03,448.40 145.20,448.41 C145.37,448.41 145.53,448.41 145.70,448.41 C145.87,448.42 146.03,448.42 146.20,448.42 C146.37,448.42 146.53,448.42 146.70,448.43 C146.87,448.43 147.03,448.43 147.20,448.43 C147.37,448.43 147.53,448.44 147.70,448.44 C147.87,448.44 148.03,448.44 148.20,448.44 C148.37,448.45 148.53,448.45 148.70,448.45 C148.87,448.45 149.03,448.45 149.20,448.45 C149.37,448.46 149.53,448.46 149.70,448.46 C149.87,448.46 150.03,448.46 150.20,448.46 C150.37,448.47 150.53,448.47 150.70,448.47 C150.87,448.47 151.03,448.47 151.20,448.47 C151.37,448.48 151.53,448.48 151.70,448.48 C151.87,448.48 152.03,448.48 152.20,448.48 C152.37,448.48 152.53,448.49 152.70,448.49 C152.87,448.49 153.03,448.49 153.20,448.49 C153.37,448.49 153.53,448.49 153.70,448.50 C153.87,448.50 154.03,448.50 154.20,448.50 C154.37,448.50 154.53,448.50 154.70,448.50 C154.87,448.51 155.03,448.51 155.20,448.51 C155.37,448.51 155.53,448.51 155.70,448.51 C155.87,448.51 156.03,448.51 156.20,448.51 C156.37,448.52 156.53,448.52 156.70,448.52 C156.87,448.52 157.03,448.52 157.20,448.52 C157.37,448.52 157.53,448.52 157.70,448.52 C157.87,448.53 158.03,448.53 158.20,448.53 C158.37,448.53 158.53,448.53 158.70,448.53 C158.87,448.53 159.03,448.53 159.20,448.53 C159.37,448.53 159.53,448.54 159.70,448.54 C159.87,448.54 160.03,448.54 160.20,448.54 C160.37,448.54 160.53,448.54 160.70,448.54 C160.87,448.54 161.03,448.54 161.20,448.54 C161.37,448.55 161.53,448.55 161.70,448.55 C161.87,448.55 162.03,448.55 162.20,448.55 C162.37,448.55 162.53,448.55 162.70,448.55 C162.87,448.55 163.03,448.55 163.20,448.55 C163.37,448.56 163.53,448.56 163.70,448.56 C163.87,448.56 164.03,448.56 164.20,448.56 C164.37,448.56 164.53,448.56 164.70,448.56 C164.87,448.56 165.03,448.56 165.20,448.56 C165.37,448.56 165.53,448.57 165.70,448.57 C165.87,448.57 166.03,448.57 166.20,448.57 C166.37,448.57 166.53,448.57 166.70,448.57 C166.87,448.57 167.03,448.57 167.20,448.57 C167.37,448.57 167.53,448.57 167.70,448.57 C167.87,448.58 168.03,448.58 168.20,448.58 C168.37,448.58 168.53,448.58 168.70,448.58 C168.87,448.58 169.03,448.58 169.20,448.58 C169.37,448.58 169.53,448.58 169.70,448.58 C169.87,448.58 170.03,448.58 170.20,448.58 C170.37,448.58 170.53,448.58 170.70,448.59 C170.87,448.59 171.03,448.59 171.20,448.59 C171.37,448.59 171.53,448.59 171.70,448.59 C171.87,448.59 172.03,448.59 172.20,448.59 C172.37,448.59 172.53,448.59 172.70,448.59 C172.87,448.59 173.03,448.59 173.20,448.59 C173.37,448.59 173.53,448.59 173.70,448.59 C173.87,448.60 174.03,448.60 174.20,448.60 C174.37,448.60 174.53,448.60 174.70,448.60 C174.87,448.60 175.03,448.60 175.20,448.60 C175.37,448.60 175.53,448.60 175.70,448.60 C175.87,448.60 176.03,448.60 176.20,448.60 C176.37,448.60 176.53,448.60 176.70,448.60 C176.87,448.60 177.03,448.60 177.20,448.60 C177.37,448.60 177.53,448.61 177.70,448.61 C177.87,448.61 178.03,448.61 178.20,448.61 C178.37,448.61 178.53,448.61 178.70,448.61 C178.87,448.61 179.12,448.61 179.20,448.61" fill="none" stroke="#22ee22" stroke-width="2.0" clip-path="url(#cD)"/>
<path d="M52.20,448.57 C52.28,448.57 52.53,448.57 52.70,448.57 C52.87,448.57 53.03,448.56 53.20,448.56 C53.37,448.56 53.53,448.56 53.70,448.56 C53.87,448.56 54.03,448.56 54.20,448.56 C54.37,448.56 54.53,448.56 54.70,448.56 C54.87,448.56 55.03,448.56 55.20,448.55 C55.37,448.55 55.53,448.55 55.70,448.55 C55.87,448.55 56.03,448.55 56.20,448.55 C56.37,448.55 56.53,448.55 56.70,448.55 C56.87,448.55 57.03,448.55 57.20,448.55 C57.37,448.54 57.53,448.54 57.70,448.54 C57.87,448.54 58.03,448.54 58.20,448.54 C58.37,448.54 58.53,448.54 58.70,448.54 C58.87,448.54 59.03,448.54 59.20,448.53 C59.37,448.53 59.53,448.53 59.70,448.53 C59.87,448.53 60.03,448.53 60.20,448.53 C60.37,448.53 60.53,448.53 60.70,448.53 C60.87,448.52 61.03,448.52 61.20,448.52 C61.37,448.52 61.53,448.52 61.70,448.52 C61.87,448.52 62.03,448.52 62.20,448.52 C62.37,448.52 62.53,448.51 62.70,448.51 C62.87,448.51 63.03,448.51 63.20,448.51 C63.37,448.51 63.53,448.51 63.70,448.51 C63.87,448.50 64.03,448.50 64.20,448.50 C64.37,448.50 64.53,448.50 64.70,448.50 C64.87,448.50 65.03,448.50 65.20,448.49 C65.37,448.49 65.53,448.49 65.70,448.49 C65.87,448.49 66.03,448.49 66.20,448.49 C66.37,448.49 66.53,448.48 66.70,448.48 C66.87,448.48 67.03,448.48 67.20,448.48 C67.37,448.48 67.53,448.48 67.70,448.47 C67.87,448.47 68.03,448.47 68.20,448.47 C68.37,448.47 68.53,448.47 68.70,448.46 C68.87,448.46 69.03,448.46 69.20,448.46 C69.37,448.46 69.53,448.46 69.70,448.45 C69.87,448.45 70.03,448.45 70.20,448.45 C70.37,448.45 70.53,448.45 70.70,448.44 C70.87,448.44 71.03,448.44 71.20,448.44 C71.37,448.44 71.53,448.44 71.70,448.43 C71.87,448.43 72.03,448.43 72.20,448.43 C72.37,448.43 72.53,448.42 72.70,448.42 C72.87,448.42 73.03,448.42 73.20,448.42 C73.37,448.41 73.53,448.41 73.70,448.41 C73.87,448.41 74.03,448.40 74.20,448.40 C74.37,448.40 74.53,448.40 74.70,448.40 C74.87,448.39 75.03,448.39 75.20,448.39 C75.37,448.39 75.53,448.38 75.70,448.38 C75.87,448.38 76.03,448.38 76.20,448.37 C76.37,448.37 76.53,448.37 76.70,448.37 C76.87,448.36 77.03,448.36 77.20,448.36 C77.37,448.35 77.53,448.35 77.70,448.35 C77.87,448.35 78.03,448.34 78.20,448.34 C78.37,448.34 78.53,448.33 78.70,448.33 C78.87,448.33 79.03,448.32 79.20,448.32 C79.37,448.32 79.53,448.31 79.70,448.31 C79.87,448.31 80.03,448.30 80.20,448.30 C80.37,448.30 80.53,448.29 80.70,448.29 C80.87,448.29 81.03,448.28 81.20,448.28 C81.37,448.28 81.53,448.27 81.70,448.27 C81.87,448.26 82.03,448.26 82.20,448.26 C82.37,448.25 82.53,448.25 82.70,448.24 C82.87,448.24 83.03,448.23 83.20,448.23 C83.37,448.23 83.53,448.22 83.70,448.22 C83.87,448.21 84.03,448.21 84.20,448.20 C84.37,448.20 84.53,448.19 84.70,448.19 C84.87,448.18 85.03,448.18 85.20,448.17 C85.37,448.17 85.53,448.16 85.70,448.16 C85.87,448.15 86.03,448.14 86.20,448.14 C86.37,448.13 86.53,448.13 86.70,448.12 C86.87,448.11 87.03,448.11 87.20,448.10 C87.37,448.10 87.53,448.09 87.70,448.08 C87.87,448.08 88.03,448.07 88.20,448.06 C88.37,448.05 88.53,448.05 88.70,448.04 C88.87,448.03 89.03,448.02 89.20,448.02 C89.37,448.01 89.53,448.00 89.70,447.99 C89.87,447.99 90.03,447.98 90.20,447.97 C90.37,447.96 90.53,447.95 90.70,447.94 C90.87,447.93 91.03,447.92 91.20,447.91 C91.37,447.90 91.53,447.89 91.70,447.88 C91.87,447.87 92.03,447.86 92.20,447.85 C92.37,447.84 92.53,447.83 92.70,447.82 C92.87,447.81 93.03,447.80 93.20,447.79 C93.37,447.77 93.53,447.76 93.70,447.75 C93.87,447.74 94.03,447.72 94.20,447.71 C94.37,447.70 94.53,447.68 94.70,447.67 C94.87,447.65 95.03,447.64 95.20,447.62 C95.37,447.61 95.53,447.59 95.70,447.58 C95.87,447.56 96.03,447.54 96.20,447.53 C96.37,447.51 96.53,447.49 96.70,447.47 C96.87,447.45 97.03,447.43 97.20,447.41 C97.37,447.39 97.53,447.37 97.70,447.35 C97.87,447.33 98.03,447.30 98.20,447.28 C98.37,447.26 98.53,447.23 98.70,447.20 C98.87,447.18 99.03,447.15 99.20,447.12 C99.37,447.09 99.53,447.06 99.70,447.03 C99.87,446.99 100.03,446.96 100.20,446.92 C100.37,446.88 100.53,446.84 100.70,446.80 C100.87,446.76 101.03,446.71 101.20,446.66 C101.37,446.61 101.53,446.55 101.70,446.49 C101.87,446.43 102.03,446.37 102.20,446.30 C102.37,446.23 102.53,446.15 102.70,446.06 C102.87,445.98 103.03,445.88 103.20,445.78 C103.37,445.67 103.53,445.56 103.70,445.43 C103.87,445.30 104.03,445.16 104.20,445.01 C104.37,444.85 104.53,444.68 104.70,444.49 C104.87,444.29 105.03,444.09 105.20,443.85 C105.37,443.62 105.53,443.36 105.70,443.08 C105.87,442.79 106.03,442.48 106.20,442.14 C106.37,441.79 106.53,441.42 106.70,441.00 C106.87,440.59 107.03,440.14 107.20,439.64 C107.37,439.15 107.53,438.62 107.70,438.03 C107.87,437.45 108.03,436.82 108.20,436.14 C108.37,435.46 108.53,434.73 108.70,433.94 C108.87,433.16 109.03,432.32 109.20,431.42 C109.37,430.52 109.53,429.56 109.70,428.55 C109.87,427.53 110.03,426.46 110.20,425.33 C110.37,424.20 110.53,423.01 110.70,421.76 C110.87,420.52 111.03,419.22 111.20,417.88 C111.37,416.53 111.53,415.13 111.70,413.70 C111.87,412.26 112.03,410.78 112.20,409.27 C112.37,407.77 112.53,406.22 112.70,404.67 C112.87,403.12 113.03,401.54 113.20,399.97 C113.37,398.40 113.53,396.82 113.70,395.27 C113.87,393.72 114.03,392.17 114.20,390.68 C114.37,389.19 114.53,387.72 114.70,386.34 C114.87,384.95 115.03,383.61 115.20,382.37 C115.37,381.14 115.53,379.97 115.70,378.94 C115.87,377.91 116.03,376.97 116.20,376.19 C116.37,375.40 116.53,374.73 116.70,374.23 C116.87,373.73 117.03,373.37 117.20,373.17 C117.37,372.98 117.53,372.95 117.70,373.08 C117.87,373.21 118.03,373.50 118.20,373.94 C118.37,374.39 118.53,374.99 118.70,375.73 C118.87,376.46 119.03,377.35 119.20,378.33 C119.37,379.32 119.53,380.45 119.70,381.64 C119.87,382.84 120.03,384.15 120.20,385.51 C120.37,386.87 120.53,388.32 120.70,389.79 C120.87,391.26 121.03,392.80 121.20,394.34 C121.37,395.88 121.53,397.46 121.70,399.03 C121.87,400.59 122.03,402.18 122.20,403.74 C122.37,405.29 122.53,406.85 122.70,408.37 C122.87,409.88 123.03,411.38 123.20,412.83 C123.37,414.28 123.53,415.70 123.70,417.06 C123.87,418.43 124.03,419.75 124.20,421.01 C124.37,422.27 124.53,423.49 124.70,424.64 C124.87,425.79 125.03,426.89 125.20,427.93 C125.37,428.97 125.53,429.95 125.70,430.87 C125.87,431.79 126.03,432.65 126.20,433.46 C126.37,434.27 126.53,435.03 126.70,435.73 C126.87,436.43 127.03,437.08 127.20,437.68 C127.37,438.28 127.53,438.83 127.70,439.34 C127.87,439.86 128.03,440.32 128.20,440.75 C128.37,441.18 128.53,441.57 128.70,441.93 C128.87,442.29 129.03,442.61 129.20,442.90 C129.37,443.20 129.53,443.46 129.70,443.71 C129.87,443.95 130.03,444.17 130.20,444.37 C130.37,444.57 130.53,444.75 130.70,444.91 C130.87,445.07 131.03,445.22 131.20,445.35 C131.37,445.49 131.53,445.60 131.70,445.71 C131.87,445.82 132.03,445.92 132.20,446.01 C132.37,446.10 132.53,446.18 132.70,446.25 C132.87,446.33 133.03,446.40 133.20,446.46 C133.37,446.52 133.53,446.58 133.70,446.63 C133.87,446.68 134.03,446.73 134.20,446.77 C134.37,446.82 134.53,446.86 134.70,446.90 C134.87,446.94 135.03,446.97 135.20,447.01 C135.37,447.04 135.53,447.07 135.70,447.10 C135.87,447.13 136.03,447.16 136.20,447.19 C136.37,447.22 136.53,447.24 136.70,447.27 C136.87,447.29 137.03,447.31 137.20,447.34 C137.37,447.36 137.53,447.38 137.70,447.40 C137.87,447.42 138.03,447.44 138.20,447.46 C138.37,447.48 138.53,447.50 138.70,447.51 C138.87,447.53 139.03,447.55 139.20,447.57 C139.37,447.58 139.53,447.60 139.70,447.61 C139.87,447.63 140.03,447.64 140.20,447.66 C140.37,447.67 140.53,447.69 140.70,447.70 C140.87,447.71 141.03,447.73 141.20,447.74 C141.37,447.75 141.53,447.77 141.70,447.78 C141.87,447.79 142.03,447.80 142.20,447.81 C142.37,447.82 142.53,447.84 142.70,447.85 C142.87,447.86 143.03,447.87 143.20,447.88 C143.37,447.89 143.53,447.90 143.70,447.91 C143.87,447.92 144.03,447.93 144.20,447.94 C144.37,447.95 144.53,447.95 144.70,447.96 C144.87,447.97 145.03,447.98 145.20,447.99 C145.37,448.00 145.53,448.00 145.70,448.01 C145.87,448.02 146.03,448.03 146.20,448.04 C146.37,448.04 146.53,448.05 146.70,448.06 C146.87,448.06 147.03,448.07 147.20,448.08 C147.37,448.08 147.53,448.09 147.70,448.10 C147.87,448.10 148.03,448.11 148.20,448.12 C148.37,448.12 148.53,448.13 148.70,448.13 C148.87,448.14 149.03,448.15 149.20,448.15 C149.37,448.16 149.53,448.16 149.70,448.17 C149.87,448.17 150.03,448.18 150.20,448.18 C150.37,448.19 150.53,448.19 150.70,448.20 C150.87,448.20 151.03,448.21 151.20,448.21 C151.37,448.22 151.53,448.22 151.70,448.23 C151.87,448.23 152.03,448.24 152.20,448.24 C152.37,448.24 152.53,448.25 152.70,448.25 C152.87,448.26 153.03,448.26 153.20,448.27 C153.37,448.27 153.53,448.27 153.70,448.28 C153.87,448.28 154.03,448.28 154.20,448.29 C154.37,448.29 154.53,448.30 154.70,448.30 C154.87,448.30 155.03,448.31 155.20,448.31 C155.37,448.31 155.53,448.32 155.70,448.32 C155.87,448.32 156.03,448.33 156.20,448.33 C156.37,448.33 156.53,448.33 156.70,448.34 C156.87,448.34 157.03,448.34 157.20,448.35 C157.37,448.35 157.53,448.35 157.70,448.36 C157.87,448.36 158.03,448.36 158.20,448.36 C158.37,448.37 158.53,448.37 158.70,448.37 C158.87,448.37 159.03,448.38 159.20,448.38 C159.37,448.38 159.53,448.38 159.70,448.39 C159.87,448.39 160.03,448.39 160.20,448.39 C160.37,448.40 160.53,448.40 160.70,448.40 C160.87,448.40 161.03,448.41 161.20,448.41 C161.37,448.41 161.53,448.41 161.70,448.41 C161.87,448.42 162.03,448.42 162.20,448.42 C162.37,448.42 162.53,448.42 162.70,448.43 C162.87,448.43 163.03,448.43 163.20,448.43 C163.37,448.43 163.53,448.44 163.70,448.44 C163.87,448.44 164.03,448.44 164.20,448.44 C164.37,448.45 164.53,448.45 164.70,448.45 C164.87,448.45 165.03,448.45 165.20,448.45 C165.37,448.46 165.53,448.46 165.70,448.46 C165.87,448.46 166.03,448.46 166.20,448.46 C166.37,448.47 166.53,448.47 166.70,448.47 C166.87,448.47 167.03,448.47 167.20,448.47 C167.37,448.47 167.53,448.48 167.70,448.48 C167.87,448.48 168.03,448.48 168.20,448.48 C168.37,448.48 168.53,448.48 168.70,448.49 C168.87,448.49 169.03,448.49 169.20,448.49 C169.37,448.49 169.53,448.49 169.70,448.49 C169.87,448.50 170.03,448.50 170.20,448.50 C170.37,448.50 170.53,448.50 170.70,448.50 C170.87,448.50 171.03,448.50 171.20,448.51 C171.37,448.51 171.53,448.51 171.70,448.51 C171.87,448.51 172.03,448.51 172.20,448.51 C172.37,448.51 172.53,448.51 172.70,448.52 C172.87,448.52 173.03,448.52 173.20,448.52 C173.37,448.52 173.53,448.52 173.70,448.52 C173.87,448.52 174.03,448.52 174.20,448.53 C174.37,448.53 174.53,448.53 174.70,448.53 C174.87,448.53 175.03,448.53 175.20,448.53 C175.37,448.53 175.53,448.53 175.70,448.53 C175.87,448.53 176.03,448.54 176.20,448.54 C176.37,448.54 176.53,448.54 176.70,448.54 C176.87,448.54 177.03,448.54 177.20,448.54 C177.37,448.54 177.53,448.54 177.70,448.54 C177.87,448.55 178.03,448.55 178.20,448.55 C178.37,448.55 178.53,448.55 178.70,448.55 C178.87,448.55 179.12,448.55 179.20,448.55" fill="none" stroke="#15854a" stroke-width="2.0" clip-path="url(#cD)"/>
<path d="M52.20,448.58 C52.28,448.58 52.53,448.58 52.70,448.58 C52.87,448.58 53.03,448.58 53.20,448.58 C53.37,448.58 53.53,448.58 53.70,448.57 C53.87,448.57 54.03,448.57 54.20,448.57 C54.37,448.57 54.53,448.57 54.70,448.57 C54.87,448.57 55.03,448.57 55.20,448.57 C55.37,448.57 55.53,448.57 55.70,448.57 C55.87,448.57 56.03,448.57 56.20,448.57 C56.37,448.56 56.53,448.56 56.70,448.56 C56.87,448.56 57.03,448.56 57.20,448.56 C57.37,448.56 57.53,448.56 57.70,448.56 C57.87,448.56 58.03,448.56 58.20,448.56 C58.37,448.56 58.53,448.56 58.70,448.55 C58.87,448.55 59.03,448.55 59.20,448.55 C59.37,448.55 59.53,448.55 59.70,448.55 C59.87,448.55 60.03,448.55 60.20,448.55 C60.37,448.55 60.53,448.55 60.70,448.55 C60.87,448.54 61.03,448.54 61.20,448.54 C61.37,448.54 61.53,448.54 61.70,448.54 C61.87,448.54 62.03,448.54 62.20,448.54 C62.37,448.54 62.53,448.54 62.70,448.54 C62.87,448.53 63.03,448.53 63.20,448.53 C63.37,448.53 63.53,448.53 63.70,448.53 C63.87,448.53 64.03,448.53 64.20,448.53 C64.37,448.53 64.53,448.53 64.70,448.52 C64.87,448.52 65.03,448.52 65.20,448.52 C65.37,448.52 65.53,448.52 65.70,448.52 C65.87,448.52 66.03,448.52 66.20,448.52 C66.37,448.51 66.53,448.51 66.70,448.51 C66.87,448.51 67.03,448.51 67.20,448.51 C67.37,448.51 67.53,448.51 67.70,448.51 C67.87,448.50 68.03,448.50 68.20,448.50 C68.37,448.50 68.53,448.50 68.70,448.50 C68.87,448.50 69.03,448.50 69.20,448.49 C69.37,448.49 69.53,448.49 69.70,448.49 C69.87,448.49 70.03,448.49 70.20,448.49 C70.37,448.49 70.53,448.48 70.70,448.48 C70.87,448.48 71.03,448.48 71.20,448.48 C71.37,448.48 71.53,448.48 71.70,448.47 C71.87,448.47 72.03,448.47 72.20,448.47 C72.37,448.47 72.53,448.47 72.70,448.47 C72.87,448.46 73.03,448.46 73.20,448.46 C73.37,448.46 73.53,448.46 73.70,448.46 C73.87,448.46 74.03,448.45 74.20,448.45 C74.37,448.45 74.53,448.45 74.70,448.45 C74.87,448.45 75.03,448.44 75.20,448.44 C75.37,448.44 75.53,448.44 75.70,448.44 C75.87,448.43 76.03,448.43 76.20,448.43 C76.37,448.43 76.53,448.43 76.70,448.43 C76.87,448.42 77.03,448.42 77.20,448.42 C77.37,448.42 77.53,448.42 77.70,448.41 C77.87,448.41 78.03,448.41 78.20,448.41 C78.37,448.41 78.53,448.40 78.70,448.40 C78.87,448.40 79.03,448.40 79.20,448.39 C79.37,448.39 79.53,448.39 79.70,448.39 C79.87,448.39 80.03,448.38 80.20,448.38 C80.37,448.38 80.53,448.38 80.70,448.37 C80.87,448.37 81.03,448.37 81.20,448.37 C81.37,448.36 81.53,448.36 81.70,448.36 C81.87,448.36 82.03,448.35 82.20,448.35 C82.37,448.35 82.53,448.34 82.70,448.34 C82.87,448.34 83.03,448.34 83.20,448.33 C83.37,448.33 83.53,448.33 83.70,448.32 C83.87,448.32 84.03,448.32 84.20,448.31 C84.37,448.31 84.53,448.31 84.70,448.30 C84.87,448.30 85.03,448.30 85.20,448.29 C85.37,448.29 85.53,448.29 85.70,448.28 C85.87,448.28 86.03,448.28 86.20,448.27 C86.37,448.27 86.53,448.27 86.70,448.26 C86.87,448.26 87.03,448.25 87.20,448.25 C87.37,448.25 87.53,448.24 87.70,448.24 C87.87,448.23 88.03,448.23 88.20,448.23 C88.37,448.22 88.53,448.22 88.70,448.21 C88.87,448.21 89.03,448.20 89.20,448.20 C89.37,448.19 89.53,448.19 89.70,448.18 C89.87,448.18 90.03,448.17 90.20,448.17 C90.37,448.16 90.53,448.16 90.70,448.15 C90.87,448.15 91.03,448.14 91.20,448.14 C91.37,448.13 91.53,448.13 91.70,448.12 C91.87,448.12 92.03,448.11 92.20,448.10 C92.37,448.10 92.53,448.09 92.70,448.08 C92.87,448.08 93.03,448.07 93.20,448.07 C93.37,448.06 93.53,448.05 93.70,448.04 C93.87,448.04 94.03,448.03 94.20,448.02 C94.37,448.02 94.53,448.01 94.70,448.00 C94.87,447.99 95.03,447.99 95.20,447.98 C95.37,447.97 95.53,447.96 95.70,447.95 C95.87,447.94 96.03,447.94 96.20,447.93 C96.37,447.92 96.53,447.91 96.70,447.90 C96.87,447.89 97.03,447.88 97.20,447.87 C97.37,447.86 97.53,447.85 97.70,447.84 C97.87,447.83 98.03,447.82 98.20,447.81 C98.37,447.80 98.53,447.79 98.70,447.77 C98.87,447.76 99.03,447.75 99.20,447.74 C99.37,447.73 99.53,447.71 99.70,447.70 C99.87,447.69 100.03,447.67 100.20,447.66 C100.37,447.65 100.53,447.63 100.70,447.62 C100.87,447.60 101.03,447.59 101.20,447.57 C101.37,447.56 101.53,447.54 101.70,447.52 C101.87,447.51 102.03,447.49 102.20,447.47 C102.37,447.45 102.53,447.44 102.70,447.42 C102.87,447.40 103.03,447.38 103.20,447.36 C103.37,447.34 103.53,447.32 103.70,447.29 C103.87,447.27 104.03,447.25 104.20,447.23 C104.37,447.20 104.53,447.18 104.70,447.15 C104.87,447.12 105.03,447.10 105.20,447.07 C105.37,447.04 105.53,447.01 105.70,446.98 C105.87,446.95 106.03,446.92 106.20,446.88 C106.37,446.85 106.53,446.81 106.70,446.77 C106.87,446.73 107.03,446.69 107.20,446.64 C107.37,446.60 107.53,446.55 107.70,446.49 C107.87,446.44 108.03,446.38 108.20,446.32 C108.37,446.26 108.53,446.19 108.70,446.12 C108.87,446.05 109.03,445.97 109.20,445.88 C109.37,445.79 109.53,445.69 109.70,445.58 C109.87,445.48 110.03,445.36 110.20,445.23 C110.37,445.09 110.53,444.95 110.70,444.79 C110.87,444.63 111.03,444.45 111.20,444.25 C111.37,444.06 111.53,443.84 111.70,443.60 C111.87,443.35 112.03,443.09 112.20,442.79 C112.37,442.50 112.53,442.17 112.70,441.81 C112.87,441.45 113.03,441.06 113.20,440.62 C113.37,440.19 113.53,439.72 113.70,439.19 C113.87,438.67 114.03,438.11 114.20,437.49 C114.37,436.86 114.53,436.20 114.70,435.47 C114.87,434.74 115.03,433.96 115.20,433.11 C115.37,432.26 115.53,431.35 115.70,430.38 C115.87,429.41 116.03,428.37 116.20,427.26 C116.37,426.16 116.53,424.98 116.70,423.75 C116.87,422.51 117.03,421.20 117.20,419.83 C117.37,418.46 117.53,417.02 117.70,415.53 C117.87,414.04 118.03,412.48 118.20,410.88 C118.37,409.28 118.53,407.62 118.70,405.93 C118.87,404.24 119.03,402.50 119.20,400.75 C119.37,399.00 119.53,397.20 119.70,395.42 C119.87,393.64 120.03,391.83 120.20,390.06 C120.37,388.29 120.53,386.51 120.70,384.79 C120.87,383.08 121.03,381.37 121.20,379.76 C121.37,378.15 121.53,376.58 121.70,375.13 C121.87,373.68 122.03,372.29 122.20,371.06 C122.37,369.82 122.53,368.69 122.70,367.73 C122.87,366.76 123.03,365.93 123.20,365.28 C123.37,364.64 123.53,364.15 123.70,363.86 C123.87,363.56 124.03,363.45 124.20,363.52 C124.37,363.60 124.53,363.86 124.70,364.30 C124.87,364.74 125.03,365.37 125.20,366.14 C125.37,366.92 125.53,367.88 125.70,368.96 C125.87,370.04 126.03,371.28 126.20,372.61 C126.37,373.93 126.53,375.40 126.70,376.92 C126.87,378.44 127.03,380.07 127.20,381.73 C127.37,383.39 127.53,385.14 127.70,386.88 C127.87,388.62 128.03,390.42 128.20,392.20 C128.37,393.98 128.53,395.79 128.70,397.56 C128.87,399.34 129.03,401.12 129.20,402.85 C129.37,404.58 129.53,406.29 129.70,407.94 C129.87,409.60 130.03,411.22 130.20,412.78 C130.37,414.34 130.53,415.85 130.70,417.30 C130.87,418.74 131.03,420.13 131.20,421.44 C131.37,422.76 131.53,424.01 131.70,425.20 C131.87,426.39 132.03,427.50 132.20,428.56 C132.37,429.61 132.53,430.59 132.70,431.52 C132.87,432.44 133.03,433.30 133.20,434.10 C133.37,434.89 133.53,435.63 133.70,436.31 C133.87,437.00 134.03,437.62 134.20,438.20 C134.37,438.78 134.53,439.31 134.70,439.80 C134.87,440.28 135.03,440.72 135.20,441.13 C135.37,441.53 135.53,441.89 135.70,442.23 C135.87,442.56 136.03,442.86 136.20,443.13 C136.37,443.41 136.53,443.65 136.70,443.88 C136.87,444.10 137.03,444.30 137.20,444.48 C137.37,444.67 137.53,444.83 137.70,444.98 C137.87,445.12 138.03,445.26 138.20,445.38 C138.37,445.50 138.53,445.61 138.70,445.71 C138.87,445.81 139.03,445.90 139.20,445.98 C139.37,446.06 139.53,446.14 139.70,446.20 C139.87,446.27 140.03,446.34 140.20,446.39 C140.37,446.45 140.53,446.51 140.70,446.56 C140.87,446.61 141.03,446.65 141.20,446.69 C141.37,446.74 141.53,446.78 141.70,446.81 C141.87,446.85 142.03,446.89 142.20,446.92 C142.37,446.96 142.53,446.99 142.70,447.02 C142.87,447.05 143.03,447.08 143.20,447.10 C143.37,447.13 143.53,447.16 143.70,447.18 C143.87,447.21 144.03,447.23 144.20,447.25 C144.37,447.28 144.53,447.30 144.70,447.32 C144.87,447.34 145.03,447.36 145.20,447.38 C145.37,447.40 145.53,447.42 145.70,447.44 C145.87,447.46 146.03,447.48 146.20,447.49 C146.37,447.51 146.53,447.53 146.70,447.54 C146.87,447.56 147.03,447.57 147.20,447.59 C147.37,447.60 147.53,447.62 147.70,447.63 C147.87,447.65 148.03,447.66 148.20,447.68 C148.37,447.69 148.53,447.70 148.70,447.72 C148.87,447.73 149.03,447.74 149.20,447.75 C149.37,447.76 149.53,447.78 149.70,447.79 C149.87,447.80 150.03,447.81 150.20,447.82 C150.37,447.83 150.53,447.84 150.70,447.85 C150.87,447.86 151.03,447.87 151.20,447.88 C151.37,447.89 151.53,447.90 151.70,447.91 C151.87,447.92 152.03,447.93 152.20,447.94 C152.37,447.95 152.53,447.95 152.70,447.96 C152.87,447.97 153.03,447.98 153.20,447.99 C153.37,447.99 153.53,448.00 153.70,448.01 C153.87,448.02 154.03,448.02 154.20,448.03 C154.37,448.04 154.53,448.05 154.70,448.05 C154.87,448.06 155.03,448.07 155.20,448.07 C155.37,448.08 155.53,448.09 155.70,448.09 C155.87,448.10 156.03,448.10 156.20,448.11 C156.37,448.12 156.53,448.12 156.70,448.13 C156.87,448.13 157.03,448.14 157.20,448.14 C157.37,448.15 157.53,448.16 157.70,448.16 C157.87,448.17 158.03,448.17 158.20,448.18 C158.37,448.18 158.53,448.19 158.70,448.19 C158.87,448.20 159.03,448.20 159.20,448.20 C159.37,448.21 159.53,448.21 159.70,448.22 C159.87,448.22 160.03,448.23 160.20,448.23 C160.37,448.24 160.53,448.24 160.70,448.24 C160.87,448.25 161.03,448.25 161.20,448.26 C161.37,448.26 161.53,448.26 161.70,448.27 C161.87,448.27 162.03,448.27 162.20,448.28 C162.37,448.28 162.53,448.29 162.70,448.29 C162.87,448.29 163.03,448.30 163.20,448.30 C163.37,448.30 163.53,448.31 163.70,448.31 C163.87,448.31 164.03,448.32 164.20,448.32 C164.37,448.32 164.53,448.32 164.70,448.33 C164.87,448.33 165.03,448.33 165.20,448.34 C165.37,448.34 165.53,448.34 165.70,448.34 C165.87,448.35 166.03,448.35 166.20,448.35 C166.37,448.36 166.53,448.36 166.70,448.36 C166.87,448.36 167.03,448.37 167.20,448.37 C167.37,448.37 167.53,448.37 167.70,448.38 C167.87,448.38 168.03,448.38 168.20,448.38 C168.37,448.39 168.53,448.39 168.70,448.39 C168.87,448.39 169.03,448.39 169.20,448.40 C169.37,448.40 169.53,448.40 169.70,448.40 C169.87,448.41 170.03,448.41 170.20,448.41 C170.37,448.41 170.53,448.41 170.70,448.42 C170.87,448.42 171.03,448.42 171.20,448.42 C171.37,448.42 171.53,448.43 171.70,448.43 C171.87,448.43 172.03,448.43 172.20,448.43 C172.37,448.44 172.53,448.44 172.70,448.44 C172.87,448.44 173.03,448.44 173.20,448.44 C173.37,448.45 173.53,448.45 173.70,448.45 C173.87,448.45 174.03,448.45 174.20,448.45 C174.37,448.46 174.53,448.46 174.70,448.46 C174.87,448.46 175.03,448.46 175.20,448.46 C175.37,448.46 175.53,448.47 175.70,448.47 C175.87,448.47 176.03,448.47 176.20,448.47 C176.37,448.47 176.53,448.48 176.70,448.48 C176.87,448.48 177.03,448.48 177.20,448.48 C177.37,448.48 177.53,448.48 177.70,448.48 C177.87,448.49 178.03,448.49 178.20,448.49 C178.37,448.49 178.53,448.49 178.70,448.49 C178.87,448.49 179.12,448.50 179.20,448.50" fill="none" stroke="#000" stroke-width="2.0" clip-path="url(#cD)"/>
<rect x="51.9" y="343.6" width="128.2" height="108.59999999999997" fill="none" stroke="#000" stroke-width="1.3"/>
<line x1="65.80" y1="452.20" x2="65.80" y2="449.00" stroke="#000" stroke-width="1.1" />
<line x1="65.80" y1="343.60" x2="65.80" y2="346.80" stroke="#000" stroke-width="1.1" />
<line x1="79.80" y1="452.20" x2="79.80" y2="450.20" stroke="#000" stroke-width="1.1" />
<line x1="79.80" y1="343.60" x2="79.80" y2="345.60" stroke="#000" stroke-width="1.1" />
<line x1="93.80" y1="452.20" x2="93.80" y2="450.20" stroke="#000" stroke-width="1.1" />
<line x1="93.80" y1="343.60" x2="93.80" y2="345.60" stroke="#000" stroke-width="1.1" />
<line x1="107.80" y1="452.20" x2="107.80" y2="450.20" stroke="#000" stroke-width="1.1" />
<line x1="107.80" y1="343.60" x2="107.80" y2="345.60" stroke="#000" stroke-width="1.1" />
<line x1="121.80" y1="452.20" x2="121.80" y2="449.00" stroke="#000" stroke-width="1.1" />
<line x1="121.80" y1="343.60" x2="121.80" y2="346.80" stroke="#000" stroke-width="1.1" />
<line x1="135.80" y1="452.20" x2="135.80" y2="450.20" stroke="#000" stroke-width="1.1" />
<line x1="135.80" y1="343.60" x2="135.80" y2="345.60" stroke="#000" stroke-width="1.1" />
<line x1="149.80" y1="452.20" x2="149.80" y2="450.20" stroke="#000" stroke-width="1.1" />
<line x1="149.80" y1="343.60" x2="149.80" y2="345.60" stroke="#000" stroke-width="1.1" />
<line x1="163.80" y1="452.20" x2="163.80" y2="450.20" stroke="#000" stroke-width="1.1" />
<line x1="163.80" y1="343.60" x2="163.80" y2="345.60" stroke="#000" stroke-width="1.1" />
<line x1="177.80" y1="452.20" x2="177.80" y2="449.00" stroke="#000" stroke-width="1.1" />
<line x1="177.80" y1="343.60" x2="177.80" y2="346.80" stroke="#000" stroke-width="1.1" />
<line x1="51.90" y1="436.00" x2="54.90" y2="436.00" stroke="#000" stroke-width="1.1" />
<line x1="180.10" y1="436.00" x2="177.10" y2="436.00" stroke="#000" stroke-width="1.1" />
<line x1="51.90" y1="423.00" x2="54.90" y2="423.00" stroke="#000" stroke-width="1.1" />
<line x1="180.10" y1="423.00" x2="177.10" y2="423.00" stroke="#000" stroke-width="1.1" />
<line x1="51.90" y1="410.00" x2="54.90" y2="410.00" stroke="#000" stroke-width="1.1" />
<line x1="180.10" y1="410.00" x2="177.10" y2="410.00" stroke="#000" stroke-width="1.1" />
<line x1="51.90" y1="397.00" x2="54.90" y2="397.00" stroke="#000" stroke-width="1.1" />
<line x1="180.10" y1="397.00" x2="177.10" y2="397.00" stroke="#000" stroke-width="1.1" />
<line x1="51.90" y1="384.00" x2="54.90" y2="384.00" stroke="#000" stroke-width="1.1" />
<line x1="180.10" y1="384.00" x2="177.10" y2="384.00" stroke="#000" stroke-width="1.1" />
<line x1="51.90" y1="371.00" x2="54.90" y2="371.00" stroke="#000" stroke-width="1.1" />
<line x1="180.10" y1="371.00" x2="177.10" y2="371.00" stroke="#000" stroke-width="1.1" />
<line x1="51.90" y1="358.00" x2="54.90" y2="358.00" stroke="#000" stroke-width="1.1" />
<line x1="180.10" y1="358.00" x2="177.10" y2="358.00" stroke="#000" stroke-width="1.1" />
<rect x="180.6" y="363.0" width="1.3" height="2.4" fill="#000"/>
<text transform="translate(63.90,463.90) scale(1,1.1)" font-size="9.3" text-anchor="middle" font-weight="normal" fill="#000" >1320</text>
<text transform="translate(119.60,463.90) scale(1,1.1)" font-size="9.3" text-anchor="middle" font-weight="normal" fill="#000" >1400</text>
<text transform="translate(176.50,463.90) scale(1,1.1)" font-size="9.3" text-anchor="middle" font-weight="normal" fill="#000" >1480</text>
<text x="60.40" y="362.70" font-size="12.6" text-anchor="start" font-weight="normal" fill="#000" >DFT</text>
<text x="0.00" y="0.00" font-size="11.8" text-anchor="middle" font-weight="bold" fill="#000" transform="translate(40.3,400.7) rotate(-90)">Arb. u.</text>
<text x="116.80" y="481.40" font-size="11.3" text-anchor="middle" font-weight="bold" fill="#000" >Raman shift (cm<tspan font-size="7" dy="-4">-1</tspan><tspan dy="4">)</tspan></text>
<text transform="translate(0.80,346.70) scale(1,1.06)" font-size="14.4" text-anchor="start" font-weight="bold" fill="#000" >B</text>
<line x1="35.20" y1="498.80" x2="54.50" y2="498.80" stroke="#000" stroke-width="2.8" />
<text transform="translate(58.80,501.60) scale(1,1.1)" font-size="8.1" text-anchor="start" font-weight="normal" fill="#000" >Fumarate ion</text>
<line x1="118.90" y1="498.70" x2="138.40" y2="498.70" stroke="#15854a" stroke-width="2.8" />
<text transform="translate(142.50,501.50) scale(1,1.1)" font-size="8.1" text-anchor="start" font-weight="normal" fill="#000" >Fumarate-<tspan font-size="5" dy="-3">2</tspan><tspan dy="3">D</tspan><tspan font-size="5" dy="2">2</tspan><tspan dy="-2"> ion</tspan></text>
<line x1="118.90" y1="514.80" x2="138.40" y2="514.80" stroke="#22ee22" stroke-width="2.8" />
<text transform="translate(142.50,517.90) scale(1,1.1)" font-size="8.1" text-anchor="start" font-weight="normal" fill="#000" >Fumarate-<tspan font-size="5" dy="-3">13</tspan><tspan dy="3">C</tspan><tspan font-size="5.5">4</tspan> ion</text>
<path d="M272.84,477.99 C273.31,477.68 274.73,476.52 275.67,476.14 C276.62,475.76 277.57,475.78 278.51,475.70 C279.46,475.63 280.40,475.95 281.35,475.69 C282.29,475.43 283.24,475.18 284.18,474.12 C285.13,473.06 286.08,470.93 287.02,469.33 C287.97,467.73 288.91,466.00 289.86,464.51 C290.80,463.02 291.75,461.65 292.70,460.40 C293.64,459.14 294.59,458.01 295.53,456.99 C296.48,455.98 297.42,454.99 298.37,454.30 C299.31,453.61 300.26,453.13 301.21,452.84 C302.15,452.55 303.10,452.65 304.04,452.55 C304.99,452.46 305.93,452.20 306.88,452.27 C307.83,452.34 308.77,452.65 309.72,452.98 C310.66,453.31 311.61,453.85 312.55,454.26 C313.50,454.66 314.44,454.96 315.39,455.39 C316.34,455.82 317.28,456.38 318.23,456.81 C319.17,457.23 320.12,457.59 321.06,457.94 C322.01,458.30 322.96,458.77 323.90,458.94 C324.85,459.10 325.79,458.77 326.74,458.94 C327.68,459.10 328.63,459.57 329.57,459.93 C330.52,460.28 331.47,460.83 332.41,461.06 C333.36,461.30 334.30,461.35 335.25,461.35 C336.19,461.35 337.14,461.33 338.09,461.06 C339.03,460.80 339.98,460.58 340.92,459.74 C341.87,458.91 342.81,457.59 343.76,456.06 C344.70,454.52 345.92,452.54 346.60,450.52 C347.28,448.51 347.36,445.11 347.84,443.95 C348.31,442.79 348.96,444.51 349.43,443.57 C349.91,442.64 349.99,440.07 350.67,438.34 C351.35,436.62 352.57,434.66 353.51,433.24 C354.46,431.81 355.40,430.15 356.35,429.80 C357.29,429.45 358.24,430.27 359.18,431.13 C360.13,431.98 361.08,433.49 362.02,434.91 C362.97,436.33 363.91,438.02 364.86,439.64 C365.80,441.25 366.75,443.27 367.70,444.62 C368.64,445.97 369.59,447.13 370.53,447.73 C371.48,448.33 372.42,448.21 373.37,448.21 C374.31,448.22 375.26,448.00 376.21,447.76 C377.15,447.51 378.10,446.77 379.04,446.74 C379.99,446.72 380.93,446.85 381.88,447.61 C382.83,448.38 383.77,449.53 384.72,451.32 C385.66,453.12 386.61,456.03 387.55,458.37 C388.50,460.71 389.44,463.19 390.39,465.37 C391.34,467.54 392.28,469.72 393.23,471.42 C394.17,473.12 395.12,474.35 396.06,475.58 C397.01,476.81 397.96,477.84 398.90,478.80 C399.85,479.75 400.79,480.70 401.74,481.32 C402.68,481.93 403.63,482.01 404.57,482.50 C405.52,482.99 406.47,483.66 407.41,484.25 C408.36,484.83 409.30,485.57 410.25,486.00 C411.19,486.42 412.14,486.69 413.09,486.80 C414.03,486.91 414.98,487.08 415.92,486.66 C416.87,486.23 417.81,485.59 418.76,484.25 C419.70,482.90 420.85,479.86 421.60,478.57 C422.35,477.28 422.44,477.88 423.26,476.52 C424.08,475.17 425.43,472.17 426.52,470.43 C427.61,468.70 428.70,467.39 429.78,466.09 C430.87,464.78 431.96,463.22 433.04,462.61 C434.13,461.99 435.22,462.51 436.30,462.41 C437.39,462.31 438.48,462.50 439.57,462.01 C440.65,461.51 441.74,460.43 442.83,459.42 C443.91,458.42 445.00,457.23 446.09,455.97 C447.17,454.71 448.26,453.74 449.35,451.86 C450.43,449.99 451.52,447.67 452.61,444.70 C453.70,441.73 454.78,438.32 455.87,434.04 C456.96,429.77 458.04,424.00 459.13,419.04 C460.22,414.08 461.30,408.46 462.39,404.28 C463.48,400.10 464.57,396.57 465.65,393.96 C466.74,391.35 467.83,389.25 468.91,388.63 C470.00,388.01 471.09,388.83 472.17,390.26 C473.26,391.69 474.35,394.36 475.43,397.22 C476.52,400.08 477.93,405.17 478.70,407.43 C479.46,409.70 479.30,408.12 480.00,410.80 C480.70,413.48 481.93,419.44 482.90,423.53 C483.87,427.62 484.70,431.29 485.80,435.36 C486.90,439.43 488.28,444.14 489.50,447.95 C490.72,451.76 491.88,455.30 493.10,458.23 C494.32,461.16 495.58,463.25 496.80,465.54 C498.02,467.83 499.20,470.05 500.40,471.94 C501.60,473.83 502.78,475.31 504.00,476.90 C505.22,478.49 506.48,480.05 507.70,481.47 C508.92,482.89 510.08,484.21 511.30,485.43 C512.52,486.65 513.93,488.18 515.00,488.80 C516.07,489.42 516.77,489.17 517.70,489.17 C518.62,489.17 519.59,489.11 520.53,488.81 C521.48,488.50 522.42,487.77 523.37,487.34 C524.31,486.91 525.26,486.52 526.21,486.25 C527.15,485.98 528.10,486.09 529.04,485.73 C529.99,485.37 530.93,484.85 531.88,484.08 C532.83,483.31 533.63,481.73 534.72,481.10 C535.80,480.47 536.57,481.49 538.40,480.28 C540.23,479.07 543.27,476.49 545.70,473.83 C548.13,471.17 551.03,466.65 553.00,464.30 C554.97,461.95 556.03,461.38 557.50,459.75 C558.97,458.12 560.60,456.49 561.80,454.54 C563.00,452.59 563.73,450.20 564.70,448.06 C565.67,445.92 566.63,443.91 567.60,441.68 C568.57,439.45 569.53,437.07 570.50,434.70 C571.47,432.33 572.42,429.45 573.40,427.46 C574.38,425.47 575.55,423.65 576.40,422.76 C577.25,421.87 577.69,421.73 578.51,422.13 C579.34,422.53 580.40,423.68 581.35,425.16 C582.30,426.64 583.24,429.07 584.19,431.02 C585.13,432.98 586.08,435.41 587.03,436.89 C587.97,438.37 588.92,439.42 589.86,439.92 C590.81,440.41 591.76,440.23 592.70,439.86 C593.65,439.49 594.59,438.10 595.54,437.69 C596.49,437.28 597.43,437.68 598.38,437.40 C599.32,437.12 600.27,436.55 601.21,436.00 C602.16,435.45 603.11,434.83 604.05,434.11 C605.00,433.38 605.94,432.15 606.89,431.65 C607.84,431.14 608.78,431.68 609.73,431.08 C610.67,430.48 611.62,429.16 612.57,428.05 C613.51,426.95 614.46,425.85 615.40,424.46 C616.35,423.07 617.29,421.62 618.24,419.73 C619.19,417.84 620.29,415.55 621.08,413.11 C621.87,410.66 622.53,406.64 623.00,405.07 C623.47,403.49 623.15,406.68 623.92,403.65 C624.68,400.62 626.37,392.71 627.60,386.90 C628.83,381.09 630.15,374.00 631.30,368.79 C632.45,363.57 633.37,359.32 634.50,355.61 C635.63,351.90 637.10,347.22 638.10,346.52 C639.10,345.82 639.48,347.63 640.50,351.41 C641.52,355.19 642.97,363.07 644.20,369.21 C645.43,375.34 646.65,381.88 647.90,388.20 C649.15,394.52 650.32,400.80 651.70,407.10 C653.08,413.40 655.30,421.67 656.20,425.98 C657.10,430.29 656.07,428.74 657.10,432.94 C658.13,437.14 660.45,445.16 662.40,451.16 C664.35,457.16 666.93,464.23 668.80,468.96 C670.67,473.69 672.57,477.35 673.60,479.52 C674.63,481.69 674.77,481.59 675.00,482.00 L675.00,490.00 C674.77,489.68 674.63,489.84 673.60,488.08 C672.57,486.32 670.67,483.25 668.80,479.44 C666.93,475.63 664.35,469.94 662.40,465.24 C660.45,460.54 658.13,454.63 657.10,451.26 C656.07,447.89 657.10,447.95 656.20,445.02 C655.30,442.09 653.08,437.47 651.70,433.70 C650.32,429.93 649.15,426.15 647.90,422.40 C646.65,418.65 645.43,414.50 644.20,411.19 C642.97,407.89 641.52,403.85 640.50,402.59 C639.48,401.34 639.10,403.21 638.10,403.68 C637.10,404.14 635.63,404.07 634.50,405.39 C633.37,406.72 632.45,408.56 631.30,411.61 C630.15,414.66 628.83,419.71 627.60,423.70 C626.37,427.69 624.68,433.53 623.92,435.54 C623.15,437.54 623.47,434.79 623.00,435.73 C622.53,436.68 621.87,439.83 621.08,441.21 C620.29,442.60 619.19,443.42 618.24,444.05 C617.29,444.68 616.35,444.49 615.40,445.00 C614.46,445.50 613.51,446.42 612.57,447.08 C611.62,447.74 610.67,448.75 609.73,448.97 C608.78,449.19 607.84,448.28 606.89,448.40 C605.94,448.53 605.00,449.38 604.05,449.73 C603.11,450.07 602.16,450.15 601.21,450.48 C600.27,450.82 599.32,451.38 598.38,451.73 C597.43,452.08 596.49,451.98 595.54,452.58 C594.59,453.18 593.65,454.75 592.70,455.32 C591.76,455.90 590.81,456.03 589.86,456.02 C588.92,456.02 587.97,455.99 587.03,455.27 C586.08,454.54 585.13,452.87 584.19,451.67 C583.24,450.48 582.30,448.80 581.35,448.08 C580.40,447.35 579.34,447.60 578.51,447.32 C577.69,447.05 577.25,446.40 576.40,446.44 C575.55,446.48 574.38,446.73 573.40,447.54 C572.42,448.35 571.47,449.77 570.50,451.30 C569.53,452.83 568.57,454.95 567.60,456.72 C566.63,458.49 565.67,460.18 564.70,461.94 C563.73,463.70 563.00,465.71 561.80,467.26 C560.60,468.81 558.97,469.98 557.50,471.25 C556.03,472.52 554.97,472.95 553.00,474.90 C551.03,476.85 548.13,480.77 545.70,482.97 C543.27,485.17 540.23,487.19 538.40,488.12 C536.57,489.05 535.80,488.05 534.72,488.57 C533.63,489.09 532.83,490.59 531.88,491.27 C530.93,491.94 529.99,492.37 529.04,492.64 C528.10,492.90 527.15,492.70 526.21,492.87 C525.26,493.05 524.31,493.35 523.37,493.68 C522.42,494.01 521.48,494.53 520.53,494.86 C519.59,495.18 518.62,495.47 517.70,495.63 C516.77,495.79 516.07,496.21 515.00,495.80 C513.93,495.39 512.52,494.15 511.30,493.17 C510.08,492.19 508.92,491.11 507.70,489.93 C506.48,488.75 505.22,487.45 504.00,486.10 C502.78,484.75 501.60,483.30 500.40,481.86 C499.20,480.42 498.02,479.04 496.80,477.46 C495.58,475.88 494.32,474.50 493.10,472.37 C491.88,470.24 490.72,467.17 489.50,464.65 C488.28,462.13 486.90,459.77 485.80,457.24 C484.70,454.71 483.87,452.21 482.90,449.47 C481.93,446.73 480.70,442.46 480.00,440.80 C479.30,439.14 479.46,440.57 478.70,439.52 C477.93,438.48 476.52,435.64 475.43,434.52 C474.35,433.40 473.26,432.95 472.17,432.78 C471.09,432.62 470.00,433.07 468.91,433.54 C467.83,434.01 466.74,434.09 465.65,435.61 C464.57,437.13 463.48,439.61 462.39,442.67 C461.30,445.74 460.22,450.26 459.13,454.00 C458.04,457.74 456.96,462.12 455.87,465.09 C454.78,468.06 453.70,470.09 452.61,471.83 C451.52,473.57 450.43,474.51 449.35,475.53 C448.26,476.55 447.17,477.25 446.09,477.94 C445.00,478.64 443.91,479.27 442.83,479.71 C441.74,480.15 440.65,480.67 439.57,480.60 C438.48,480.54 437.39,479.79 436.30,479.32 C435.22,478.86 434.13,477.72 433.04,477.83 C431.96,477.94 430.87,479.13 429.78,480.00 C428.70,480.87 427.61,481.74 426.52,483.04 C425.43,484.35 424.08,486.80 423.26,487.83 C422.44,488.85 422.35,488.16 421.60,489.21 C420.85,490.26 419.70,492.95 418.76,494.12 C417.81,495.30 416.87,495.92 415.92,496.25 C414.98,496.58 414.03,496.31 413.09,496.11 C412.14,495.90 411.19,495.54 410.25,495.02 C409.30,494.50 408.36,493.67 407.41,492.99 C406.47,492.31 405.52,491.54 404.57,490.95 C403.63,490.37 402.68,490.13 401.74,489.49 C400.79,488.84 399.85,487.90 398.90,487.09 C397.96,486.28 397.01,485.61 396.06,484.63 C395.12,483.65 394.17,482.68 393.23,481.23 C392.28,479.78 391.34,477.85 390.39,475.93 C389.44,474.01 388.50,471.76 387.55,469.69 C386.61,467.62 385.66,464.86 384.72,463.50 C383.77,462.14 382.83,461.72 381.88,461.53 C380.93,461.35 379.99,461.80 379.04,462.41 C378.10,463.01 377.15,464.34 376.21,465.17 C375.26,466.00 374.31,466.73 373.37,467.37 C372.42,468.00 371.48,468.83 370.53,468.99 C369.59,469.14 368.64,468.85 367.70,468.31 C366.75,467.77 365.80,466.63 364.86,465.73 C363.91,464.83 362.97,463.68 362.02,462.89 C361.08,462.11 360.13,461.22 359.18,461.00 C358.24,460.78 357.29,461.42 356.35,461.57 C355.40,461.72 354.46,461.64 353.51,461.92 C352.57,462.20 351.35,462.34 350.67,463.24 C349.99,464.15 349.91,466.71 349.43,467.35 C348.96,467.99 348.31,466.12 347.84,467.09 C347.36,468.06 347.28,471.42 346.60,473.16 C345.92,474.91 344.70,476.40 343.76,477.56 C342.81,478.72 341.87,479.53 340.92,480.11 C339.98,480.70 339.03,480.86 338.09,481.06 C337.14,481.27 336.19,481.35 335.25,481.35 C334.30,481.35 333.36,481.30 332.41,481.06 C331.47,480.83 330.52,480.28 329.57,479.93 C328.63,479.57 327.68,479.10 326.74,478.94 C325.79,478.77 324.85,479.10 323.90,478.94 C322.96,478.77 322.01,478.30 321.06,477.94 C320.12,477.59 319.17,477.23 318.23,476.81 C317.28,476.38 316.34,475.82 315.39,475.39 C314.44,474.96 313.50,474.66 312.55,474.26 C311.61,473.85 310.66,473.31 309.72,472.98 C308.77,472.65 307.83,472.34 306.88,472.27 C305.93,472.20 304.99,472.46 304.04,472.55 C303.10,472.65 302.15,472.65 301.21,472.84 C300.26,473.02 299.31,473.25 298.37,473.65 C297.42,474.04 296.48,474.57 295.53,475.21 C294.59,475.84 293.64,476.60 292.70,477.48 C291.75,478.35 290.80,479.34 289.86,480.45 C288.91,481.57 287.97,482.91 287.02,484.14 C286.08,485.38 285.13,487.13 284.18,487.87 C283.24,488.60 282.29,488.59 281.35,488.57 C280.40,488.54 279.46,487.92 278.51,487.70 C277.57,487.49 276.62,487.18 275.67,487.27 C274.73,487.36 273.31,488.09 272.84,488.25 Z" fill="#808080" fill-opacity="0.5" stroke="none" clip-path="url(#cB)"/>
<path d="M272.84,478.66 C273.31,478.28 274.73,477.02 275.67,476.38 C276.62,475.74 277.57,474.98 278.51,474.81 C279.46,474.64 280.40,475.53 281.35,475.36 C282.29,475.20 283.24,474.55 284.18,473.79 C285.13,473.03 286.08,471.73 287.02,470.81 C287.97,469.88 288.91,469.00 289.86,468.24 C290.80,467.48 291.75,466.84 292.70,466.25 C293.64,465.65 294.59,465.20 295.53,464.68 C296.48,464.15 297.42,463.50 298.37,463.11 C299.31,462.71 300.26,462.50 301.21,462.33 C302.15,462.16 303.10,462.12 304.04,462.09 C304.99,462.06 305.93,462.08 306.88,462.14 C307.83,462.20 308.77,462.34 309.72,462.47 C310.66,462.60 311.61,462.74 312.55,462.94 C313.50,463.15 314.44,463.40 315.39,463.70 C316.34,464.00 317.28,464.32 318.23,464.74 C319.17,465.16 320.12,465.65 321.06,466.21 C322.01,466.77 322.96,467.44 323.90,468.10 C324.85,468.75 325.79,469.55 326.74,470.13 C327.68,470.71 328.63,471.21 329.57,471.60 C330.52,471.98 331.47,472.30 332.41,472.42 C333.36,472.54 334.30,472.57 335.25,472.32 C336.19,472.08 337.14,471.64 338.09,470.95 C339.03,470.26 339.98,469.47 340.92,468.16 C341.87,466.85 342.81,465.36 343.76,463.10 C344.70,460.85 345.92,457.67 346.60,454.63 C347.28,451.58 347.36,446.64 347.84,444.83 C348.31,443.03 348.96,444.89 349.43,443.80 C349.91,442.70 349.99,439.96 350.67,438.26 C351.35,436.55 352.57,434.85 353.51,433.57 C354.46,432.29 355.40,430.77 356.35,430.57 C357.29,430.37 358.24,431.20 359.18,432.37 C360.13,433.53 361.08,435.68 362.02,437.57 C362.97,439.46 363.91,441.77 364.86,443.71 C365.80,445.66 366.75,447.77 367.70,449.24 C368.64,450.70 369.59,451.95 370.53,452.50 C371.48,453.06 372.42,452.80 373.37,452.57 C374.31,452.34 375.26,451.60 376.21,451.11 C377.15,450.63 378.10,449.83 379.04,449.66 C379.99,449.49 380.93,449.48 381.88,450.09 C382.83,450.71 383.77,451.37 384.72,453.37 C385.66,455.37 386.61,459.35 387.55,462.09 C388.50,464.84 389.44,467.73 390.39,469.85 C391.34,471.96 392.28,473.44 393.23,474.76 C394.17,476.09 395.12,477.03 396.06,477.79 C397.01,478.55 397.96,478.85 398.90,479.30 C399.85,479.76 400.79,480.18 401.74,480.51 C402.68,480.84 403.63,480.73 404.57,481.27 C405.52,481.80 406.47,482.91 407.41,483.73 C408.36,484.55 409.30,485.55 410.25,486.18 C411.19,486.81 412.14,487.29 413.09,487.51 C414.03,487.73 414.98,487.51 415.92,487.51 C416.87,487.51 417.81,487.67 418.76,487.51 C419.70,487.35 420.85,486.68 421.60,486.56 C422.35,486.44 422.44,486.85 423.26,486.78 C424.08,486.71 425.43,486.13 426.52,486.13 C427.61,486.13 428.70,486.68 429.78,486.78 C430.87,486.89 431.96,486.79 433.04,486.77 C434.13,486.75 435.22,487.09 436.30,486.66 C437.39,486.22 438.48,485.42 439.57,484.15 C440.65,482.88 441.74,480.56 442.83,479.04 C443.91,477.51 445.00,476.35 446.09,475.01 C447.17,473.66 448.26,472.87 449.35,470.98 C450.43,469.09 451.52,466.82 452.61,463.65 C453.70,460.48 454.78,456.22 455.87,451.97 C456.96,447.71 458.04,442.73 459.13,438.11 C460.22,433.49 461.30,428.14 462.39,424.25 C463.48,420.36 464.57,417.00 465.65,414.74 C466.74,412.47 467.83,410.99 468.91,410.66 C470.00,410.34 471.09,411.20 472.17,412.78 C473.26,414.37 474.35,417.17 475.43,420.17 C476.52,423.18 477.93,428.69 478.70,430.83 C479.46,432.96 479.30,430.83 480.00,433.00 C480.70,435.17 481.93,440.41 482.90,443.87 C483.87,447.33 484.83,450.78 485.80,453.74 C486.77,456.70 487.72,459.20 488.70,461.61 C489.68,464.02 490.60,466.38 491.70,468.19 C492.80,469.99 494.08,471.19 495.30,472.46 C496.52,473.74 497.78,474.77 499.00,475.85 C500.22,476.93 501.38,477.99 502.60,478.94 C503.82,479.88 505.07,480.49 506.30,481.54 C507.53,482.59 508.78,484.06 510.00,485.25 C511.22,486.44 512.32,487.96 513.60,488.66 C514.88,489.36 516.54,489.50 517.70,489.46 C518.85,489.42 519.59,488.94 520.53,488.43 C521.48,487.92 522.42,486.91 523.37,486.39 C524.31,485.87 525.26,485.51 526.21,485.31 C527.15,485.10 528.10,485.31 529.04,485.16 C529.99,485.02 530.93,485.04 531.88,484.46 C532.83,483.87 533.63,482.60 534.72,481.67 C535.80,480.74 536.57,480.44 538.40,478.88 C540.23,477.32 543.27,474.99 545.70,472.33 C548.13,469.67 551.03,465.25 553.00,462.90 C554.97,460.55 556.03,459.95 557.50,458.25 C558.97,456.55 560.60,454.87 561.80,452.68 C563.00,450.49 563.73,447.69 564.70,445.12 C565.67,442.55 566.63,439.99 567.60,437.26 C568.57,434.53 569.53,431.63 570.50,428.71 C571.47,425.79 572.30,422.94 573.40,419.75 C574.50,416.55 576.25,411.25 577.10,409.52 C577.95,407.79 577.80,408.32 578.51,409.35 C579.22,410.39 580.40,412.91 581.35,415.74 C582.30,418.56 583.24,423.24 584.19,426.28 C585.13,429.33 586.08,432.21 587.03,433.99 C587.97,435.77 588.92,436.42 589.86,436.97 C590.81,437.52 591.76,437.51 592.70,437.29 C593.65,437.08 594.59,436.00 595.54,435.69 C596.49,435.37 597.43,435.56 598.38,435.40 C599.32,435.24 600.27,434.97 601.21,434.73 C602.16,434.49 603.11,434.22 604.05,433.97 C605.00,433.72 605.94,433.59 606.89,433.21 C607.84,432.84 608.78,432.14 609.73,431.70 C610.67,431.26 611.62,431.06 612.57,430.57 C613.51,430.07 614.46,429.44 615.40,428.76 C616.35,428.08 617.29,427.49 618.24,426.49 C619.19,425.48 620.29,423.81 621.08,422.70 C621.87,421.59 622.53,420.46 623.00,419.83 C623.47,419.20 623.29,420.02 623.92,418.92 C624.54,417.82 626.02,415.40 626.75,413.24 C627.48,411.08 627.43,408.74 628.30,405.97 C629.17,403.19 630.88,399.25 632.00,396.57 C633.12,393.90 634.10,391.50 635.00,389.94 C635.90,388.38 636.60,387.05 637.40,387.23 C638.20,387.41 639.05,389.08 639.80,391.01 C640.55,392.94 641.05,395.93 641.90,398.82 C642.75,401.71 643.88,405.27 644.90,408.33 C645.92,411.40 646.98,414.27 648.00,417.20 C649.02,420.13 649.83,422.60 651.00,425.90 C652.17,429.20 653.65,432.75 655.00,437.00 C656.35,441.25 656.93,445.96 659.10,451.43 C661.27,456.90 665.40,464.78 668.00,469.80 C670.60,474.82 673.58,479.58 674.70,481.54 L674.70,487.66 C673.58,486.15 670.60,482.38 668.00,478.60 C665.40,474.82 661.27,469.24 659.10,464.97 C656.93,460.70 656.35,456.31 655.00,453.00 C653.65,449.69 652.17,447.47 651.00,445.10 C649.83,442.73 649.02,440.91 648.00,438.80 C646.98,436.69 645.92,434.44 644.90,432.47 C643.88,430.50 642.75,428.73 641.90,426.98 C641.05,425.24 640.55,423.09 639.80,421.99 C639.05,420.89 638.20,420.36 637.40,420.37 C636.60,420.38 635.90,420.89 635.00,422.06 C634.10,423.24 633.12,425.30 632.00,427.43 C630.88,429.55 629.17,432.56 628.30,434.83 C627.43,437.11 627.48,439.41 626.75,441.08 C626.02,442.75 624.54,444.18 623.92,444.86 C623.29,445.54 623.47,444.85 623.00,445.17 C622.53,445.48 621.87,446.17 621.08,446.75 C620.29,447.33 619.19,448.27 618.24,448.65 C617.29,449.02 616.35,448.76 615.40,449.02 C614.46,449.29 613.51,449.91 612.57,450.24 C611.62,450.57 610.67,450.68 609.73,451.00 C608.78,451.31 607.84,451.88 606.89,452.13 C605.94,452.38 605.00,452.38 604.05,452.51 C603.11,452.64 602.16,452.69 601.21,452.89 C600.27,453.09 599.32,453.45 598.38,453.73 C597.43,454.01 596.49,454.07 595.54,454.58 C594.59,455.08 593.65,456.34 592.70,456.75 C591.76,457.17 590.81,457.16 589.86,457.08 C588.92,457.00 587.97,457.33 587.03,456.27 C586.08,455.22 585.13,453.06 584.19,450.74 C583.24,448.42 582.30,444.46 581.35,442.37 C580.40,440.27 579.22,438.94 578.51,438.16 C577.80,437.38 577.95,436.77 577.10,437.68 C576.25,438.60 574.50,441.72 573.40,443.65 C572.30,445.59 571.47,447.34 570.50,449.29 C569.53,451.24 568.57,453.41 567.60,455.34 C566.63,457.27 565.67,459.08 564.70,460.88 C563.73,462.68 563.00,464.64 561.80,466.12 C560.60,467.60 558.97,468.52 557.50,469.75 C556.03,470.98 554.97,471.55 553.00,473.50 C551.03,475.45 548.13,479.27 545.70,481.47 C543.27,483.67 540.23,485.44 538.40,486.72 C536.57,488.00 535.80,488.32 534.72,489.14 C533.63,489.96 532.83,491.16 531.88,491.64 C530.93,492.13 529.99,492.02 529.04,492.07 C528.10,492.12 527.15,491.82 526.21,491.93 C525.26,492.04 524.31,492.31 523.37,492.73 C522.42,493.16 521.48,494.05 520.53,494.48 C519.59,494.92 518.85,495.37 517.70,495.34 C516.54,495.32 514.88,495.11 513.60,494.34 C512.32,493.57 511.22,492.00 510.00,490.75 C508.78,489.50 507.53,487.97 506.30,486.86 C505.07,485.74 503.82,485.05 502.60,484.06 C501.38,483.08 500.22,481.97 499.00,480.95 C497.78,479.93 496.52,479.09 495.30,477.94 C494.08,476.78 492.80,475.61 491.70,474.02 C490.60,472.42 489.68,470.35 488.70,468.39 C487.72,466.43 486.77,464.64 485.80,462.26 C484.83,459.88 483.87,457.01 482.90,454.13 C481.93,451.25 480.70,446.62 480.00,445.00 C479.30,443.38 479.46,445.62 478.70,444.39 C477.93,443.17 476.52,439.36 475.43,437.65 C474.35,435.95 473.26,434.76 472.17,434.17 C471.09,433.59 470.00,433.72 468.91,434.12 C467.83,434.52 466.74,434.84 465.65,436.57 C464.57,438.29 463.48,441.09 462.39,444.45 C461.30,447.80 460.22,452.60 459.13,456.67 C458.04,460.75 456.96,465.19 455.87,468.90 C454.78,472.62 453.70,476.33 452.61,478.96 C451.52,481.58 450.43,483.30 449.35,484.67 C448.26,486.04 447.17,486.34 446.09,487.17 C445.00,488.00 443.91,488.65 442.83,489.66 C441.74,490.67 440.65,492.48 439.57,493.24 C438.48,494.00 437.39,494.29 436.30,494.21 C435.22,494.14 434.13,493.03 433.04,492.79 C431.96,492.55 430.87,492.89 429.78,492.78 C428.70,492.67 427.61,492.13 426.52,492.13 C425.43,492.13 424.08,492.71 423.26,492.78 C422.44,492.85 422.35,492.44 421.60,492.56 C420.85,492.68 419.70,493.35 418.76,493.51 C417.81,493.67 416.87,493.51 415.92,493.51 C414.98,493.51 414.03,493.73 413.09,493.51 C412.14,493.29 411.19,492.81 410.25,492.18 C409.30,491.55 408.36,490.55 407.41,489.73 C406.47,488.91 405.52,487.80 404.57,487.27 C403.63,486.73 402.68,486.81 401.74,486.51 C400.79,486.21 399.85,485.82 398.90,485.45 C397.96,485.08 397.01,484.94 396.06,484.31 C395.12,483.68 394.17,482.86 393.23,481.67 C392.28,480.47 391.34,479.11 390.39,477.13 C389.44,475.14 388.50,472.36 387.55,469.75 C386.61,467.14 385.66,463.24 384.72,461.45 C383.77,459.67 382.83,459.38 381.88,459.05 C380.93,458.73 379.99,459.03 379.04,459.49 C378.10,459.95 377.15,461.04 376.21,461.82 C375.26,462.59 374.31,463.56 373.37,464.15 C372.42,464.73 371.48,465.42 370.53,465.34 C369.59,465.27 368.64,464.63 367.70,463.70 C366.75,462.77 365.80,461.28 364.86,459.76 C363.91,458.24 362.97,456.14 362.02,454.56 C361.08,452.98 360.13,451.16 359.18,450.30 C358.24,449.45 357.29,449.34 356.35,449.45 C355.40,449.57 354.46,450.25 353.51,450.99 C352.57,451.73 351.35,452.60 350.67,453.87 C349.99,455.14 349.91,457.82 349.43,458.62 C348.96,459.41 348.31,457.14 347.84,458.64 C347.36,460.14 347.28,464.95 346.60,467.64 C345.92,470.33 344.70,472.87 343.76,474.77 C342.81,476.68 341.87,478.02 340.92,479.07 C339.98,480.13 339.03,480.67 338.09,481.11 C337.14,481.55 336.19,481.73 335.25,481.72 C334.30,481.71 333.36,481.41 332.41,481.06 C331.47,480.71 330.52,480.08 329.57,479.61 C328.63,479.14 327.68,478.79 326.74,478.24 C325.79,477.69 324.85,476.92 323.90,476.30 C322.96,475.68 322.01,475.03 321.06,474.50 C320.12,473.98 319.17,473.52 318.23,473.13 C317.28,472.75 316.34,472.45 315.39,472.19 C314.44,471.92 313.50,471.70 312.55,471.52 C311.61,471.35 310.66,471.25 309.72,471.15 C308.77,471.04 307.83,470.94 306.88,470.91 C305.93,470.88 304.99,470.89 304.04,470.96 C303.10,471.02 302.15,471.13 301.21,471.29 C300.26,471.45 299.31,471.61 298.37,471.93 C297.42,472.25 296.48,472.77 295.53,473.20 C294.59,473.62 293.64,473.97 292.70,474.46 C291.75,474.96 290.80,475.50 289.86,476.16 C288.91,476.81 287.97,477.59 287.02,478.41 C286.08,479.24 285.13,480.44 284.18,481.10 C283.24,481.76 282.29,482.30 281.35,482.37 C280.40,482.43 279.46,481.44 278.51,481.50 C277.57,481.57 276.62,482.23 275.67,482.77 C274.73,483.31 273.31,484.42 272.84,484.75 Z" fill="#0a5f0a" fill-opacity="0.3" stroke="none" clip-path="url(#cB)"/>
<path d="M272.84,489.50 C273.31,489.46 274.73,489.34 275.67,489.22 C276.62,489.10 277.57,488.94 278.51,488.79 C279.46,488.65 280.40,488.20 281.35,488.37 C282.29,488.53 283.24,489.48 284.18,489.79 C285.13,490.09 286.08,490.02 287.02,490.21 C287.97,490.40 288.91,490.69 289.86,490.92 C290.80,491.16 291.75,491.68 292.70,491.63 C293.64,491.58 294.59,490.99 295.53,490.64 C296.48,490.28 297.42,489.65 298.37,489.50 C299.31,489.36 300.26,489.67 301.21,489.79 C302.15,489.91 303.10,490.26 304.04,490.21 C304.99,490.17 305.93,489.57 306.88,489.50 C307.83,489.43 308.77,489.67 309.72,489.79 C310.66,489.91 311.61,490.14 312.55,490.21 C313.50,490.28 314.44,491.28 315.39,490.21 C316.34,489.15 317.28,486.08 318.23,483.83 C319.17,481.58 320.24,479.34 321.06,476.74 C321.89,474.14 322.48,471.06 323.19,468.23 C323.90,465.39 324.61,462.43 325.32,459.72 C326.03,457.00 326.74,453.81 327.45,451.91 C328.16,450.02 328.87,448.96 329.57,448.37 C330.28,447.78 330.99,448.09 331.70,448.37 C332.41,448.65 333.12,449.13 333.83,450.07 C334.54,451.02 335.25,452.20 335.96,454.04 C336.67,455.89 337.38,458.53 338.09,461.13 C338.79,463.74 339.50,466.81 340.21,469.65 C340.92,472.48 341.63,476.03 342.34,478.16 C343.05,480.28 343.76,481.23 344.47,482.41 C345.18,483.59 346.03,485.00 346.60,485.25 C347.16,485.49 347.36,483.53 347.84,483.89 C348.31,484.24 348.96,486.49 349.43,487.38 C349.91,488.26 349.99,488.66 350.67,489.18 C351.35,489.71 352.57,490.45 353.51,490.51 C354.46,490.57 355.40,489.56 356.35,489.56 C357.29,489.56 358.24,490.19 359.18,490.51 C360.13,490.82 361.08,491.45 362.02,491.45 C362.97,491.45 363.91,490.51 364.86,490.51 C365.80,490.51 366.75,491.61 367.70,491.45 C368.64,491.30 369.59,490.13 370.53,489.56 C371.48,489.00 372.42,488.21 373.37,488.05 C374.31,487.89 375.26,488.52 376.21,488.62 C377.15,488.71 378.10,488.62 379.04,488.62 C379.99,488.62 380.93,488.52 381.88,488.62 C382.83,488.71 383.77,489.18 384.72,489.18 C385.66,489.18 386.61,488.87 387.55,488.62 C388.50,488.36 389.44,488.08 390.39,487.67 C391.34,487.26 392.28,486.54 393.23,486.16 C394.17,485.78 395.12,485.53 396.06,485.40 C397.01,485.28 397.96,485.65 398.90,485.40 C399.85,485.15 400.79,484.39 401.74,483.89 C402.68,483.38 403.63,482.75 404.57,482.38 C405.52,482.00 406.47,482.06 407.41,481.62 C408.36,481.18 409.30,480.61 410.25,479.73 C411.19,478.85 412.14,477.84 413.09,476.32 C414.03,474.81 414.98,472.86 415.92,470.65 C416.87,468.44 417.77,466.78 418.76,463.09 C419.75,459.39 420.95,453.99 421.88,448.48 C422.82,442.96 423.58,435.25 424.35,430.00 C425.12,424.75 425.80,420.58 426.52,416.96 C427.25,413.33 427.97,410.00 428.70,408.26 C429.42,406.52 430.14,406.52 430.87,406.52 C431.59,406.52 432.32,406.70 433.04,408.26 C433.77,409.82 434.49,412.61 435.22,415.87 C435.94,419.13 436.67,423.30 437.39,427.83 C438.12,432.36 438.84,438.33 439.57,443.04 C440.29,447.75 441.01,452.10 441.74,456.09 C442.46,460.07 443.19,464.06 443.91,466.96 C444.64,469.86 445.18,471.67 446.09,473.48 C446.99,475.29 448.26,476.74 449.35,477.83 C450.43,478.91 451.52,479.28 452.61,480.00 C453.70,480.72 454.78,481.63 455.87,482.17 C456.96,482.72 458.04,482.90 459.13,483.26 C460.22,483.62 461.30,484.09 462.39,484.35 C463.48,484.60 464.57,484.49 465.65,484.78 C466.74,485.07 467.83,485.80 468.91,486.09 C470.00,486.38 471.09,486.27 472.17,486.52 C473.26,486.78 474.35,487.32 475.43,487.61 C476.52,487.90 477.61,488.44 478.70,488.26 C479.78,488.08 480.87,486.74 481.96,486.52 C483.04,486.30 483.95,486.78 485.22,486.96 C486.49,487.14 488.12,487.32 489.57,487.61 C491.01,487.90 493.01,488.53 493.91,488.70 C494.82,488.86 494.19,488.63 495.00,488.62 C495.81,488.60 497.52,488.55 498.78,488.62 C500.04,488.68 501.30,489.00 502.57,489.00 C503.83,489.00 505.09,488.52 506.35,488.62 C507.61,488.71 508.87,489.09 510.13,489.56 C511.39,490.04 512.65,491.30 513.91,491.45 C515.17,491.61 516.43,490.82 517.70,490.51 C518.96,490.19 520.22,489.56 521.48,489.56 C522.74,489.56 524.00,490.45 525.26,490.51 C526.52,490.57 527.78,489.78 529.04,489.94 C530.30,490.10 531.56,491.36 532.83,491.45 C534.09,491.55 535.35,490.98 536.61,490.51 C537.87,490.04 539.13,489.03 540.39,488.62 C541.65,488.21 542.91,488.21 544.17,488.05 C545.43,487.89 546.69,488.05 547.96,487.67 C549.22,487.29 550.79,485.94 551.74,485.78 C552.68,485.62 553.00,486.25 553.63,486.73 C554.26,487.20 554.57,488.40 555.52,488.62 C556.47,488.84 558.20,488.36 559.30,488.05 C560.41,487.73 561.19,486.73 562.14,486.73 C563.09,486.73 564.03,487.96 564.98,488.05 C565.92,488.14 566.87,487.20 567.81,487.29 C568.76,487.39 569.66,488.17 570.65,488.62 C571.65,489.06 572.63,489.65 573.78,489.97 C574.94,490.29 576.31,490.76 577.57,490.54 C578.83,490.31 580.09,488.86 581.35,488.64 C582.61,488.42 583.87,489.21 585.13,489.21 C586.40,489.21 587.66,489.05 588.92,488.64 C590.18,488.23 591.44,487.29 592.70,486.75 C593.96,486.22 595.38,486.22 596.49,485.43 C597.59,484.64 598.38,482.43 599.32,482.02 C600.27,481.61 601.21,483.28 602.16,482.97 C603.11,482.65 604.05,481.23 605.00,480.13 C605.94,479.03 606.89,477.92 607.84,476.35 C608.78,474.77 609.73,472.56 610.67,470.67 C611.62,468.78 612.57,466.73 613.51,465.00 C614.46,463.26 615.40,461.84 616.35,460.27 C617.29,458.69 618.24,457.27 619.19,455.54 C620.13,453.80 621.25,452.48 622.02,449.86 C622.80,447.25 623.21,443.56 623.86,439.84 C624.50,436.13 625.26,430.62 625.90,427.56 C626.54,424.50 627.22,425.20 627.70,421.49 C628.18,417.77 628.07,410.51 628.80,405.30 C629.53,400.09 631.15,394.42 632.10,390.20 C633.05,385.98 633.80,382.65 634.50,380.00 C635.20,377.35 635.78,374.30 636.30,374.30 C636.82,374.30 637.17,377.35 637.60,380.00 C638.03,382.65 638.32,385.98 638.90,390.20 C639.48,394.42 640.35,400.27 641.10,405.30 C641.85,410.33 642.63,415.37 643.40,420.40 C644.17,425.43 645.02,431.07 645.70,435.50 C646.38,439.93 646.87,443.22 647.50,447.00 C648.13,450.78 648.37,453.67 649.50,458.20 C650.63,462.73 652.83,470.20 654.30,474.20 C655.77,478.20 656.55,480.07 658.30,482.20 C660.05,484.33 662.52,485.38 664.80,487.00 C667.08,488.62 670.27,490.95 672.00,491.90 C673.73,492.85 674.67,492.57 675.20,492.70" fill="none" stroke="#1a9fe6" stroke-width="1.6" stroke-linejoin="round" stroke-linecap="round" clip-path="url(#cB)"/>
<path d="M272.84,483.12 C273.31,482.88 274.73,481.94 275.67,481.70 C276.62,481.47 277.57,481.63 278.51,481.70 C279.46,481.77 280.40,482.25 281.35,482.13 C282.29,482.01 283.24,481.89 284.18,480.99 C285.13,480.09 286.08,478.16 287.02,476.74 C287.97,475.32 288.91,473.78 289.86,472.48 C290.80,471.18 291.75,470.00 292.70,468.94 C293.64,467.87 294.59,466.93 295.53,466.10 C296.48,465.27 297.42,464.52 298.37,463.97 C299.31,463.43 300.26,463.07 301.21,462.84 C302.15,462.60 303.10,462.65 304.04,462.55 C304.99,462.46 305.93,462.20 306.88,462.27 C307.83,462.34 308.77,462.65 309.72,462.98 C310.66,463.31 311.61,463.85 312.55,464.26 C313.50,464.66 314.44,464.96 315.39,465.39 C316.34,465.82 317.28,466.38 318.23,466.81 C319.17,467.23 320.12,467.59 321.06,467.94 C322.01,468.30 322.96,468.77 323.90,468.94 C324.85,469.10 325.79,468.77 326.74,468.94 C327.68,469.10 328.63,469.57 329.57,469.93 C330.52,470.28 331.47,470.83 332.41,471.06 C333.36,471.30 334.30,471.35 335.25,471.35 C336.19,471.35 337.14,471.30 338.09,471.06 C339.03,470.83 339.98,470.64 340.92,469.93 C341.87,469.22 342.81,468.16 343.76,466.81 C344.70,465.46 345.92,463.73 346.60,461.84 C347.28,459.96 347.36,456.58 347.84,455.52 C348.31,454.46 348.96,456.25 349.43,455.46 C349.91,454.67 349.99,452.11 350.67,450.79 C351.35,449.48 352.57,448.43 353.51,447.58 C354.46,446.73 355.40,445.94 356.35,445.69 C357.29,445.43 358.24,445.53 359.18,446.06 C360.13,446.60 361.08,447.80 362.02,448.90 C362.97,450.00 363.91,451.42 364.86,452.68 C365.80,453.94 366.75,455.52 367.70,456.47 C368.64,457.41 369.59,458.14 370.53,458.36 C371.48,458.58 372.42,458.10 373.37,457.79 C374.31,457.47 375.26,457.00 376.21,456.47 C377.15,455.93 378.10,454.89 379.04,454.57 C379.99,454.26 380.93,454.10 381.88,454.57 C382.83,455.05 383.77,455.84 384.72,457.41 C385.66,458.99 386.61,461.82 387.55,464.03 C388.50,466.24 389.44,468.60 390.39,470.65 C391.34,472.70 392.28,474.75 393.23,476.32 C394.17,477.90 395.12,479.00 396.06,480.11 C397.01,481.21 397.96,482.06 398.90,482.94 C399.85,483.83 400.79,484.77 401.74,485.40 C402.68,486.03 403.63,486.19 404.57,486.73 C405.52,487.26 406.47,487.99 407.41,488.62 C408.36,489.25 409.30,490.04 410.25,490.51 C411.19,490.98 412.14,491.30 413.09,491.45 C414.03,491.61 414.98,491.83 415.92,491.45 C416.87,491.08 417.81,490.45 418.76,489.18 C419.70,487.92 420.85,485.06 421.60,483.89 C422.35,482.72 422.44,483.37 423.26,482.17 C424.08,480.98 425.43,478.26 426.52,476.74 C427.61,475.22 428.70,474.13 429.78,473.04 C430.87,471.96 431.96,470.58 433.04,470.22 C434.13,469.86 435.22,470.69 436.30,470.87 C437.39,471.05 438.48,471.52 439.57,471.30 C440.65,471.09 441.74,470.29 442.83,469.57 C443.91,468.84 445.00,467.93 446.09,466.96 C447.17,465.98 448.26,465.14 449.35,463.70 C450.43,462.25 451.52,460.62 452.61,458.26 C453.70,455.91 454.78,453.19 455.87,449.57 C456.96,445.94 458.04,440.87 459.13,436.52 C460.22,432.17 461.30,427.10 462.39,423.48 C463.48,419.86 464.57,416.85 465.65,414.78 C466.74,412.72 467.83,411.63 468.91,411.09 C470.00,410.54 471.09,410.72 472.17,411.52 C473.26,412.32 474.35,413.88 475.43,415.87 C476.52,417.86 477.93,421.82 478.70,423.48 C479.46,425.13 479.30,423.63 480.00,425.80 C480.70,427.97 481.93,433.08 482.90,436.50 C483.87,439.92 484.70,443.00 485.80,446.30 C486.90,449.60 488.28,453.13 489.50,456.30 C490.72,459.47 491.88,462.77 493.10,465.30 C494.32,467.83 495.58,469.57 496.80,471.50 C498.02,473.43 499.20,475.23 500.40,476.90 C501.60,478.57 502.78,480.03 504.00,481.50 C505.22,482.97 506.48,484.40 507.70,485.70 C508.92,487.00 510.08,488.20 511.30,489.30 C512.52,490.40 513.93,491.78 515.00,492.30 C516.07,492.82 516.77,492.48 517.70,492.40 C518.62,492.32 519.59,492.15 520.53,491.83 C521.48,491.52 522.42,490.89 523.37,490.51 C524.31,490.13 525.26,489.78 526.21,489.56 C527.15,489.34 528.10,489.50 529.04,489.18 C529.99,488.87 530.93,488.40 531.88,487.67 C532.83,486.95 533.63,485.41 534.72,484.83 C535.80,484.26 536.57,485.27 538.40,484.20 C540.23,483.13 543.27,480.83 545.70,478.40 C548.13,475.97 551.03,471.75 553.00,469.60 C554.97,467.45 556.03,466.95 557.50,465.50 C558.97,464.05 560.60,462.65 561.80,460.90 C563.00,459.15 563.73,456.95 564.70,455.00 C565.67,453.05 566.63,451.20 567.60,449.20 C568.57,447.20 569.53,444.95 570.50,443.00 C571.47,441.05 572.42,438.90 573.40,437.50 C574.38,436.10 575.55,435.06 576.40,434.60 C577.25,434.14 577.69,434.39 578.51,434.73 C579.34,435.06 580.40,435.52 581.35,436.62 C582.30,437.72 583.24,439.77 584.19,441.35 C585.13,442.93 586.08,444.97 587.03,446.08 C587.97,447.18 588.92,447.72 589.86,447.97 C590.81,448.22 591.76,448.06 592.70,447.59 C593.65,447.12 594.59,445.64 595.54,445.13 C596.49,444.63 597.43,444.88 598.38,444.56 C599.32,444.25 600.27,443.68 601.21,443.24 C602.16,442.80 603.11,442.45 604.05,441.92 C605.00,441.38 605.94,440.34 606.89,440.02 C607.84,439.71 608.78,440.43 609.73,440.02 C610.67,439.61 611.62,438.45 612.57,437.57 C613.51,436.68 614.46,435.67 615.40,434.73 C616.35,433.78 617.29,433.15 618.24,431.89 C619.19,430.63 620.29,429.08 621.08,427.16 C621.87,425.25 622.53,421.66 623.00,420.40 C623.47,419.14 623.15,422.11 623.92,419.59 C624.68,417.08 626.37,410.20 627.60,405.30 C628.83,400.40 630.15,394.33 631.30,390.20 C632.45,386.07 633.37,383.02 634.50,380.50 C635.63,377.98 637.10,375.68 638.10,375.10 C639.10,374.52 639.48,374.48 640.50,377.00 C641.52,379.52 642.97,385.48 644.20,390.20 C645.43,394.92 646.65,400.27 647.90,405.30 C649.15,410.33 650.32,415.37 651.70,420.40 C653.08,425.43 655.30,431.88 656.20,435.50 C657.10,439.12 656.07,438.32 657.10,442.10 C658.13,445.88 660.45,452.85 662.40,458.20 C664.35,463.55 666.93,469.93 668.80,474.20 C670.67,478.47 672.57,481.83 673.60,483.80 C674.63,485.77 674.77,485.63 675.00,486.00" fill="none" stroke="#000" stroke-width="2.2" stroke-linejoin="round" stroke-linecap="round" clip-path="url(#cB)"/>
<path d="M272.84,481.70 C273.31,481.35 274.73,480.17 275.67,479.57 C276.62,478.98 277.57,478.27 278.51,478.16 C279.46,478.04 280.40,478.98 281.35,478.87 C282.29,478.75 283.24,478.16 284.18,477.45 C285.13,476.74 286.08,475.48 287.02,474.61 C287.97,473.74 288.91,472.91 289.86,472.20 C290.80,471.49 291.75,470.90 292.70,470.35 C293.64,469.81 294.59,469.41 295.53,468.94 C296.48,468.46 297.42,467.87 298.37,467.52 C299.31,467.16 300.26,466.97 301.21,466.81 C302.15,466.64 303.10,466.57 304.04,466.52 C304.99,466.48 305.93,466.48 306.88,466.52 C307.83,466.57 308.77,466.69 309.72,466.81 C310.66,466.93 311.61,467.04 312.55,467.23 C313.50,467.42 314.44,467.66 315.39,467.94 C316.34,468.23 317.28,468.53 318.23,468.94 C319.17,469.34 320.12,469.81 321.06,470.35 C322.01,470.90 322.96,471.56 323.90,472.20 C324.85,472.84 325.79,473.62 326.74,474.18 C327.68,474.75 328.63,475.18 329.57,475.60 C330.52,476.03 331.47,476.50 332.41,476.74 C333.36,476.97 334.30,477.14 335.25,477.02 C336.19,476.90 337.14,476.60 338.09,476.03 C339.03,475.46 339.98,474.80 340.92,473.62 C341.87,472.43 342.81,471.02 343.76,468.94 C344.70,466.86 345.92,464.00 346.60,461.13 C347.28,458.27 347.36,453.39 347.84,451.74 C348.31,450.08 348.96,452.15 349.43,451.21 C349.91,450.26 349.99,447.55 350.67,446.06 C351.35,444.58 352.57,443.29 353.51,442.28 C354.46,441.27 355.40,440.17 356.35,440.01 C357.29,439.85 358.24,440.33 359.18,441.34 C360.13,442.34 361.08,444.33 362.02,446.06 C362.97,447.80 363.91,450.00 364.86,451.74 C365.80,453.47 366.75,455.27 367.70,456.47 C368.64,457.66 369.59,458.61 370.53,458.92 C371.48,459.24 372.42,458.77 373.37,458.36 C374.31,457.95 375.26,457.10 376.21,456.47 C377.15,455.84 378.10,454.89 379.04,454.57 C379.99,454.26 380.93,454.10 381.88,454.57 C382.83,455.05 383.77,455.52 384.72,457.41 C385.66,459.30 386.61,463.24 387.55,465.92 C388.50,468.60 389.44,471.44 390.39,473.49 C391.34,475.54 392.28,476.95 393.23,478.22 C394.17,479.48 395.12,480.36 396.06,481.05 C397.01,481.75 397.96,481.97 398.90,482.38 C399.85,482.79 400.79,483.20 401.74,483.51 C402.68,483.83 403.63,483.73 404.57,484.27 C405.52,484.80 406.47,485.91 407.41,486.73 C408.36,487.55 409.30,488.55 410.25,489.18 C411.19,489.81 412.14,490.29 413.09,490.51 C414.03,490.73 414.98,490.51 415.92,490.51 C416.87,490.51 417.81,490.67 418.76,490.51 C419.70,490.35 420.85,489.68 421.60,489.56 C422.35,489.44 422.44,489.85 423.26,489.78 C424.08,489.71 425.43,489.13 426.52,489.13 C427.61,489.13 428.70,489.67 429.78,489.78 C430.87,489.89 431.96,489.67 433.04,489.78 C434.13,489.89 435.22,490.62 436.30,490.43 C437.39,490.25 438.48,489.71 439.57,488.70 C440.65,487.68 441.74,485.62 442.83,484.35 C443.91,483.08 445.00,482.17 446.09,481.09 C447.17,480.00 448.26,479.46 449.35,477.83 C450.43,476.20 451.52,474.20 452.61,471.30 C453.70,468.41 454.78,464.42 455.87,460.43 C456.96,456.45 458.04,451.74 459.13,447.39 C460.22,443.04 461.30,437.97 462.39,434.35 C463.48,430.72 464.57,427.64 465.65,425.65 C466.74,423.66 467.83,422.75 468.91,422.39 C470.00,422.03 471.09,422.39 472.17,423.48 C473.26,424.57 474.35,426.56 475.43,428.91 C476.52,431.27 477.93,435.93 478.70,437.61 C479.46,439.29 479.30,437.10 480.00,439.00 C480.70,440.90 481.93,445.83 482.90,449.00 C483.87,452.17 484.83,455.33 485.80,458.00 C486.77,460.67 487.72,462.82 488.70,465.00 C489.68,467.18 490.60,469.40 491.70,471.10 C492.80,472.80 494.08,473.98 495.30,475.20 C496.52,476.42 497.78,477.35 499.00,478.40 C500.22,479.45 501.38,480.53 502.60,481.50 C503.82,482.47 505.07,483.12 506.30,484.20 C507.53,485.28 508.78,486.78 510.00,488.00 C511.22,489.22 512.32,490.77 513.60,491.50 C514.88,492.23 516.54,492.41 517.70,492.40 C518.85,492.39 519.59,491.93 520.53,491.45 C521.48,490.98 522.42,490.04 523.37,489.56 C524.31,489.09 525.26,488.77 526.21,488.62 C527.15,488.46 528.10,488.71 529.04,488.62 C529.99,488.52 530.93,488.59 531.88,488.05 C532.83,487.51 533.63,486.28 534.72,485.40 C535.80,484.53 536.57,484.22 538.40,482.80 C540.23,481.38 543.27,479.33 545.70,476.90 C548.13,474.47 551.03,470.35 553.00,468.20 C554.97,466.05 556.03,465.47 557.50,464.00 C558.97,462.53 560.60,461.23 561.80,459.40 C563.00,457.57 563.73,455.18 564.70,453.00 C565.67,450.82 566.63,448.63 567.60,446.30 C568.57,443.97 569.53,441.43 570.50,439.00 C571.47,436.57 572.30,434.27 573.40,431.70 C574.50,429.13 576.25,424.92 577.10,423.60 C577.95,422.28 577.80,422.85 578.51,423.76 C579.22,424.66 580.40,426.59 581.35,429.05 C582.30,431.51 583.24,435.83 584.19,438.51 C585.13,441.19 586.08,443.71 587.03,445.13 C587.97,446.55 588.92,446.71 589.86,447.02 C590.81,447.34 591.76,447.34 592.70,447.02 C593.65,446.71 594.59,445.54 595.54,445.13 C596.49,444.72 597.43,444.79 598.38,444.56 C599.32,444.34 600.27,444.03 601.21,443.81 C602.16,443.59 603.11,443.43 604.05,443.24 C605.00,443.05 605.94,442.99 606.89,442.67 C607.84,442.36 608.78,441.73 609.73,441.35 C610.67,440.97 611.62,440.81 612.57,440.40 C613.51,439.99 614.46,439.36 615.40,438.89 C616.35,438.42 617.29,438.26 618.24,437.57 C619.19,436.87 620.29,435.57 621.08,434.73 C621.87,433.88 622.53,432.97 623.00,432.50 C623.47,432.03 623.29,432.78 623.92,431.89 C624.54,431.00 626.02,429.08 626.75,427.16 C627.48,425.25 627.43,422.93 628.30,420.40 C629.17,417.87 630.88,414.40 632.00,412.00 C633.12,409.60 634.10,407.37 635.00,406.00 C635.90,404.63 636.60,403.72 637.40,403.80 C638.20,403.88 639.05,404.98 639.80,406.50 C640.55,408.02 641.05,410.58 641.90,412.90 C642.75,415.22 643.88,417.88 644.90,420.40 C645.92,422.92 646.98,425.48 648.00,428.00 C649.02,430.52 649.83,432.67 651.00,435.50 C652.17,438.33 653.65,441.22 655.00,445.00 C656.35,448.78 656.93,453.33 659.10,458.20 C661.27,463.07 665.40,469.80 668.00,474.20 C670.60,478.60 673.58,482.87 674.70,484.60" fill="none" stroke="#2af52a" stroke-width="2.2" stroke-linejoin="round" stroke-linecap="round" clip-path="url(#cB)"/>
<rect x="270.8" y="343.2" width="407.09999999999997" height="151.0" fill="none" stroke="#000" stroke-width="1.3"/>
<line x1="273.10" y1="494.20" x2="273.10" y2="491.20" stroke="#000" stroke-width="1.1" />
<line x1="273.10" y1="343.20" x2="273.10" y2="346.20" stroke="#000" stroke-width="1.1" />
<line x1="289.16" y1="494.20" x2="289.16" y2="492.40" stroke="#000" stroke-width="1.1" />
<line x1="289.16" y1="343.20" x2="289.16" y2="345.00" stroke="#000" stroke-width="1.1" />
<line x1="305.22" y1="494.20" x2="305.22" y2="492.40" stroke="#000" stroke-width="1.1" />
<line x1="305.22" y1="343.20" x2="305.22" y2="345.00" stroke="#000" stroke-width="1.1" />
<line x1="321.28" y1="494.20" x2="321.28" y2="492.40" stroke="#000" stroke-width="1.1" />
<line x1="321.28" y1="343.20" x2="321.28" y2="345.00" stroke="#000" stroke-width="1.1" />
<line x1="337.34" y1="494.20" x2="337.34" y2="492.40" stroke="#000" stroke-width="1.1" />
<line x1="337.34" y1="343.20" x2="337.34" y2="345.00" stroke="#000" stroke-width="1.1" />
<line x1="353.40" y1="494.20" x2="353.40" y2="491.20" stroke="#000" stroke-width="1.1" />
<line x1="353.40" y1="343.20" x2="353.40" y2="346.20" stroke="#000" stroke-width="1.1" />
<line x1="369.46" y1="494.20" x2="369.46" y2="492.40" stroke="#000" stroke-width="1.1" />
<line x1="369.46" y1="343.20" x2="369.46" y2="345.00" stroke="#000" stroke-width="1.1" />
<line x1="385.52" y1="494.20" x2="385.52" y2="492.40" stroke="#000" stroke-width="1.1" />
<line x1="385.52" y1="343.20" x2="385.52" y2="345.00" stroke="#000" stroke-width="1.1" />
<line x1="401.58" y1="494.20" x2="401.58" y2="492.40" stroke="#000" stroke-width="1.1" />
<line x1="401.58" y1="343.20" x2="401.58" y2="345.00" stroke="#000" stroke-width="1.1" />
<line x1="417.64" y1="494.20" x2="417.64" y2="492.40" stroke="#000" stroke-width="1.1" />
<line x1="417.64" y1="343.20" x2="417.64" y2="345.00" stroke="#000" stroke-width="1.1" />
<line x1="433.70" y1="494.20" x2="433.70" y2="491.20" stroke="#000" stroke-width="1.1" />
<line x1="433.70" y1="343.20" x2="433.70" y2="346.20" stroke="#000" stroke-width="1.1" />
<line x1="449.76" y1="494.20" x2="449.76" y2="492.40" stroke="#000" stroke-width="1.1" />
<line x1="449.76" y1="343.20" x2="449.76" y2="345.00" stroke="#000" stroke-width="1.1" />
<line x1="465.82" y1="494.20" x2="465.82" y2="492.40" stroke="#000" stroke-width="1.1" />
<line x1="465.82" y1="343.20" x2="465.82" y2="345.00" stroke="#000" stroke-width="1.1" />
<line x1="481.88" y1="494.20" x2="481.88" y2="492.40" stroke="#000" stroke-width="1.1" />
<line x1="481.88" y1="343.20" x2="481.88" y2="345.00" stroke="#000" stroke-width="1.1" />
<line x1="497.94" y1="494.20" x2="497.94" y2="492.40" stroke="#000" stroke-width="1.1" />
<line x1="497.94" y1="343.20" x2="497.94" y2="345.00" stroke="#000" stroke-width="1.1" />
<line x1="514.00" y1="494.20" x2="514.00" y2="491.20" stroke="#000" stroke-width="1.1" />
<line x1="514.00" y1="343.20" x2="514.00" y2="346.20" stroke="#000" stroke-width="1.1" />
<line x1="530.06" y1="494.20" x2="530.06" y2="492.40" stroke="#000" stroke-width="1.1" />
<line x1="530.06" y1="343.20" x2="530.06" y2="345.00" stroke="#000" stroke-width="1.1" />
<line x1="546.12" y1="494.20" x2="546.12" y2="492.40" stroke="#000" stroke-width="1.1" />
<line x1="546.12" y1="343.20" x2="546.12" y2="345.00" stroke="#000" stroke-width="1.1" />
<line x1="562.18" y1="494.20" x2="562.18" y2="492.40" stroke="#000" stroke-width="1.1" />
<line x1="562.18" y1="343.20" x2="562.18" y2="345.00" stroke="#000" stroke-width="1.1" />
<line x1="578.24" y1="494.20" x2="578.24" y2="492.40" stroke="#000" stroke-width="1.1" />
<line x1="578.24" y1="343.20" x2="578.24" y2="345.00" stroke="#000" stroke-width="1.1" />
<line x1="594.30" y1="494.20" x2="594.30" y2="491.20" stroke="#000" stroke-width="1.1" />
<line x1="594.30" y1="343.20" x2="594.30" y2="346.20" stroke="#000" stroke-width="1.1" />
<line x1="610.36" y1="494.20" x2="610.36" y2="492.40" stroke="#000" stroke-width="1.1" />
<line x1="610.36" y1="343.20" x2="610.36" y2="345.00" stroke="#000" stroke-width="1.1" />
<line x1="626.42" y1="494.20" x2="626.42" y2="492.40" stroke="#000" stroke-width="1.1" />
<line x1="626.42" y1="343.20" x2="626.42" y2="345.00" stroke="#000" stroke-width="1.1" />
<line x1="642.48" y1="494.20" x2="642.48" y2="492.40" stroke="#000" stroke-width="1.1" />
<line x1="642.48" y1="343.20" x2="642.48" y2="345.00" stroke="#000" stroke-width="1.1" />
<line x1="658.54" y1="494.20" x2="658.54" y2="492.40" stroke="#000" stroke-width="1.1" />
<line x1="658.54" y1="343.20" x2="658.54" y2="345.00" stroke="#000" stroke-width="1.1" />
<line x1="674.60" y1="494.20" x2="674.60" y2="491.20" stroke="#000" stroke-width="1.1" />
<line x1="674.60" y1="343.20" x2="674.60" y2="346.20" stroke="#000" stroke-width="1.1" />
<line x1="270.80" y1="490.50" x2="274.80" y2="490.50" stroke="#000" stroke-width="1.1" />
<line x1="677.90" y1="490.50" x2="673.90" y2="490.50" stroke="#000" stroke-width="1.1" />
<line x1="270.80" y1="470.25" x2="274.80" y2="470.25" stroke="#000" stroke-width="1.1" />
<line x1="677.90" y1="470.25" x2="673.90" y2="470.25" stroke="#000" stroke-width="1.1" />
<line x1="270.80" y1="450.00" x2="274.80" y2="450.00" stroke="#000" stroke-width="1.1" />
<line x1="677.90" y1="450.00" x2="673.90" y2="450.00" stroke="#000" stroke-width="1.1" />
<line x1="270.80" y1="429.75" x2="274.80" y2="429.75" stroke="#000" stroke-width="1.1" />
<line x1="677.90" y1="429.75" x2="673.90" y2="429.75" stroke="#000" stroke-width="1.1" />
<line x1="270.80" y1="409.50" x2="274.80" y2="409.50" stroke="#000" stroke-width="1.1" />
<line x1="677.90" y1="409.50" x2="673.90" y2="409.50" stroke="#000" stroke-width="1.1" />
<line x1="270.80" y1="389.25" x2="274.80" y2="389.25" stroke="#000" stroke-width="1.1" />
<line x1="677.90" y1="389.25" x2="673.90" y2="389.25" stroke="#000" stroke-width="1.1" />
<line x1="270.80" y1="369.00" x2="274.80" y2="369.00" stroke="#000" stroke-width="1.1" />
<line x1="677.90" y1="369.00" x2="673.90" y2="369.00" stroke="#000" stroke-width="1.1" />
<line x1="270.80" y1="348.75" x2="274.80" y2="348.75" stroke="#000" stroke-width="1.1" />
<line x1="677.90" y1="348.75" x2="673.90" y2="348.75" stroke="#000" stroke-width="1.1" />
<text transform="translate(271.80,507.00) scale(1,1.1)" font-size="10.1" text-anchor="middle" font-weight="normal" fill="#000" >1200</text>
<text transform="translate(352.10,507.00) scale(1,1.1)" font-size="10.1" text-anchor="middle" font-weight="normal" fill="#000" >1300</text>
<text transform="translate(432.40,507.00) scale(1,1.1)" font-size="10.1" text-anchor="middle" font-weight="normal" fill="#000" >1400</text>
<text transform="translate(512.70,507.00) scale(1,1.1)" font-size="10.1" text-anchor="middle" font-weight="normal" fill="#000" >1500</text>
<text transform="translate(593.00,507.00) scale(1,1.1)" font-size="10.1" text-anchor="middle" font-weight="normal" fill="#000" >1600</text>
<text transform="translate(673.30,507.00) scale(1,1.1)" font-size="10.1" text-anchor="middle" font-weight="normal" fill="#000" >1700</text>
<text transform="translate(265.30,494.80) scale(1,1.1)" font-size="10.4" text-anchor="end" font-weight="normal" fill="#000" >0</text>
<text transform="translate(265.30,454.30) scale(1,1.1)" font-size="10.4" text-anchor="end" font-weight="normal" fill="#000" >200</text>
<text transform="translate(265.30,413.80) scale(1,1.1)" font-size="10.4" text-anchor="end" font-weight="normal" fill="#000" >400</text>
<text transform="translate(265.30,373.30) scale(1,1.1)" font-size="10.4" text-anchor="end" font-weight="normal" fill="#000" >600</text>
<text x="482.20" y="524.60" font-size="12.1" text-anchor="middle" font-weight="bold" fill="#000" >Raman shift (cm<tspan font-size="7.5" dy="-4.5">-1</tspan><tspan dy="4.5">)</tspan></text>
<text x="0.00" y="0.00" font-size="10.6" text-anchor="middle" font-weight="bold" fill="#000" transform="translate(229.8,412) rotate(-90)">Raman intensity (cts/s)</text>
<line x1="284.30" y1="361.90" x2="305.60" y2="361.90" stroke="#000" stroke-width="2.6" />
<text transform="translate(312.40,365.00) scale(1,1.1)" font-size="11.4" text-anchor="start" font-weight="normal" fill="#000" >Fh1-KO, fed L-glut.</text>
<line x1="284.30" y1="378.00" x2="305.60" y2="378.00" stroke="#2af52a" stroke-width="2.6" />
<text transform="translate(312.40,381.70) scale(1,1.1)" font-size="11.4" text-anchor="start" font-weight="normal" fill="#000" >Fh1-KO, fed L-glut.-<tspan font-size="6.5" dy="-3.5">13</tspan><tspan dy="3.5">C</tspan><tspan font-size="7">5</tspan></text>
<line x1="284.30" y1="394.00" x2="305.60" y2="394.00" stroke="#1a9fe6" stroke-width="2.6" />
<text transform="translate(312.40,399.20) scale(1,1.1)" font-size="11.4" text-anchor="start" font-weight="normal" fill="#000" >Fumarate (100 mM, aq.)</text>
</svg></body></html>
